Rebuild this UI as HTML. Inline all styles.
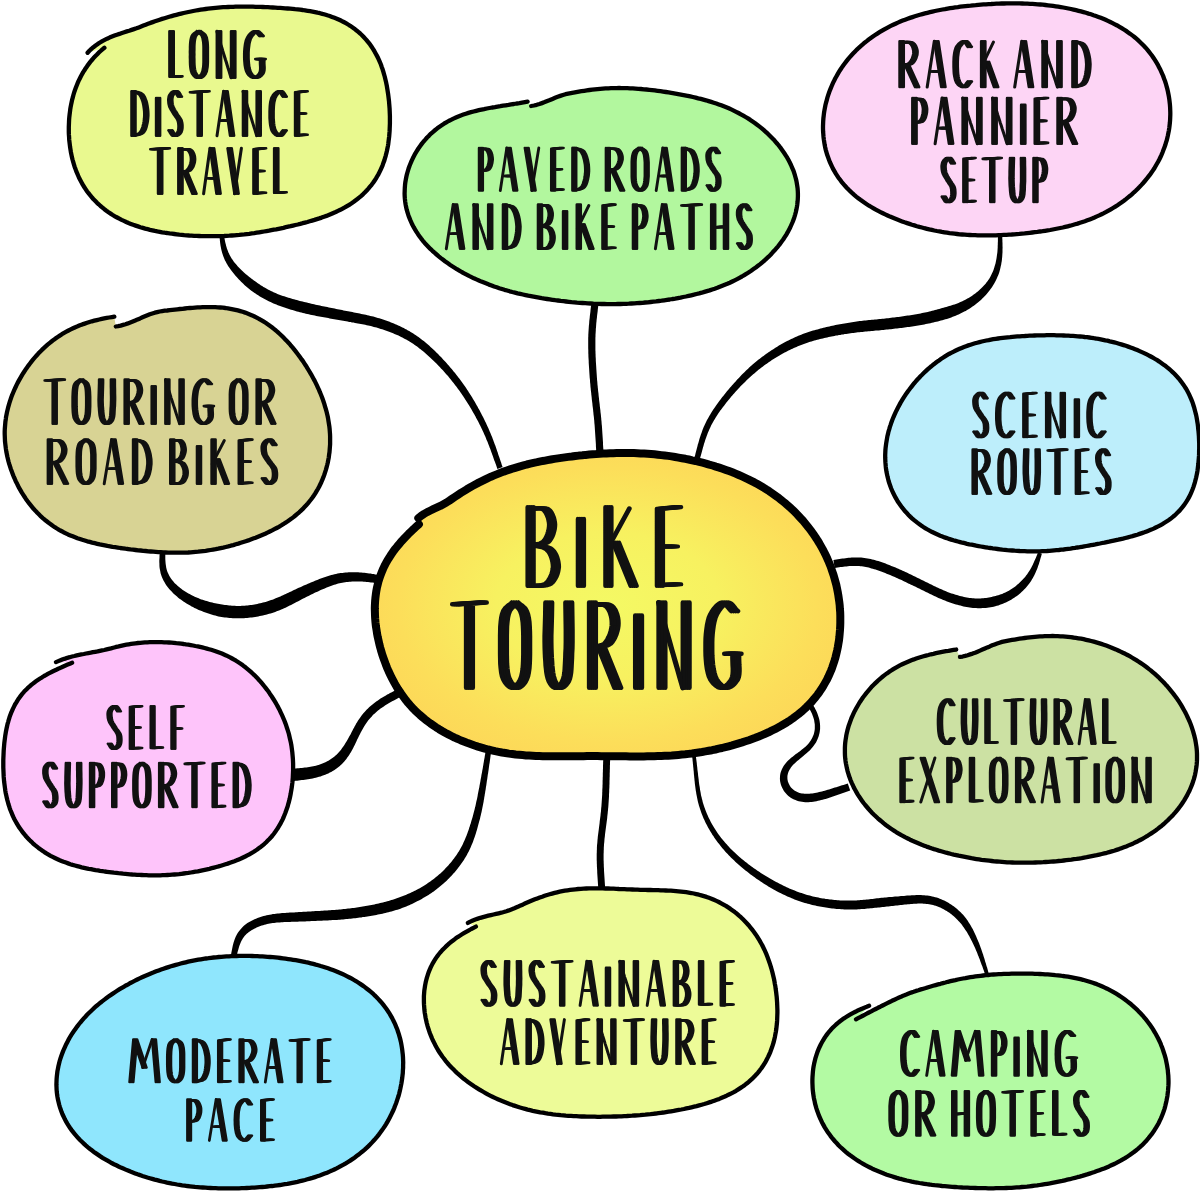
<!DOCTYPE html><html><head><meta charset="utf-8"><style>html,body{margin:0;padding:0;background:#fff;}svg{display:block;}text{font-family:"Liberation Sans",sans-serif;}</style></head><body>
<svg width="1200" height="1191" viewBox="0 0 1200 1191">
<defs><radialGradient id="cg" cx="0.5" cy="0.5" r="0.6"><stop offset="0" stop-color="#F4F964"/><stop offset="0.4" stop-color="#F7F160"/><stop offset="0.75" stop-color="#FCDE5A"/><stop offset="1" stop-color="#FDD457"/></radialGradient></defs>
<rect width="1200" height="1191" fill="#fff"/>
<path d="M219.4,236.3 L219.6,237.8 L219.8,239.3 L219.9,240.8 L220.1,242.4 L220.3,243.9 L220.5,245.4 L220.8,246.9 L221.1,248.5 L221.4,250.0 L221.8,251.5 L222.2,253.0 L222.7,254.5 L223.2,256.0 L223.8,257.5 L224.4,259.0 L225.0,260.4 L225.8,261.8 L226.5,263.2 L227.3,264.6 L228.1,265.9 L229.0,267.3 L229.9,268.6 L230.8,269.8 L231.7,271.1 L232.7,272.3 L233.7,273.6 L234.7,274.8 L235.7,276.0 L236.7,277.1 L237.8,278.3 L238.9,279.4 L240.0,280.5 L241.1,281.7 L242.2,282.7 L243.3,283.8 L244.4,284.9 L245.6,285.9 L246.8,287.0 L248.0,288.0 L249.2,289.0 L250.4,289.9 L251.7,290.9 L252.9,291.8 L254.2,292.7 L255.5,293.6 L256.8,294.5 L258.2,295.3 L259.5,296.2 L260.8,297.0 L262.2,297.8 L263.6,298.5 L265.0,299.3 L266.4,300.0 L267.8,300.8 L269.2,301.4 L270.6,302.1 L272.0,302.8 L273.5,303.4 L274.9,304.0 L276.4,304.6 L277.8,305.2 L279.3,305.7 L280.8,306.3 L282.2,306.8 L283.7,307.3 L285.2,307.8 L286.6,308.3 L288.1,308.7 L289.6,309.2 L291.0,309.7 L292.5,310.1 L294.0,310.5 L295.5,311.0 L296.9,311.4 L298.4,311.8 L299.9,312.2 L301.4,312.6 L302.9,313.0 L304.4,313.3 L305.8,313.7 L307.3,314.0 L308.8,314.3 L310.3,314.7 L311.8,315.0 L313.3,315.3 L314.8,315.6 L316.3,315.9 L317.8,316.2 L319.3,316.5 L320.8,316.7 L322.3,317.0 L323.8,317.3 L325.3,317.6 L326.8,317.8 L328.3,318.1 L329.7,318.4 L331.2,318.7 L332.7,318.9 L334.2,319.2 L335.7,319.5 L337.2,319.7 L338.7,320.0 L340.1,320.3 L341.6,320.5 L343.1,320.8 L344.6,321.1 L346.1,321.3 L347.6,321.6 L349.1,321.9 L350.6,322.1 L352.0,322.4 L353.5,322.6 L355.0,322.9 L356.5,323.2 L357.9,323.4 L359.4,323.7 L360.9,324.0 L362.3,324.3 L363.8,324.5 L365.2,324.8 L366.7,325.2 L368.1,325.5 L369.5,325.8 L370.9,326.1 L372.4,326.5 L373.8,326.9 L375.2,327.2 L376.6,327.6 L378.0,328.0 L379.4,328.4 L380.8,328.9 L382.2,329.3 L383.6,329.8 L384.9,330.2 L386.3,330.7 L387.7,331.2 L389.1,331.7 L390.4,332.2 L391.8,332.8 L393.1,333.3 L394.5,333.9 L395.8,334.4 L397.1,335.0 L398.5,335.6 L399.8,336.3 L401.1,336.9 L402.4,337.5 L403.6,338.2 L404.9,338.9 L406.2,339.6 L407.4,340.3 L408.7,341.0 L409.9,341.8 L411.1,342.5 L412.3,343.3 L413.5,344.1 L414.7,344.9 L415.9,345.8 L417.1,346.6 L418.3,347.5 L419.4,348.4 L420.6,349.3 L421.7,350.2 L422.8,351.1 L424.0,352.1 L425.1,353.0 L426.2,354.0 L427.3,354.9 L428.4,355.9 L429.5,356.9 L430.6,357.9 L431.6,358.9 L432.7,360.0 L433.8,361.0 L434.8,362.0 L435.9,363.1 L436.9,364.1 L438.0,365.2 L439.0,366.2 L440.0,367.3 L441.0,368.4 L442.1,369.5 L443.1,370.6 L444.1,371.7 L445.0,372.8 L446.0,373.9 L447.0,375.0 L448.0,376.1 L448.9,377.3 L449.9,378.4 L450.8,379.5 L451.7,380.7 L452.7,381.9 L453.6,383.0 L454.5,384.2 L455.4,385.4 L456.3,386.5 L457.2,387.7 L458.0,388.9 L458.9,390.1 L459.8,391.3 L460.6,392.6 L461.5,393.8 L462.3,395.0 L463.2,396.2 L464.0,397.5 L464.8,398.7 L465.6,399.9 L466.4,401.2 L467.2,402.5 L468.0,403.7 L468.8,405.0 L469.6,406.2 L470.3,407.5 L471.1,408.8 L471.8,410.1 L472.6,411.4 L473.3,412.7 L474.1,414.0 L474.8,415.3 L475.5,416.6 L476.2,417.9 L476.9,419.2 L477.6,420.5 L478.3,421.8 L479.0,423.2 L479.6,424.5 L480.3,425.8 L481.0,427.2 L481.6,428.5 L482.2,429.8 L482.9,431.2 L483.5,432.5 L484.1,433.9 L484.7,435.3 L485.3,436.6 L485.9,438.0 L486.4,439.4 L487.0,440.7 L487.6,442.1 L488.1,443.5 L488.7,444.9 L489.2,446.3 L489.7,447.7 L490.3,449.1 L490.8,450.5 L491.3,451.9 L491.8,453.3 L492.3,454.7 L492.8,456.1 L493.3,457.5 L493.8,459.0 L494.3,460.4 L494.9,461.8 L495.4,463.2 L495.9,464.6 L496.4,466.1 L496.9,467.5 L497.4,468.9 L502.6,467.1 L502.1,465.7 L501.6,464.2 L501.2,462.8 L500.7,461.4 L500.2,460.0 L499.7,458.5 L499.2,457.1 L498.7,455.7 L498.2,454.2 L497.8,452.8 L497.3,451.4 L496.8,449.9 L496.3,448.5 L495.8,447.1 L495.3,445.6 L494.7,444.2 L494.2,442.8 L493.7,441.4 L493.2,439.9 L492.6,438.5 L492.1,437.1 L491.5,435.7 L490.9,434.3 L490.3,432.8 L489.7,431.4 L489.1,430.0 L488.5,428.6 L487.9,427.2 L487.3,425.9 L486.6,424.5 L486.0,423.1 L485.3,421.7 L484.6,420.3 L484.0,419.0 L483.3,417.6 L482.6,416.2 L481.9,414.9 L481.2,413.5 L480.5,412.2 L479.8,410.8 L479.1,409.5 L478.3,408.2 L477.6,406.8 L476.8,405.5 L476.1,404.2 L475.3,402.8 L474.6,401.5 L473.8,400.2 L473.0,398.9 L472.2,397.6 L471.4,396.3 L470.6,395.0 L469.8,393.7 L468.9,392.4 L468.1,391.1 L467.3,389.9 L466.4,388.6 L465.6,387.3 L464.7,386.1 L463.8,384.8 L462.9,383.6 L462.0,382.3 L461.1,381.1 L460.2,379.8 L459.3,378.6 L458.4,377.4 L457.5,376.2 L456.5,375.0 L455.6,373.8 L454.6,372.6 L453.6,371.4 L452.7,370.2 L451.7,369.0 L450.7,367.9 L449.7,366.7 L448.7,365.5 L447.7,364.4 L446.7,363.3 L445.6,362.1 L444.6,361.0 L443.6,359.9 L442.5,358.7 L441.5,357.6 L440.4,356.5 L439.3,355.4 L438.3,354.3 L437.2,353.2 L436.1,352.2 L435.0,351.1 L433.9,350.0 L432.8,348.9 L431.7,347.9 L430.5,346.9 L429.4,345.8 L428.2,344.8 L427.0,343.8 L425.8,342.8 L424.7,341.8 L423.4,340.8 L422.2,339.9 L421.0,338.9 L419.7,338.0 L418.5,337.1 L417.2,336.2 L415.9,335.3 L414.6,334.4 L413.3,333.6 L412.0,332.7 L410.6,331.9 L409.3,331.1 L407.9,330.4 L406.6,329.6 L405.2,328.9 L403.8,328.1 L402.4,327.4 L401.0,326.8 L399.6,326.1 L398.2,325.4 L396.8,324.8 L395.3,324.2 L393.9,323.6 L392.5,323.0 L391.0,322.4 L389.6,321.8 L388.1,321.3 L386.7,320.8 L385.2,320.2 L383.8,319.7 L382.3,319.2 L380.8,318.8 L379.3,318.3 L377.8,317.9 L376.3,317.4 L374.8,317.0 L373.3,316.6 L371.8,316.2 L370.3,315.9 L368.8,315.5 L367.3,315.2 L365.8,314.8 L364.3,314.5 L362.8,314.2 L361.3,313.9 L359.8,313.6 L358.4,313.3 L356.9,313.0 L355.4,312.7 L353.9,312.4 L352.4,312.1 L350.9,311.8 L349.4,311.5 L348.0,311.2 L346.5,311.0 L345.0,310.7 L343.5,310.4 L342.1,310.1 L340.6,309.8 L339.1,309.5 L337.6,309.2 L336.2,308.9 L334.7,308.6 L333.2,308.3 L331.7,308.0 L330.3,307.7 L328.8,307.4 L327.3,307.1 L325.8,306.8 L324.4,306.5 L322.9,306.2 L321.4,305.9 L320.0,305.6 L318.5,305.3 L317.0,305.0 L315.6,304.7 L314.1,304.3 L312.7,304.0 L311.3,303.7 L309.8,303.3 L308.4,303.0 L306.9,302.6 L305.5,302.3 L304.1,301.9 L302.6,301.6 L301.2,301.2 L299.8,300.9 L298.3,300.5 L296.9,300.1 L295.5,299.7 L294.0,299.3 L292.6,298.9 L291.2,298.5 L289.8,298.1 L288.4,297.7 L287.0,297.2 L285.6,296.8 L284.2,296.3 L282.9,295.9 L281.5,295.4 L280.1,294.9 L278.8,294.4 L277.4,293.9 L276.1,293.3 L274.8,292.8 L273.5,292.2 L272.2,291.6 L270.9,291.0 L269.6,290.3 L268.4,289.7 L267.1,289.0 L265.9,288.3 L264.6,287.6 L263.4,286.9 L262.2,286.1 L261.0,285.4 L259.8,284.6 L258.6,283.8 L257.4,283.0 L256.2,282.1 L255.1,281.3 L253.9,280.4 L252.7,279.6 L251.6,278.7 L250.4,277.8 L249.3,276.9 L248.1,276.0 L247.0,275.1 L245.9,274.2 L244.8,273.2 L243.7,272.3 L242.7,271.3 L241.6,270.3 L240.6,269.3 L239.6,268.3 L238.6,267.2 L237.6,266.2 L236.7,265.1 L235.8,264.1 L234.9,263.0 L234.0,261.9 L233.2,260.8 L232.4,259.6 L231.6,258.5 L230.9,257.3 L230.2,256.1 L229.6,254.9 L229.0,253.6 L228.4,252.4 L227.9,251.1 L227.4,249.8 L226.9,248.5 L226.5,247.1 L226.1,245.7 L225.8,244.3 L225.4,242.9 L225.1,241.5 L224.8,240.1 L224.5,238.6 L224.2,237.1 L224.0,235.7Z" fill="#000"/>
<path d="M591.4,302.6 L591.3,304.1 L591.1,305.6 L590.9,307.1 L590.7,308.6 L590.5,310.2 L590.4,311.7 L590.2,313.2 L590.0,314.7 L589.8,316.2 L589.7,317.8 L589.5,319.3 L589.3,320.8 L589.2,322.4 L589.1,323.9 L588.9,325.4 L588.8,327.0 L588.7,328.5 L588.6,330.1 L588.5,331.6 L588.4,333.2 L588.3,334.7 L588.3,336.3 L588.2,337.8 L588.2,339.4 L588.2,340.9 L588.2,342.5 L588.2,344.0 L588.2,345.6 L588.2,347.1 L588.2,348.6 L588.3,350.2 L588.3,351.7 L588.3,353.3 L588.4,354.8 L588.4,356.3 L588.5,357.9 L588.6,359.4 L588.7,361.0 L588.7,362.5 L588.8,364.0 L588.9,365.5 L589.0,367.1 L589.1,368.6 L589.2,370.1 L589.3,371.7 L589.4,373.2 L589.5,374.7 L589.6,376.3 L589.7,377.8 L589.9,379.3 L590.0,380.9 L590.1,382.4 L590.3,383.9 L590.4,385.4 L590.5,387.0 L590.7,388.5 L590.8,390.0 L591.0,391.6 L591.2,393.1 L591.3,394.6 L591.5,396.1 L591.7,397.7 L591.8,399.2 L592.0,400.7 L592.2,402.2 L592.4,403.7 L592.5,405.2 L592.7,406.8 L592.9,408.3 L593.1,409.8 L593.2,411.3 L593.4,412.8 L593.5,414.3 L593.7,415.8 L593.9,417.3 L594.0,418.8 L594.2,420.3 L594.3,421.8 L594.4,423.3 L594.6,424.9 L594.7,426.4 L594.8,427.9 L594.9,429.4 L595.0,430.9 L595.1,432.4 L595.2,433.9 L595.3,435.4 L595.4,436.9 L595.5,438.5 L595.6,440.0 L595.7,441.5 L595.8,443.0 L595.9,444.5 L595.9,446.0 L596.0,447.6 L596.1,449.1 L596.2,450.6 L596.3,452.1 L596.3,453.7 L596.4,455.2 L603.6,454.8 L603.5,453.3 L603.4,451.8 L603.4,450.2 L603.3,448.7 L603.2,447.2 L603.1,445.7 L603.0,444.1 L603.0,442.6 L602.9,441.1 L602.8,439.6 L602.7,438.0 L602.6,436.5 L602.5,435.0 L602.4,433.4 L602.3,431.9 L602.2,430.4 L602.1,428.8 L602.0,427.3 L601.9,425.8 L601.7,424.2 L601.6,422.7 L601.5,421.2 L601.3,419.7 L601.2,418.1 L601.0,416.6 L600.9,415.1 L600.7,413.5 L600.5,412.0 L600.4,410.5 L600.2,409.0 L600.0,407.5 L599.8,405.9 L599.7,404.4 L599.5,402.9 L599.3,401.4 L599.1,399.9 L599.0,398.4 L598.8,396.9 L598.6,395.3 L598.5,393.8 L598.3,392.3 L598.1,390.8 L598.0,389.3 L597.8,387.8 L597.7,386.3 L597.5,384.8 L597.4,383.3 L597.3,381.8 L597.1,380.3 L597.0,378.7 L596.9,377.2 L596.8,375.7 L596.7,374.2 L596.6,372.7 L596.5,371.2 L596.4,369.7 L596.3,368.2 L596.2,366.6 L596.1,365.1 L596.0,363.6 L595.9,362.1 L595.8,360.6 L595.8,359.1 L595.7,357.6 L595.6,356.1 L595.6,354.5 L595.5,353.0 L595.5,351.5 L595.4,350.0 L595.4,348.5 L595.4,347.0 L595.4,345.5 L595.4,344.0 L595.4,342.5 L595.4,341.0 L595.4,339.5 L595.4,338.0 L595.5,336.5 L595.5,335.0 L595.6,333.5 L595.7,332.0 L595.8,330.5 L595.8,329.0 L596.0,327.5 L596.1,326.0 L596.2,324.5 L596.3,323.0 L596.5,321.5 L596.6,320.0 L596.8,318.5 L597.0,317.0 L597.1,315.5 L597.3,314.0 L597.5,312.5 L597.7,311.0 L597.8,309.5 L598.0,308.0 L598.2,306.5 L598.4,304.9 L598.6,303.4Z" fill="#000"/>
<path d="M997.9,234.0 L997.9,235.6 L997.9,237.1 L997.9,238.6 L997.9,240.1 L997.9,241.6 L997.8,243.1 L997.8,244.6 L997.7,246.0 L997.7,247.5 L997.6,249.0 L997.5,250.5 L997.4,251.9 L997.2,253.4 L997.0,254.8 L996.8,256.3 L996.6,257.7 L996.4,259.1 L996.1,260.6 L995.8,262.0 L995.5,263.4 L995.1,264.8 L994.7,266.1 L994.3,267.5 L993.9,268.8 L993.4,270.2 L992.9,271.5 L992.3,272.8 L991.7,274.0 L991.1,275.3 L990.5,276.5 L989.8,277.7 L989.1,278.9 L988.3,280.1 L987.5,281.2 L986.6,282.3 L985.8,283.4 L984.9,284.5 L983.9,285.5 L983.0,286.6 L982.0,287.6 L981.0,288.5 L979.9,289.5 L978.9,290.5 L977.8,291.4 L976.7,292.3 L975.6,293.2 L974.5,294.0 L973.3,294.8 L972.2,295.7 L971.0,296.4 L969.8,297.2 L968.6,297.9 L967.4,298.6 L966.2,299.3 L964.9,300.0 L963.7,300.6 L962.4,301.2 L961.1,301.8 L959.9,302.3 L958.5,302.9 L957.2,303.4 L955.9,303.9 L954.5,304.4 L953.2,304.8 L951.8,305.3 L950.5,305.7 L949.1,306.1 L947.7,306.5 L946.3,306.9 L944.9,307.3 L943.5,307.7 L942.1,308.1 L940.7,308.5 L939.2,308.9 L937.8,309.3 L936.4,309.7 L935.0,310.1 L933.6,310.5 L932.1,310.8 L930.7,311.2 L929.3,311.5 L927.8,311.9 L926.4,312.2 L925.0,312.5 L923.5,312.8 L922.1,313.1 L920.6,313.4 L919.2,313.7 L917.7,313.9 L916.3,314.2 L914.8,314.4 L913.4,314.7 L911.9,314.9 L910.4,315.2 L909.0,315.4 L907.5,315.6 L906.0,315.8 L904.5,316.0 L903.1,316.2 L901.6,316.5 L900.1,316.7 L898.6,316.9 L897.1,317.1 L895.6,317.2 L894.1,317.4 L892.7,317.6 L891.2,317.8 L889.7,318.0 L888.2,318.2 L886.7,318.3 L885.2,318.5 L883.8,318.7 L882.3,318.8 L880.8,319.0 L879.3,319.1 L877.8,319.3 L876.3,319.4 L874.8,319.6 L873.3,319.7 L871.8,319.8 L870.3,320.0 L868.8,320.1 L867.3,320.3 L865.7,320.4 L864.2,320.6 L862.7,320.8 L861.2,320.9 L859.7,321.1 L858.1,321.3 L856.6,321.5 L855.1,321.7 L853.6,322.0 L852.0,322.2 L850.5,322.4 L849.0,322.7 L847.5,322.9 L846.0,323.2 L844.5,323.4 L842.9,323.7 L841.4,324.0 L839.9,324.3 L838.4,324.5 L836.9,324.8 L835.4,325.1 L833.9,325.5 L832.4,325.8 L830.9,326.1 L829.4,326.4 L827.9,326.8 L826.4,327.1 L824.9,327.5 L823.4,327.8 L821.9,328.2 L820.4,328.6 L819.0,329.0 L817.5,329.4 L816.0,329.8 L814.5,330.2 L813.0,330.6 L811.5,331.1 L810.0,331.6 L808.5,332.0 L807.1,332.5 L805.6,333.0 L804.1,333.6 L802.7,334.1 L801.2,334.7 L799.8,335.2 L798.3,335.8 L796.9,336.5 L795.5,337.1 L794.0,337.7 L792.6,338.4 L791.2,339.0 L789.8,339.7 L788.4,340.4 L787.1,341.1 L785.7,341.8 L784.3,342.6 L783.0,343.3 L781.6,344.1 L780.3,344.8 L778.9,345.6 L777.6,346.4 L776.3,347.2 L775.0,348.0 L773.7,348.9 L772.4,349.7 L771.1,350.5 L769.8,351.4 L768.5,352.3 L767.2,353.2 L766.0,354.0 L764.7,355.0 L763.5,355.9 L762.2,356.8 L761.0,357.7 L759.8,358.7 L758.6,359.6 L757.4,360.6 L756.2,361.6 L755.0,362.6 L753.8,363.6 L752.6,364.6 L751.5,365.6 L750.3,366.6 L749.2,367.6 L748.1,368.7 L746.9,369.7 L745.8,370.8 L744.7,371.9 L743.6,373.0 L742.5,374.1 L741.5,375.1 L740.4,376.2 L739.3,377.4 L738.3,378.5 L737.2,379.6 L736.2,380.7 L735.2,381.9 L734.1,383.0 L733.1,384.2 L732.1,385.3 L731.1,386.4 L730.1,387.6 L729.1,388.8 L728.1,389.9 L727.1,391.1 L726.2,392.3 L725.2,393.5 L724.2,394.7 L723.3,395.9 L722.3,397.1 L721.4,398.3 L720.5,399.5 L719.5,400.7 L718.6,401.9 L717.7,403.2 L716.8,404.4 L715.9,405.7 L715.1,406.9 L714.2,408.2 L713.3,409.5 L712.5,410.8 L711.7,412.1 L710.8,413.4 L710.1,414.7 L709.3,416.0 L708.5,417.4 L707.8,418.7 L707.0,420.1 L706.3,421.5 L705.6,422.9 L705.0,424.3 L704.3,425.7 L703.7,427.1 L703.1,428.6 L702.5,430.0 L702.0,431.4 L701.5,432.9 L700.9,434.4 L700.5,435.8 L700.0,437.3 L699.5,438.8 L699.1,440.2 L698.7,441.7 L698.3,443.2 L697.8,444.6 L697.5,446.1 L697.1,447.6 L696.7,449.0 L696.3,450.5 L695.9,452.0 L695.5,453.4 L695.2,454.9 L694.8,456.4 L694.4,457.8 L694.0,459.3 L699.4,460.7 L699.8,459.3 L700.2,457.8 L700.6,456.3 L701.0,454.9 L701.4,453.4 L701.8,452.0 L702.2,450.5 L702.6,449.1 L703.0,447.6 L703.4,446.2 L703.8,444.8 L704.2,443.3 L704.7,441.9 L705.1,440.5 L705.6,439.1 L706.1,437.7 L706.6,436.3 L707.1,434.9 L707.6,433.6 L708.1,432.2 L708.7,430.9 L709.3,429.6 L709.9,428.2 L710.5,426.9 L711.1,425.6 L711.8,424.3 L712.5,423.0 L713.2,421.7 L713.9,420.5 L714.7,419.2 L715.4,418.0 L716.2,416.7 L717.0,415.5 L717.8,414.3 L718.6,413.0 L719.5,411.8 L720.3,410.6 L721.2,409.4 L722.1,408.2 L723.0,407.0 L723.9,405.9 L724.8,404.7 L725.7,403.5 L726.6,402.3 L727.5,401.2 L728.5,400.0 L729.4,398.9 L730.4,397.7 L731.3,396.6 L732.3,395.5 L733.3,394.3 L734.3,393.2 L735.3,392.1 L736.2,391.0 L737.2,389.9 L738.3,388.8 L739.3,387.7 L740.3,386.6 L741.3,385.6 L742.4,384.5 L743.4,383.5 L744.5,382.4 L745.5,381.4 L746.6,380.3 L747.7,379.3 L748.8,378.3 L749.9,377.3 L751.0,376.3 L752.1,375.3 L753.2,374.3 L754.3,373.4 L755.4,372.4 L756.5,371.5 L757.7,370.5 L758.8,369.6 L760.0,368.7 L761.1,367.8 L762.3,366.9 L763.5,366.0 L764.7,365.1 L765.9,364.3 L767.1,363.4 L768.3,362.6 L769.5,361.8 L770.7,360.9 L771.9,360.1 L773.2,359.3 L774.4,358.5 L775.7,357.8 L776.9,357.0 L778.2,356.2 L779.5,355.5 L780.7,354.8 L782.0,354.0 L783.3,353.3 L784.6,352.6 L785.9,351.9 L787.2,351.3 L788.5,350.6 L789.8,350.0 L791.1,349.3 L792.5,348.7 L793.8,348.1 L795.1,347.5 L796.5,346.9 L797.8,346.3 L799.2,345.8 L800.5,345.2 L801.9,344.7 L803.2,344.2 L804.6,343.7 L806.0,343.2 L807.4,342.7 L808.7,342.3 L810.1,341.8 L811.5,341.4 L812.9,341.0 L814.3,340.6 L815.7,340.2 L817.2,339.8 L818.6,339.4 L820.0,339.1 L821.4,338.7 L822.9,338.4 L824.3,338.0 L825.7,337.7 L827.2,337.4 L828.6,337.1 L830.1,336.8 L831.5,336.5 L833.0,336.2 L834.5,335.9 L835.9,335.6 L837.4,335.4 L838.9,335.1 L840.3,334.9 L841.8,334.6 L843.3,334.4 L844.7,334.1 L846.2,333.9 L847.7,333.7 L849.1,333.5 L850.6,333.3 L852.1,333.1 L853.5,332.9 L855.0,332.7 L856.5,332.5 L857.9,332.3 L859.4,332.2 L860.9,332.0 L862.4,331.9 L863.9,331.7 L865.3,331.6 L866.8,331.4 L868.3,331.3 L869.8,331.2 L871.3,331.0 L872.8,330.9 L874.3,330.8 L875.8,330.6 L877.3,330.5 L878.8,330.4 L880.4,330.2 L881.9,330.1 L883.4,329.9 L884.9,329.8 L886.4,329.6 L887.9,329.5 L889.5,329.3 L891.0,329.2 L892.5,329.0 L894.0,328.8 L895.5,328.6 L897.0,328.5 L898.5,328.3 L900.1,328.1 L901.6,327.9 L903.1,327.7 L904.6,327.5 L906.1,327.3 L907.6,327.1 L909.1,326.9 L910.6,326.7 L912.2,326.5 L913.7,326.2 L915.2,326.0 L916.7,325.8 L918.2,325.5 L919.7,325.2 L921.3,325.0 L922.8,324.7 L924.3,324.4 L925.8,324.1 L927.3,323.8 L928.9,323.5 L930.4,323.2 L931.9,322.8 L933.4,322.5 L934.9,322.1 L936.4,321.8 L937.9,321.4 L939.4,321.0 L940.9,320.6 L942.4,320.2 L943.9,319.8 L945.4,319.3 L946.9,318.9 L948.3,318.5 L949.8,317.9 L951.3,317.4 L952.7,316.8 L954.2,316.3 L955.7,315.7 L957.1,315.0 L958.6,314.4 L960.0,313.7 L961.4,313.1 L962.9,312.3 L964.3,311.6 L965.7,310.9 L967.1,310.1 L968.5,309.3 L969.8,308.4 L971.2,307.5 L972.5,306.6 L973.8,305.7 L975.1,304.8 L976.3,303.8 L977.6,302.8 L978.8,301.8 L980.0,300.7 L981.2,299.7 L982.3,298.6 L983.4,297.5 L984.6,296.3 L985.6,295.2 L986.7,294.0 L987.7,292.8 L988.7,291.6 L989.7,290.3 L990.6,289.0 L991.6,287.7 L992.4,286.4 L993.3,285.1 L994.1,283.7 L994.9,282.3 L995.6,280.9 L996.3,279.5 L997.0,278.1 L997.6,276.6 L998.2,275.2 L998.8,273.7 L999.3,272.2 L999.7,270.7 L1000.1,269.2 L1000.5,267.6 L1000.8,266.1 L1001.2,264.6 L1001.4,263.0 L1001.7,261.5 L1001.9,260.0 L1002.0,258.4 L1002.2,256.9 L1002.3,255.3 L1002.4,253.8 L1002.5,252.2 L1002.5,250.7 L1002.5,249.2 L1002.6,247.6 L1002.5,246.1 L1002.5,244.6 L1002.5,243.0 L1002.4,241.5 L1002.4,240.0 L1002.3,238.5 L1002.2,237.0 L1002.1,235.5 L1002.1,234.0Z" fill="#000"/>
<path d="M159.7,552.9 L159.6,554.4 L159.5,555.9 L159.5,557.5 L159.4,559.0 L159.3,560.6 L159.3,562.1 L159.4,563.7 L159.4,565.3 L159.5,566.9 L159.7,568.4 L160.0,570.0 L160.3,571.6 L160.6,573.2 L161.1,574.7 L161.6,576.3 L162.2,577.8 L162.9,579.2 L163.6,580.7 L164.4,582.1 L165.2,583.5 L166.1,584.9 L167.0,586.2 L168.0,587.5 L169.0,588.7 L170.1,589.9 L171.2,591.1 L172.3,592.3 L173.4,593.4 L174.6,594.5 L175.8,595.6 L177.0,596.6 L178.2,597.7 L179.5,598.7 L180.8,599.6 L182.1,600.5 L183.4,601.5 L184.7,602.3 L186.1,603.2 L187.4,604.0 L188.8,604.8 L190.2,605.6 L191.6,606.4 L193.0,607.1 L194.4,607.9 L195.9,608.5 L197.3,609.2 L198.7,609.9 L200.2,610.5 L201.7,611.1 L203.2,611.7 L204.7,612.2 L206.2,612.8 L207.7,613.3 L209.2,613.8 L210.7,614.3 L212.2,614.7 L213.8,615.2 L215.3,615.6 L216.8,616.0 L218.4,616.4 L220.0,616.7 L221.5,616.9 L223.1,617.2 L224.7,617.4 L226.3,617.6 L227.9,617.8 L229.5,617.9 L231.1,618.1 L232.7,618.2 L234.3,618.2 L235.9,618.3 L237.5,618.3 L239.1,618.3 L240.7,618.3 L242.3,618.2 L244.0,618.2 L245.6,618.1 L247.2,617.9 L248.7,617.8 L250.3,617.6 L251.9,617.4 L253.5,617.2 L255.1,617.0 L256.7,616.7 L258.2,616.4 L259.8,616.1 L261.4,615.8 L262.9,615.4 L264.5,615.1 L266.0,614.7 L267.6,614.3 L269.1,613.8 L270.6,613.4 L272.2,612.9 L273.7,612.4 L275.2,611.9 L276.7,611.3 L278.2,610.7 L279.7,610.2 L281.2,609.6 L282.6,608.9 L284.1,608.3 L285.5,607.7 L286.9,607.0 L288.3,606.3 L289.7,605.6 L291.1,604.9 L292.4,604.2 L293.8,603.5 L295.2,602.8 L296.5,602.1 L297.8,601.4 L299.2,600.7 L300.5,600.0 L301.8,599.3 L303.2,598.6 L304.5,597.9 L305.8,597.2 L307.2,596.6 L308.5,595.9 L309.9,595.2 L311.2,594.6 L312.5,593.9 L313.9,593.3 L315.2,592.6 L316.6,592.0 L318.0,591.4 L319.3,590.8 L320.7,590.1 L322.0,589.5 L323.4,588.9 L324.7,588.4 L326.1,587.8 L327.4,587.2 L328.8,586.7 L330.1,586.2 L331.5,585.7 L332.8,585.2 L334.1,584.8 L335.5,584.4 L336.8,584.0 L338.2,583.6 L339.6,583.3 L340.9,583.0 L342.3,582.7 L343.7,582.5 L345.1,582.2 L346.5,582.1 L347.9,581.9 L349.3,581.8 L350.7,581.7 L352.1,581.6 L353.6,581.5 L355.0,581.5 L356.4,581.5 L357.9,581.5 L359.3,581.5 L360.8,581.6 L362.2,581.6 L363.7,581.7 L365.1,581.8 L366.6,581.9 L368.0,582.1 L369.5,582.2 L370.9,582.4 L372.4,582.6 L373.8,582.8 L375.3,583.1 L376.8,583.3 L378.2,583.5 L379.7,583.8 L381.2,584.1 L382.8,575.9 L381.3,575.6 L379.8,575.3 L378.3,575.0 L376.8,574.7 L375.3,574.4 L373.7,574.1 L372.2,573.9 L370.7,573.6 L369.1,573.4 L367.6,573.2 L366.0,573.0 L364.4,572.8 L362.9,572.7 L361.3,572.5 L359.7,572.4 L358.2,572.3 L356.6,572.3 L355.0,572.2 L353.4,572.2 L351.9,572.2 L350.3,572.3 L348.7,572.3 L347.1,572.4 L345.5,572.5 L343.9,572.7 L342.3,572.9 L340.7,573.1 L339.1,573.3 L337.5,573.6 L336.0,573.9 L334.4,574.3 L332.8,574.7 L331.3,575.1 L329.8,575.5 L328.2,576.0 L326.7,576.4 L325.2,576.9 L323.7,577.5 L322.2,578.0 L320.8,578.5 L319.3,579.1 L317.9,579.7 L316.4,580.2 L315.0,580.8 L313.6,581.4 L312.2,582.0 L310.8,582.6 L309.3,583.2 L307.9,583.8 L306.5,584.4 L305.1,585.0 L303.7,585.6 L302.3,586.2 L300.9,586.9 L299.5,587.5 L298.1,588.1 L296.7,588.8 L295.3,589.4 L293.9,590.1 L292.5,590.7 L291.2,591.4 L289.8,592.0 L288.4,592.7 L287.1,593.3 L285.7,593.9 L284.4,594.6 L283.0,595.2 L281.7,595.8 L280.4,596.4 L279.0,596.9 L277.7,597.5 L276.4,598.1 L275.1,598.6 L273.7,599.2 L272.4,599.7 L271.1,600.1 L269.7,600.6 L268.4,601.1 L267.0,601.5 L265.6,601.9 L264.3,602.3 L262.9,602.6 L261.5,603.0 L260.1,603.3 L258.7,603.6 L257.3,603.9 L255.9,604.2 L254.5,604.5 L253.1,604.7 L251.7,604.9 L250.3,605.1 L248.9,605.3 L247.5,605.4 L246.1,605.6 L244.7,605.7 L243.3,605.8 L241.9,605.8 L240.4,605.9 L239.0,605.9 L237.6,605.9 L236.2,605.9 L234.8,605.8 L233.4,605.8 L232.0,605.7 L230.6,605.6 L229.2,605.4 L227.8,605.3 L226.3,605.1 L224.9,604.9 L223.5,604.7 L222.1,604.4 L220.7,604.2 L219.3,604.0 L217.9,603.8 L216.5,603.5 L215.1,603.2 L213.7,602.9 L212.3,602.6 L210.9,602.3 L209.5,601.9 L208.2,601.5 L206.8,601.1 L205.4,600.7 L204.0,600.3 L202.7,599.8 L201.3,599.4 L200.0,598.9 L198.7,598.3 L197.3,597.8 L196.0,597.2 L194.7,596.7 L193.4,596.1 L192.2,595.4 L190.9,594.8 L189.6,594.1 L188.4,593.4 L187.2,592.7 L186.0,592.0 L184.8,591.2 L183.6,590.5 L182.4,589.7 L181.3,588.8 L180.2,588.0 L179.1,587.1 L178.0,586.2 L177.0,585.3 L176.0,584.3 L175.0,583.4 L174.1,582.4 L173.2,581.3 L172.3,580.3 L171.5,579.2 L170.8,578.2 L170.0,577.0 L169.4,575.9 L168.8,574.8 L168.2,573.6 L167.7,572.4 L167.2,571.2 L166.8,569.9 L166.5,568.7 L166.2,567.4 L166.0,566.0 L165.8,564.7 L165.6,563.3 L165.5,561.9 L165.4,560.5 L165.3,559.0 L165.3,557.6 L165.3,556.1 L165.3,554.6 L165.3,553.1Z" fill="#000"/>
<path d="M292.6,781.2 L294.1,781.0 L295.6,780.8 L297.2,780.7 L298.7,780.5 L300.2,780.3 L301.7,780.1 L303.3,779.9 L304.8,779.7 L306.4,779.5 L308.0,779.2 L309.5,779.0 L311.1,778.7 L312.7,778.4 L314.3,778.0 L315.8,777.7 L317.4,777.3 L319.0,776.8 L320.6,776.4 L322.1,775.8 L323.7,775.3 L325.2,774.7 L326.8,774.0 L328.3,773.4 L329.8,772.6 L331.2,771.9 L332.7,771.0 L334.1,770.2 L335.5,769.3 L336.9,768.3 L338.2,767.3 L339.5,766.2 L340.8,765.1 L342.0,763.9 L343.1,762.7 L344.3,761.5 L345.3,760.2 L346.4,758.9 L347.3,757.6 L348.3,756.3 L349.2,754.9 L350.0,753.6 L350.9,752.2 L351.7,750.8 L352.4,749.4 L353.2,748.0 L353.9,746.6 L354.6,745.2 L355.3,743.8 L355.9,742.4 L356.6,741.0 L357.2,739.6 L357.9,738.2 L358.5,736.9 L359.2,735.5 L359.9,734.2 L360.6,732.8 L361.3,731.5 L362.0,730.2 L362.7,729.0 L363.4,727.7 L364.1,726.5 L364.9,725.3 L365.7,724.1 L366.4,722.9 L367.3,721.8 L368.1,720.6 L369.0,719.5 L369.9,718.5 L370.8,717.4 L371.8,716.4 L372.7,715.3 L373.7,714.3 L374.8,713.4 L375.8,712.4 L376.9,711.5 L378.0,710.6 L379.1,709.7 L380.2,708.8 L381.4,708.0 L382.6,707.2 L383.8,706.4 L385.0,705.6 L386.2,704.8 L387.5,704.1 L388.7,703.3 L390.0,702.6 L391.3,701.8 L392.6,701.1 L393.9,700.4 L395.2,699.7 L396.6,699.0 L397.9,698.3 L399.2,697.6 L400.6,696.9 L401.9,696.2 L398.1,688.8 L396.7,689.5 L395.4,690.2 L394.0,691.0 L392.7,691.7 L391.3,692.4 L390.0,693.1 L388.6,693.9 L387.2,694.6 L385.9,695.4 L384.5,696.2 L383.2,697.0 L381.9,697.8 L380.5,698.6 L379.2,699.5 L377.9,700.4 L376.6,701.3 L375.3,702.2 L374.0,703.2 L372.8,704.2 L371.5,705.2 L370.3,706.2 L369.1,707.3 L368.0,708.4 L366.8,709.5 L365.7,710.7 L364.6,711.9 L363.6,713.1 L362.6,714.3 L361.6,715.6 L360.6,716.9 L359.7,718.2 L358.8,719.5 L357.9,720.8 L357.1,722.2 L356.2,723.5 L355.5,724.9 L354.7,726.3 L354.0,727.7 L353.2,729.0 L352.5,730.4 L351.8,731.8 L351.2,733.1 L350.5,734.5 L349.7,735.8 L349.0,737.1 L348.2,738.4 L347.5,739.7 L346.8,741.0 L346.0,742.2 L345.2,743.5 L344.5,744.7 L343.7,745.9 L342.9,747.1 L342.0,748.2 L341.2,749.4 L340.4,750.4 L339.5,751.5 L338.6,752.5 L337.7,753.5 L336.8,754.4 L335.8,755.3 L334.8,756.2 L333.8,757.0 L332.8,757.8 L331.7,758.6 L330.6,759.3 L329.5,760.0 L328.4,760.7 L327.2,761.3 L326.0,761.9 L324.8,762.5 L323.6,763.1 L322.4,763.6 L321.1,764.0 L319.8,764.5 L318.6,764.9 L317.3,765.3 L315.9,765.7 L314.6,766.0 L313.2,766.3 L311.9,766.6 L310.5,766.8 L309.1,767.0 L307.7,767.2 L306.3,767.4 L304.8,767.6 L303.4,767.8 L301.9,767.9 L300.4,768.1 L298.9,768.2 L297.4,768.3 L295.9,768.4 L294.4,768.6 L292.9,768.7 L291.4,768.8Z" fill="#000"/>
<path d="M485.6,751.6 L485.3,753.1 L485.1,754.5 L484.8,756.0 L484.6,757.5 L484.3,759.0 L484.0,760.5 L483.8,762.0 L483.5,763.5 L483.3,764.9 L483.0,766.4 L482.8,767.9 L482.5,769.4 L482.2,770.9 L482.0,772.4 L481.7,773.8 L481.4,775.3 L481.2,776.8 L480.9,778.3 L480.6,779.8 L480.4,781.2 L480.1,782.7 L479.8,784.2 L479.5,785.7 L479.3,787.2 L479.0,788.6 L478.7,790.1 L478.4,791.6 L478.1,793.1 L477.8,794.5 L477.6,796.0 L477.3,797.5 L477.0,798.9 L476.6,800.4 L476.3,801.8 L476.0,803.3 L475.7,804.7 L475.4,806.2 L475.0,807.6 L474.7,809.1 L474.3,810.5 L473.9,812.0 L473.5,813.4 L473.2,814.8 L472.8,816.3 L472.4,817.7 L472.0,819.1 L471.5,820.5 L471.1,822.0 L470.7,823.4 L470.2,824.8 L469.8,826.2 L469.3,827.6 L468.9,829.0 L468.4,830.4 L467.9,831.8 L467.4,833.2 L466.9,834.6 L466.4,835.9 L465.8,837.3 L465.3,838.6 L464.7,840.0 L464.1,841.3 L463.5,842.6 L462.9,843.9 L462.3,845.2 L461.6,846.4 L460.9,847.7 L460.2,849.0 L459.5,850.2 L458.8,851.4 L458.0,852.6 L457.3,853.8 L456.5,855.0 L455.6,856.2 L454.8,857.3 L454.0,858.5 L453.1,859.6 L452.2,860.8 L451.3,861.9 L450.4,863.0 L449.4,864.1 L448.5,865.2 L447.5,866.2 L446.5,867.3 L445.5,868.3 L444.5,869.4 L443.5,870.4 L442.5,871.4 L441.4,872.4 L440.4,873.4 L439.3,874.3 L438.2,875.3 L437.1,876.2 L436.0,877.1 L434.9,878.0 L433.7,878.9 L432.6,879.8 L431.5,880.6 L430.3,881.5 L429.1,882.3 L427.9,883.1 L426.7,883.9 L425.5,884.7 L424.3,885.5 L423.1,886.2 L421.8,887.0 L420.6,887.7 L419.3,888.4 L418.1,889.1 L416.8,889.8 L415.5,890.4 L414.2,891.1 L412.9,891.7 L411.6,892.3 L410.3,892.9 L409.0,893.5 L407.6,894.1 L406.3,894.7 L405.0,895.2 L403.6,895.8 L402.3,896.3 L400.9,896.8 L399.6,897.3 L398.2,897.8 L396.8,898.3 L395.5,898.7 L394.1,899.2 L392.7,899.7 L391.3,900.1 L390.0,900.5 L388.6,900.9 L387.2,901.3 L385.8,901.7 L384.4,902.1 L383.0,902.5 L381.5,902.8 L380.1,903.1 L378.7,903.5 L377.3,903.8 L375.8,904.1 L374.4,904.4 L372.9,904.7 L371.5,905.0 L370.0,905.2 L368.6,905.5 L367.1,905.8 L365.6,906.0 L364.2,906.3 L362.7,906.5 L361.3,906.8 L359.8,907.0 L358.3,907.2 L356.8,907.4 L355.4,907.7 L353.9,907.9 L352.4,908.1 L351.0,908.3 L349.5,908.4 L348.0,908.6 L346.6,908.8 L345.1,909.0 L343.6,909.1 L342.1,909.3 L340.7,909.4 L339.2,909.5 L337.7,909.7 L336.2,909.8 L334.7,909.9 L333.3,910.0 L331.8,910.1 L330.3,910.2 L328.8,910.3 L327.3,910.4 L325.8,910.5 L324.3,910.6 L322.8,910.7 L321.3,910.8 L319.8,910.9 L318.3,910.9 L316.8,911.0 L315.3,911.1 L313.8,911.2 L312.3,911.3 L310.8,911.4 L309.2,911.5 L307.7,911.6 L306.2,911.7 L304.7,911.7 L303.2,911.8 L301.7,911.9 L300.2,912.0 L298.7,912.1 L297.2,912.2 L295.7,912.3 L294.2,912.4 L292.7,912.4 L291.2,912.5 L289.7,912.6 L288.2,912.7 L286.7,912.8 L285.2,912.9 L283.6,913.0 L282.1,913.1 L280.6,913.2 L279.0,913.4 L277.5,913.5 L275.9,913.7 L274.4,913.9 L272.8,914.1 L271.3,914.4 L269.7,914.7 L268.2,915.0 L266.6,915.3 L265.1,915.7 L263.5,916.1 L262.0,916.5 L260.5,917.0 L259.0,917.5 L257.5,918.1 L256.0,918.7 L254.5,919.3 L253.1,920.0 L251.6,920.7 L250.2,921.5 L248.8,922.3 L247.4,923.1 L246.1,924.1 L244.8,925.1 L243.6,926.1 L242.4,927.3 L241.3,928.4 L240.2,929.7 L239.2,930.9 L238.2,932.3 L237.4,933.6 L236.6,935.0 L235.8,936.5 L235.2,937.9 L234.6,939.4 L234.1,940.9 L233.6,942.4 L233.2,943.9 L232.8,945.4 L232.5,947.0 L232.2,948.5 L231.9,950.0 L231.6,951.5 L231.3,953.0 L231.1,954.5 L230.8,956.0 L230.6,957.5 L236.0,958.5 L236.4,957.1 L236.7,955.6 L237.1,954.2 L237.4,952.7 L237.8,951.3 L238.2,949.9 L238.6,948.5 L239.0,947.1 L239.4,945.8 L239.9,944.5 L240.4,943.2 L240.9,942.0 L241.5,940.8 L242.1,939.7 L242.8,938.6 L243.5,937.6 L244.2,936.6 L245.0,935.6 L245.8,934.7 L246.7,933.8 L247.7,933.0 L248.6,932.2 L249.7,931.5 L250.8,930.7 L251.9,930.1 L253.0,929.4 L254.2,928.8 L255.4,928.2 L256.6,927.6 L257.9,927.1 L259.1,926.5 L260.4,926.1 L261.7,925.6 L263.1,925.2 L264.4,924.8 L265.8,924.5 L267.1,924.1 L268.5,923.8 L269.9,923.6 L271.3,923.3 L272.7,923.1 L274.1,922.9 L275.5,922.7 L276.9,922.6 L278.3,922.5 L279.8,922.4 L281.2,922.3 L282.7,922.2 L284.2,922.1 L285.7,922.0 L287.1,922.0 L288.6,921.9 L290.1,921.9 L291.6,921.8 L293.1,921.8 L294.6,921.7 L296.2,921.7 L297.7,921.7 L299.2,921.6 L300.7,921.6 L302.2,921.5 L303.7,921.4 L305.2,921.4 L306.7,921.3 L308.2,921.3 L309.8,921.2 L311.3,921.1 L312.8,921.0 L314.3,921.0 L315.8,920.9 L317.3,920.8 L318.8,920.8 L320.3,920.7 L321.8,920.7 L323.3,920.6 L324.8,920.5 L326.3,920.4 L327.8,920.4 L329.4,920.3 L330.9,920.2 L332.4,920.1 L333.9,920.1 L335.4,920.0 L337.0,919.9 L338.5,919.8 L340.0,919.7 L341.5,919.5 L343.1,919.4 L344.6,919.3 L346.1,919.1 L347.6,919.0 L349.2,918.8 L350.7,918.7 L352.2,918.5 L353.7,918.3 L355.3,918.2 L356.8,918.0 L358.3,917.8 L359.8,917.6 L361.3,917.4 L362.8,917.1 L364.3,916.9 L365.9,916.7 L367.4,916.5 L368.9,916.2 L370.4,916.0 L371.9,915.7 L373.4,915.4 L374.9,915.2 L376.4,914.9 L377.9,914.6 L379.5,914.3 L381.0,914.0 L382.5,913.7 L384.0,913.3 L385.5,913.0 L387.0,912.6 L388.5,912.2 L390.0,911.8 L391.5,911.4 L393.0,911.0 L394.5,910.6 L396.0,910.1 L397.5,909.7 L399.0,909.2 L400.5,908.7 L402.0,908.1 L403.4,907.6 L404.9,907.0 L406.3,906.4 L407.8,905.8 L409.2,905.2 L410.6,904.5 L412.0,903.9 L413.4,903.2 L414.8,902.5 L416.2,901.8 L417.6,901.1 L419.0,900.4 L420.4,899.7 L421.8,898.9 L423.1,898.1 L424.5,897.3 L425.8,896.5 L427.1,895.7 L428.5,894.9 L429.8,894.0 L431.1,893.2 L432.4,892.3 L433.7,891.4 L434.9,890.4 L436.2,889.5 L437.4,888.5 L438.7,887.6 L439.9,886.6 L441.1,885.6 L442.3,884.6 L443.5,883.5 L444.6,882.5 L445.8,881.4 L446.9,880.4 L448.0,879.3 L449.1,878.2 L450.2,877.0 L451.3,875.9 L452.4,874.8 L453.4,873.6 L454.5,872.4 L455.5,871.2 L456.5,870.0 L457.5,868.8 L458.4,867.6 L459.4,866.3 L460.3,865.1 L461.2,863.8 L462.1,862.5 L463.0,861.2 L463.9,859.9 L464.7,858.6 L465.5,857.2 L466.3,855.9 L467.1,854.5 L467.8,853.1 L468.6,851.7 L469.3,850.3 L469.9,848.9 L470.6,847.5 L471.2,846.0 L471.8,844.6 L472.4,843.2 L473.0,841.7 L473.5,840.2 L474.0,838.8 L474.6,837.3 L475.0,835.9 L475.5,834.4 L476.0,832.9 L476.4,831.5 L476.9,830.0 L477.3,828.5 L477.7,827.0 L478.1,825.6 L478.5,824.1 L478.9,822.6 L479.3,821.1 L479.7,819.7 L480.1,818.2 L480.4,816.7 L480.8,815.2 L481.1,813.7 L481.5,812.2 L481.8,810.7 L482.1,809.2 L482.4,807.7 L482.7,806.2 L483.0,804.7 L483.3,803.2 L483.6,801.7 L483.8,800.2 L484.1,798.7 L484.3,797.3 L484.6,795.8 L484.8,794.3 L485.1,792.8 L485.3,791.3 L485.6,789.8 L485.8,788.3 L486.0,786.8 L486.3,785.3 L486.5,783.8 L486.7,782.3 L486.9,780.8 L487.2,779.3 L487.4,777.8 L487.6,776.3 L487.8,774.8 L488.1,773.3 L488.3,771.8 L488.5,770.4 L488.7,768.9 L488.9,767.4 L489.1,765.9 L489.3,764.4 L489.6,762.9 L489.8,761.4 L490.0,759.9 L490.2,758.4 L490.4,756.9 L490.6,755.4 L490.8,753.9 L491.0,752.4Z" fill="#000"/>
<path d="M603.3,757.9 L603.2,759.4 L603.2,761.0 L603.1,762.5 L603.1,764.0 L603.0,765.5 L603.0,767.1 L603.0,768.6 L602.9,770.1 L602.9,771.7 L602.8,773.2 L602.8,774.7 L602.8,776.2 L602.7,777.8 L602.7,779.3 L602.6,780.8 L602.6,782.3 L602.6,783.9 L602.5,785.4 L602.5,786.9 L602.4,788.4 L602.3,789.9 L602.3,791.5 L602.2,793.0 L602.2,794.5 L602.1,796.0 L602.0,797.5 L601.9,799.0 L601.8,800.5 L601.7,802.0 L601.6,803.5 L601.5,805.0 L601.4,806.6 L601.2,808.1 L601.1,809.6 L601.0,811.1 L600.8,812.6 L600.6,814.1 L600.5,815.6 L600.3,817.1 L600.1,818.6 L599.9,820.1 L599.7,821.6 L599.6,823.1 L599.4,824.6 L599.2,826.1 L599.0,827.6 L598.8,829.2 L598.6,830.7 L598.4,832.2 L598.2,833.7 L598.0,835.3 L597.8,836.8 L597.7,838.3 L597.5,839.9 L597.4,841.4 L597.3,843.0 L597.1,844.5 L597.0,846.1 L596.9,847.6 L596.9,849.2 L596.8,850.8 L596.8,852.3 L596.7,853.9 L596.7,855.4 L596.7,857.0 L596.7,858.5 L596.7,860.1 L596.8,861.6 L596.8,863.2 L596.9,864.7 L596.9,866.3 L597.0,867.8 L597.1,869.3 L597.2,870.9 L597.2,872.4 L597.3,874.0 L597.4,875.5 L597.5,877.0 L597.6,878.5 L597.7,880.1 L597.8,881.6 L597.9,883.1 L598.0,884.6 L598.1,886.2 L598.2,887.7 L598.3,889.2 L605.1,888.8 L605.1,887.3 L605.0,885.7 L604.9,884.2 L604.8,882.7 L604.7,881.2 L604.6,879.6 L604.5,878.1 L604.4,876.6 L604.3,875.1 L604.2,873.6 L604.1,872.0 L604.0,870.5 L604.0,869.0 L603.9,867.5 L603.8,866.0 L603.8,864.5 L603.7,863.0 L603.7,861.5 L603.6,860.0 L603.6,858.5 L603.6,857.0 L603.6,855.5 L603.6,854.0 L603.7,852.5 L603.7,851.0 L603.8,849.5 L603.8,848.0 L603.9,846.5 L604.0,845.0 L604.1,843.5 L604.3,842.0 L604.4,840.5 L604.5,839.0 L604.7,837.5 L604.9,836.1 L605.0,834.5 L605.2,833.0 L605.4,831.5 L605.6,830.0 L605.8,828.5 L606.0,827.0 L606.2,825.5 L606.4,824.0 L606.6,822.5 L606.8,820.9 L607.0,819.4 L607.2,817.9 L607.3,816.4 L607.5,814.8 L607.7,813.3 L607.8,811.7 L608.0,810.2 L608.1,808.7 L608.3,807.1 L608.4,805.6 L608.5,804.0 L608.6,802.5 L608.7,801.0 L608.8,799.4 L608.9,797.9 L609.0,796.4 L609.0,794.8 L609.1,793.3 L609.2,791.7 L609.2,790.2 L609.3,788.7 L609.4,787.1 L609.4,785.6 L609.5,784.1 L609.5,782.5 L609.5,781.0 L609.6,779.5 L609.6,777.9 L609.7,776.4 L609.7,774.9 L609.7,773.4 L609.8,771.8 L609.8,770.3 L609.9,768.8 L609.9,767.3 L609.9,765.7 L610.0,764.2 L610.0,762.7 L610.1,761.1 L610.1,759.6 L610.1,758.1Z" fill="#000"/>
<path d="M692.2,756.2 L692.3,757.7 L692.5,759.2 L692.6,760.7 L692.8,762.2 L692.9,763.7 L693.1,765.2 L693.2,766.7 L693.4,768.2 L693.5,769.7 L693.7,771.2 L693.8,772.7 L693.9,774.2 L694.1,775.7 L694.2,777.2 L694.4,778.7 L694.5,780.2 L694.7,781.7 L694.8,783.2 L695.0,784.7 L695.2,786.2 L695.4,787.7 L695.6,789.2 L695.8,790.7 L696.1,792.2 L696.3,793.8 L696.6,795.3 L696.9,796.8 L697.2,798.3 L697.5,799.8 L697.8,801.2 L698.2,802.7 L698.6,804.2 L699.0,805.7 L699.5,807.2 L699.9,808.6 L700.4,810.1 L700.9,811.5 L701.4,813.0 L702.0,814.4 L702.5,815.8 L703.1,817.3 L703.7,818.7 L704.4,820.1 L705.0,821.5 L705.7,822.9 L706.4,824.2 L707.1,825.6 L707.8,826.9 L708.5,828.3 L709.3,829.6 L710.1,830.9 L710.9,832.3 L711.7,833.6 L712.5,834.9 L713.4,836.1 L714.2,837.4 L715.1,838.7 L716.0,839.9 L716.9,841.2 L717.8,842.4 L718.7,843.6 L719.7,844.8 L720.6,846.0 L721.6,847.2 L722.6,848.4 L723.6,849.6 L724.6,850.7 L725.6,851.9 L726.6,853.0 L727.7,854.1 L728.7,855.2 L729.8,856.3 L730.9,857.4 L732.0,858.5 L733.1,859.6 L734.2,860.6 L735.3,861.7 L736.4,862.7 L737.6,863.7 L738.7,864.8 L739.9,865.8 L741.0,866.8 L742.2,867.7 L743.4,868.7 L744.6,869.7 L745.8,870.7 L747.0,871.6 L748.2,872.5 L749.4,873.5 L750.6,874.4 L751.8,875.3 L753.1,876.2 L754.3,877.1 L755.5,878.0 L756.8,878.9 L758.1,879.8 L759.3,880.6 L760.6,881.5 L761.9,882.3 L763.2,883.2 L764.4,884.0 L765.7,884.8 L767.0,885.6 L768.3,886.4 L769.7,887.2 L771.0,888.0 L772.3,888.8 L773.6,889.5 L775.0,890.3 L776.3,891.0 L777.7,891.7 L779.1,892.4 L780.4,893.1 L781.8,893.8 L783.2,894.5 L784.6,895.1 L786.0,895.8 L787.4,896.4 L788.8,897.0 L790.2,897.6 L791.7,898.2 L793.1,898.8 L794.5,899.4 L796.0,899.9 L797.4,900.5 L798.9,901.0 L800.3,901.5 L801.8,902.0 L803.3,902.4 L804.8,902.9 L806.3,903.3 L807.7,903.7 L809.2,904.1 L810.7,904.5 L812.2,904.9 L813.7,905.3 L815.3,905.6 L816.8,905.9 L818.3,906.2 L819.8,906.5 L821.3,906.8 L822.8,907.1 L824.4,907.3 L825.9,907.6 L827.4,907.8 L828.9,908.0 L830.5,908.2 L832.0,908.4 L833.5,908.6 L835.1,908.7 L836.6,908.9 L838.1,909.0 L839.7,909.1 L841.2,909.2 L842.8,909.3 L844.3,909.4 L845.9,909.4 L847.4,909.5 L849.0,909.5 L850.5,909.5 L852.1,909.5 L853.6,909.5 L855.2,909.4 L856.7,909.4 L858.2,909.3 L859.8,909.2 L861.3,909.1 L862.9,909.0 L864.4,908.9 L865.9,908.7 L867.4,908.6 L868.9,908.5 L870.5,908.3 L872.0,908.2 L873.5,908.0 L875.0,907.8 L876.5,907.7 L878.0,907.5 L879.5,907.4 L881.0,907.2 L882.4,907.1 L883.9,906.9 L885.4,906.7 L886.9,906.6 L888.4,906.4 L889.9,906.2 L891.4,906.1 L892.9,905.9 L894.4,905.7 L895.9,905.6 L897.4,905.4 L898.9,905.3 L900.4,905.1 L901.8,905.0 L903.3,904.8 L904.8,904.6 L906.3,904.5 L907.8,904.3 L909.3,904.2 L910.8,904.1 L912.2,904.0 L913.7,903.8 L915.1,903.8 L916.6,903.7 L918.0,903.6 L919.4,903.6 L920.8,903.6 L922.2,903.6 L923.6,903.7 L925.0,903.8 L926.4,903.9 L927.7,904.1 L929.1,904.3 L930.4,904.5 L931.7,904.8 L933.1,905.1 L934.4,905.4 L935.7,905.8 L937.0,906.3 L938.2,906.7 L939.5,907.3 L940.8,907.8 L942.0,908.4 L943.2,909.0 L944.4,909.7 L945.6,910.4 L946.8,911.1 L948.0,911.9 L949.1,912.6 L950.3,913.5 L951.4,914.3 L952.5,915.2 L953.5,916.1 L954.6,917.0 L955.6,917.9 L956.6,918.9 L957.6,919.9 L958.5,920.9 L959.5,922.0 L960.4,923.0 L961.3,924.1 L962.2,925.2 L963.0,926.4 L963.8,927.5 L964.6,928.7 L965.4,929.9 L966.2,931.1 L967.0,932.3 L967.7,933.6 L968.5,934.9 L969.2,936.1 L969.9,937.4 L970.6,938.7 L971.2,940.0 L971.9,941.3 L972.6,942.7 L973.2,944.0 L973.8,945.3 L974.5,946.7 L975.1,948.0 L975.7,949.4 L976.2,950.8 L976.8,952.1 L977.4,953.5 L977.9,954.9 L978.5,956.3 L979.0,957.7 L979.6,959.0 L980.1,960.4 L980.6,961.9 L981.1,963.3 L981.6,964.7 L982.2,966.1 L982.7,967.5 L983.2,968.9 L983.7,970.3 L984.2,971.7 L984.7,973.2 L985.2,974.6 L988.8,973.4 L988.3,972.0 L987.9,970.5 L987.5,969.1 L987.1,967.6 L986.6,966.2 L986.2,964.7 L985.8,963.3 L985.3,961.9 L984.9,960.4 L984.5,959.0 L984.0,957.5 L983.5,956.1 L983.1,954.6 L982.6,953.2 L982.1,951.7 L981.6,950.3 L981.1,948.8 L980.6,947.4 L980.1,946.0 L979.5,944.5 L979.0,943.1 L978.4,941.7 L977.8,940.3 L977.2,938.9 L976.6,937.5 L976.0,936.1 L975.4,934.7 L974.7,933.3 L974.1,931.9 L973.4,930.5 L972.7,929.1 L971.9,927.8 L971.2,926.4 L970.4,925.1 L969.6,923.7 L968.7,922.4 L967.9,921.1 L967.0,919.8 L966.1,918.5 L965.1,917.3 L964.1,916.0 L963.1,914.8 L962.0,913.7 L960.9,912.5 L959.8,911.4 L958.6,910.4 L957.4,909.3 L956.2,908.3 L954.9,907.3 L953.7,906.3 L952.4,905.4 L951.1,904.5 L949.7,903.7 L948.4,902.8 L947.0,902.1 L945.6,901.3 L944.2,900.6 L942.7,899.9 L941.2,899.3 L939.8,898.7 L938.3,898.1 L936.7,897.6 L935.2,897.2 L933.6,896.8 L932.1,896.4 L930.5,896.1 L928.9,895.8 L927.3,895.6 L925.7,895.4 L924.2,895.3 L922.6,895.2 L921.0,895.1 L919.4,895.1 L917.8,895.1 L916.3,895.1 L914.7,895.2 L913.2,895.2 L911.6,895.3 L910.1,895.4 L908.6,895.5 L907.1,895.6 L905.5,895.7 L904.0,895.9 L902.5,896.0 L901.0,896.1 L899.5,896.2 L898.0,896.4 L896.5,896.5 L895.0,896.6 L893.5,896.7 L892.0,896.9 L890.5,897.0 L889.0,897.1 L887.5,897.3 L886.0,897.4 L884.5,897.5 L883.0,897.7 L881.5,897.8 L879.9,898.0 L878.4,898.2 L876.9,898.3 L875.4,898.5 L874.0,898.7 L872.5,898.9 L871.0,899.0 L869.5,899.2 L868.0,899.4 L866.5,899.5 L865.1,899.7 L863.6,899.8 L862.1,900.0 L860.6,900.1 L859.2,900.2 L857.7,900.3 L856.3,900.4 L854.8,900.5 L853.3,900.5 L851.9,900.6 L850.4,900.6 L849.0,900.6 L847.5,900.6 L846.1,900.6 L844.6,900.6 L843.2,900.5 L841.7,900.5 L840.2,900.4 L838.8,900.3 L837.3,900.2 L835.9,900.1 L834.4,899.9 L832.9,899.8 L831.5,899.6 L830.0,899.5 L828.6,899.3 L827.1,899.1 L825.7,898.9 L824.2,898.6 L822.8,898.4 L821.3,898.2 L819.9,897.9 L818.5,897.6 L817.0,897.3 L815.6,897.0 L814.2,896.7 L812.8,896.4 L811.3,896.0 L809.9,895.6 L808.5,895.3 L807.1,894.9 L805.7,894.5 L804.3,894.0 L802.9,893.6 L801.6,893.1 L800.2,892.7 L798.8,892.2 L797.4,891.7 L796.1,891.2 L794.7,890.6 L793.3,890.1 L792.0,889.5 L790.6,889.0 L789.3,888.4 L788.0,887.8 L786.6,887.2 L785.3,886.6 L784.0,885.9 L782.6,885.3 L781.3,884.6 L780.0,884.0 L778.7,883.3 L777.4,882.6 L776.1,881.9 L774.8,881.2 L773.5,880.5 L772.2,879.8 L770.9,879.1 L769.6,878.3 L768.4,877.6 L767.1,876.8 L765.8,876.1 L764.6,875.3 L763.3,874.5 L762.1,873.7 L760.8,872.9 L759.6,872.1 L758.4,871.3 L757.1,870.5 L755.9,869.6 L754.7,868.8 L753.5,867.9 L752.3,867.1 L751.1,866.2 L749.9,865.3 L748.7,864.4 L747.6,863.5 L746.4,862.6 L745.2,861.7 L744.1,860.8 L742.9,859.8 L741.8,858.9 L740.7,857.9 L739.5,857.0 L738.4,856.0 L737.3,855.0 L736.2,854.0 L735.2,853.0 L734.1,852.0 L733.0,851.0 L732.0,849.9 L730.9,848.9 L729.9,847.9 L728.9,846.8 L727.9,845.7 L726.9,844.6 L725.9,843.5 L725.0,842.4 L724.0,841.3 L723.1,840.2 L722.1,839.0 L721.2,837.9 L720.3,836.7 L719.4,835.5 L718.6,834.4 L717.7,833.2 L716.9,832.0 L716.1,830.7 L715.3,829.5 L714.5,828.3 L713.7,827.0 L713.0,825.7 L712.2,824.5 L711.5,823.2 L710.8,821.9 L710.1,820.6 L709.5,819.3 L708.8,818.0 L708.2,816.7 L707.6,815.3 L707.0,814.0 L706.4,812.6 L705.9,811.3 L705.4,809.9 L704.9,808.5 L704.4,807.2 L703.9,805.8 L703.5,804.4 L703.0,803.0 L702.6,801.6 L702.3,800.1 L701.9,798.7 L701.6,797.3 L701.2,795.9 L700.9,794.4 L700.7,793.0 L700.4,791.5 L700.1,790.0 L699.9,788.6 L699.7,787.1 L699.4,785.6 L699.2,784.2 L699.0,782.7 L698.8,781.2 L698.7,779.7 L698.5,778.2 L698.3,776.7 L698.1,775.2 L698.0,773.8 L697.8,772.3 L697.6,770.8 L697.4,769.3 L697.3,767.8 L697.1,766.3 L696.9,764.8 L696.8,763.3 L696.6,761.8 L696.4,760.3 L696.2,758.8 L696.0,757.3 L695.8,755.8Z" fill="#000"/>
<path d="M804.9,701.3 L805.7,702.6 L806.5,703.9 L807.3,705.2 L808.0,706.4 L808.8,707.7 L809.5,709.0 L810.2,710.2 L810.9,711.5 L811.5,712.8 L812.1,714.1 L812.6,715.4 L813.1,716.7 L813.5,718.0 L813.9,719.3 L814.2,720.6 L814.4,721.9 L814.6,723.2 L814.8,724.6 L814.8,725.9 L814.8,727.2 L814.8,728.5 L814.7,729.8 L814.5,731.1 L814.2,732.4 L813.9,733.7 L813.5,734.9 L813.0,736.1 L812.5,737.3 L811.9,738.5 L811.3,739.6 L810.6,740.8 L809.8,741.8 L809.0,742.9 L808.1,743.9 L807.2,744.9 L806.2,745.9 L805.2,746.9 L804.1,747.8 L803.0,748.7 L801.9,749.6 L800.8,750.5 L799.6,751.4 L798.4,752.3 L797.2,753.2 L795.9,754.0 L794.7,755.0 L793.5,755.9 L792.3,756.9 L791.1,757.8 L789.9,758.9 L788.7,760.0 L787.6,761.1 L786.5,762.3 L785.5,763.5 L784.5,764.8 L783.6,766.1 L782.8,767.5 L782.0,769.0 L781.4,770.5 L780.8,772.0 L780.4,773.6 L780.1,775.2 L780.0,776.9 L779.9,778.5 L780.0,780.2 L780.2,781.8 L780.6,783.4 L781.0,785.0 L781.6,786.6 L782.3,788.1 L783.1,789.6 L783.9,791.0 L784.9,792.3 L786.0,793.6 L787.1,794.8 L788.4,795.9 L789.7,796.9 L791.1,797.9 L792.5,798.7 L794.0,799.5 L795.5,800.1 L797.1,800.7 L798.7,801.2 L800.3,801.6 L801.9,801.8 L803.6,802.0 L805.2,802.2 L806.9,802.2 L808.5,802.2 L810.1,802.1 L811.7,801.9 L813.3,801.7 L814.9,801.5 L816.5,801.2 L818.0,800.8 L819.6,800.5 L821.1,800.1 L822.6,799.7 L824.1,799.3 L825.6,798.9 L827.1,798.4 L828.6,798.0 L830.0,797.5 L831.5,797.0 L832.9,796.5 L834.4,796.1 L835.8,795.6 L837.3,795.1 L838.7,794.6 L840.2,794.1 L841.6,793.6 L843.0,793.1 L844.5,792.6 L845.9,792.1 L847.3,791.6 L848.8,791.1 L850.2,790.5 L847.8,783.5 L846.4,783.9 L844.9,784.4 L843.5,784.9 L842.0,785.3 L840.6,785.8 L839.2,786.3 L837.7,786.7 L836.3,787.2 L834.8,787.6 L833.4,788.1 L832.0,788.5 L830.5,789.0 L829.1,789.4 L827.7,789.8 L826.2,790.3 L824.8,790.7 L823.4,791.1 L822.0,791.4 L820.6,791.8 L819.1,792.1 L817.7,792.5 L816.3,792.7 L814.9,793.0 L813.6,793.2 L812.2,793.4 L810.8,793.6 L809.5,793.7 L808.2,793.7 L806.9,793.8 L805.6,793.8 L804.3,793.7 L803.1,793.6 L801.9,793.4 L800.7,793.2 L799.5,792.9 L798.4,792.5 L797.3,792.1 L796.3,791.6 L795.3,791.0 L794.4,790.4 L793.5,789.7 L792.6,789.0 L791.8,788.2 L791.0,787.4 L790.3,786.5 L789.7,785.6 L789.2,784.6 L788.7,783.6 L788.3,782.6 L787.9,781.5 L787.7,780.5 L787.5,779.4 L787.4,778.3 L787.4,777.2 L787.4,776.1 L787.6,775.1 L787.8,774.0 L788.1,772.9 L788.5,771.8 L789.0,770.8 L789.5,769.7 L790.2,768.7 L790.9,767.6 L791.7,766.6 L792.5,765.6 L793.4,764.6 L794.3,763.7 L795.4,762.7 L796.4,761.8 L797.5,760.8 L798.6,759.9 L799.7,759.0 L800.9,758.0 L802.1,757.1 L803.3,756.1 L804.4,755.1 L805.6,754.1 L806.8,753.1 L807.9,752.1 L809.1,751.0 L810.2,749.9 L811.2,748.7 L812.3,747.5 L813.3,746.3 L814.2,745.0 L815.1,743.7 L816.0,742.4 L816.7,741.0 L817.4,739.6 L818.0,738.1 L818.6,736.6 L819.0,735.1 L819.4,733.6 L819.7,732.0 L819.9,730.5 L820.1,728.9 L820.1,727.3 L820.1,725.7 L820.0,724.1 L819.8,722.6 L819.6,721.0 L819.3,719.5 L818.9,717.9 L818.4,716.4 L817.9,714.9 L817.4,713.5 L816.8,712.0 L816.1,710.6 L815.4,709.2 L814.7,707.8 L813.9,706.5 L813.2,705.1 L812.4,703.8 L811.6,702.5 L810.7,701.2 L809.9,699.9 L809.1,698.7Z" fill="#000"/>
<path d="M834.6,568.0 L836.1,567.7 L837.6,567.5 L839.1,567.3 L840.6,567.1 L842.0,566.9 L843.5,566.7 L845.0,566.5 L846.4,566.4 L847.9,566.2 L849.3,566.1 L850.7,566.0 L852.1,565.9 L853.5,565.9 L854.9,565.9 L856.3,565.9 L857.7,565.9 L859.1,566.0 L860.5,566.2 L861.8,566.3 L863.2,566.5 L864.6,566.7 L865.9,567.0 L867.3,567.3 L868.7,567.6 L870.1,568.0 L871.4,568.4 L872.8,568.8 L874.2,569.2 L875.6,569.6 L876.9,570.1 L878.3,570.6 L879.7,571.1 L881.1,571.6 L882.5,572.1 L883.8,572.6 L885.2,573.1 L886.6,573.7 L888.0,574.2 L889.4,574.8 L890.7,575.3 L892.1,575.9 L893.5,576.5 L894.8,577.1 L896.2,577.7 L897.5,578.3 L898.9,578.9 L900.2,579.5 L901.6,580.1 L902.9,580.8 L904.3,581.4 L905.6,582.1 L907.0,582.7 L908.3,583.4 L909.7,584.0 L911.0,584.7 L912.4,585.3 L913.8,586.0 L915.1,586.6 L916.5,587.3 L917.8,588.0 L919.2,588.6 L920.5,589.3 L921.9,590.0 L923.2,590.6 L924.6,591.3 L925.9,592.0 L927.3,592.6 L928.7,593.3 L930.0,594.0 L931.4,594.6 L932.8,595.3 L934.2,596.0 L935.6,596.6 L937.0,597.2 L938.4,597.9 L939.8,598.5 L941.2,599.1 L942.7,599.7 L944.1,600.3 L945.5,600.8 L947.0,601.4 L948.5,601.9 L949.9,602.5 L951.4,603.0 L952.9,603.5 L954.4,603.9 L955.9,604.4 L957.4,604.8 L958.9,605.2 L960.4,605.6 L961.9,606.0 L963.5,606.4 L965.0,606.7 L966.6,607.0 L968.2,607.3 L969.7,607.5 L971.3,607.7 L972.9,607.9 L974.5,608.0 L976.1,608.1 L977.7,608.2 L979.3,608.2 L980.9,608.2 L982.6,608.1 L984.2,608.0 L985.8,607.9 L987.4,607.7 L989.0,607.5 L990.6,607.3 L992.1,607.0 L993.7,606.7 L995.3,606.3 L996.8,605.8 L998.4,605.4 L999.9,604.8 L1001.4,604.3 L1002.9,603.7 L1004.4,603.1 L1005.9,602.4 L1007.3,601.7 L1008.7,601.0 L1010.2,600.2 L1011.6,599.4 L1012.9,598.6 L1014.3,597.7 L1015.6,596.8 L1016.9,595.9 L1018.2,594.9 L1019.4,593.9 L1020.6,592.9 L1021.8,591.8 L1023.0,590.7 L1024.1,589.6 L1025.2,588.4 L1026.3,587.3 L1027.3,586.0 L1028.3,584.8 L1029.3,583.5 L1030.2,582.2 L1031.1,580.9 L1031.9,579.5 L1032.7,578.2 L1033.5,576.8 L1034.2,575.4 L1034.9,574.0 L1035.6,572.6 L1036.2,571.1 L1036.8,569.7 L1037.4,568.2 L1037.9,566.8 L1038.4,565.3 L1038.9,563.9 L1039.3,562.4 L1039.8,560.9 L1040.2,559.5 L1040.6,558.0 L1041.1,556.6 L1041.5,555.1 L1041.9,553.7 L1038.1,552.3 L1037.5,553.7 L1037.0,555.1 L1036.4,556.5 L1035.8,557.9 L1035.2,559.3 L1034.6,560.6 L1034.0,562.0 L1033.4,563.3 L1032.8,564.7 L1032.1,566.0 L1031.5,567.2 L1030.8,568.5 L1030.1,569.7 L1029.3,571.0 L1028.6,572.1 L1027.8,573.3 L1027.0,574.4 L1026.1,575.6 L1025.3,576.7 L1024.4,577.7 L1023.4,578.8 L1022.5,579.8 L1021.5,580.8 L1020.5,581.8 L1019.5,582.7 L1018.5,583.7 L1017.4,584.6 L1016.4,585.5 L1015.3,586.4 L1014.2,587.2 L1013.0,588.0 L1011.9,588.8 L1010.7,589.5 L1009.6,590.2 L1008.4,590.9 L1007.2,591.6 L1005.9,592.2 L1004.7,592.8 L1003.4,593.3 L1002.2,593.9 L1000.9,594.3 L999.6,594.8 L998.3,595.2 L996.9,595.6 L995.6,596.0 L994.3,596.3 L992.9,596.6 L991.6,596.9 L990.2,597.2 L988.9,597.5 L987.5,597.7 L986.1,597.9 L984.8,598.1 L983.4,598.2 L982.0,598.3 L980.6,598.4 L979.3,598.5 L977.9,598.5 L976.5,598.5 L975.1,598.4 L973.7,598.3 L972.3,598.2 L971.0,598.0 L969.6,597.9 L968.2,597.7 L966.8,597.4 L965.4,597.2 L964.0,596.9 L962.6,596.6 L961.2,596.2 L959.8,595.9 L958.4,595.5 L957.0,595.1 L955.6,594.7 L954.3,594.3 L952.9,593.8 L951.5,593.4 L950.1,592.9 L948.8,592.4 L947.4,591.9 L946.0,591.3 L944.7,590.8 L943.3,590.2 L942.0,589.6 L940.7,589.0 L939.3,588.4 L938.0,587.8 L936.6,587.2 L935.3,586.5 L933.9,585.9 L932.6,585.2 L931.3,584.6 L929.9,583.9 L928.6,583.2 L927.2,582.6 L925.8,581.9 L924.5,581.2 L923.1,580.6 L921.8,579.9 L920.4,579.2 L919.1,578.6 L917.7,577.9 L916.3,577.2 L915.0,576.6 L913.6,575.9 L912.3,575.3 L910.9,574.6 L909.5,573.9 L908.1,573.3 L906.8,572.6 L905.4,572.0 L904.0,571.3 L902.6,570.7 L901.2,570.1 L899.8,569.4 L898.4,568.8 L897.0,568.2 L895.6,567.6 L894.2,567.0 L892.8,566.4 L891.3,565.9 L889.9,565.3 L888.5,564.7 L887.0,564.2 L885.6,563.6 L884.1,563.1 L882.7,562.6 L881.2,562.1 L879.8,561.6 L878.3,561.1 L876.8,560.7 L875.3,560.3 L873.8,559.8 L872.2,559.5 L870.7,559.1 L869.1,558.8 L867.6,558.5 L866.0,558.2 L864.4,558.0 L862.8,557.8 L861.2,557.6 L859.6,557.5 L858.0,557.4 L856.4,557.4 L854.9,557.4 L853.3,557.5 L851.7,557.6 L850.1,557.7 L848.5,557.8 L847.0,558.0 L845.5,558.2 L843.9,558.4 L842.4,558.6 L840.9,558.8 L839.4,559.1 L837.9,559.3 L836.4,559.6 L834.9,559.8 L833.4,560.0Z" fill="#000"/>
<path d="M87.6,52.8 L89.4,50.8 L91.4,48.9 L93.4,47.2 L95.6,45.5 L97.8,43.9 L100.0,42.5 L102.3,41.1 L104.7,39.9 L107.1,38.7 L109.5,37.6 L112.0,36.6 L114.5,35.6 L116.9,34.7 L119.4,33.9 L121.9,33.0 L124.3,32.2 L126.8,31.4 L129.2,30.7 L131.6,29.9 L134.0,29.1 L136.4,28.3 L138.8,27.4 L141.1,26.5 L143.4,25.6 L145.7,24.7 L148.0,23.8 L150.4,22.9 L152.7,22.1 L155.0,21.3 L157.4,20.5 L159.7,19.7 L162.1,18.9 L164.5,18.2 L166.8,17.5 L169.2,16.8 L171.6,16.1 L174.0,15.4 L176.4,14.8 L178.8,14.2 L181.2,13.6 L183.6,13.0 L186.0,12.5 L188.4,12.0 L190.9,11.5 L193.3,11.0 L195.8,10.5 L198.2,10.1 L200.7,9.7 L203.1,9.3 L205.6,9.0 L208.1,8.7 L210.6,8.4 L213.1,8.1 L215.6,7.8 L218.1,7.6 L220.6,7.4 L223.1,7.2 L225.6,7.1 L228.1,7.0 L230.6,6.9 L233.1,6.8 L235.6,6.7 L238.1,6.7 L240.6,6.6 L243.0,6.6 L245.5,6.6 L248.0,6.7 L250.5,6.7 L253.0,6.7 L255.5,6.8 L258.0,6.9 L260.4,6.9 L262.9,7.0 L265.4,7.1 L267.9,7.2 L270.3,7.4 L272.8,7.5 L275.3,7.6 L277.8,7.8 L280.2,7.9 L282.7,8.1 L285.2,8.3 L287.7,8.5 L290.1,8.7 L292.6,8.9 L295.1,9.2 L297.6,9.4 L300.1,9.7 L302.6,10.0 L305.1,10.4 L307.6,10.8 L310.1,11.2 L312.5,11.6 L315.0,12.1 L317.5,12.7 L320.0,13.2 L322.4,13.9 L324.9,14.5 L327.3,15.3 L329.7,16.0 L332.1,16.9 L334.5,17.8 L336.8,18.7 L339.2,19.8 L341.4,20.8 L343.7,22.0 L345.9,23.2 L348.1,24.5 L350.2,25.8 L352.3,27.2 L354.4,28.7 L356.3,30.3 L358.3,31.9 L360.2,33.5 L362.0,35.2 L363.7,37.0 L365.4,38.9 L367.1,40.8 L368.6,42.7 L370.2,44.7 L371.6,46.8 L373.0,48.9 L374.3,51.0 L375.5,53.2 L376.7,55.4 L377.9,57.6 L378.9,59.9 L379.9,62.2 L380.9,64.5 L381.7,66.9 L382.6,69.3 L383.3,71.7 L384.0,74.1 L384.7,76.5 L385.3,78.9 L385.9,81.4 L386.4,83.9 L386.9,86.3 L387.3,88.8 L387.7,91.3 L388.1,93.8 L388.4,96.2 L388.7,98.7 L389.0,101.2 L389.2,103.7 L389.4,106.2 L389.6,108.7 L389.7,111.2 L389.8,113.7 L389.9,116.2 L389.9,118.7 L389.9,121.2 L389.9,123.7 L389.8,126.2 L389.7,128.7 L389.6,131.2 L389.4,133.7 L389.2,136.2 L388.9,138.7 L388.6,141.1 L388.3,143.6 L387.9,146.1 L387.4,148.5 L386.9,151.0 L386.3,153.4 L385.7,155.8 L385.0,158.2 L384.3,160.6 L383.4,162.9 L382.6,165.3 L381.6,167.6 L380.6,169.8 L379.5,172.1 L378.4,174.3 L377.1,176.5 L375.9,178.6 L374.5,180.7 L373.1,182.8 L371.6,184.8 L370.0,186.7 L368.4,188.6 L366.7,190.5 L365.0,192.3 L363.2,194.1 L361.3,195.8 L359.4,197.4 L357.4,199.0 L355.4,200.5 L353.4,202.0 L351.3,203.5 L349.2,204.8 L347.0,206.1 L344.8,207.4 L342.6,208.6 L340.3,209.8 L338.0,210.9 L335.7,212.0 L333.4,213.0 L331.1,214.0 L328.7,215.0 L326.4,215.9 L324.0,216.7 L321.6,217.6 L319.3,218.4 L316.9,219.1 L314.5,219.9 L312.1,220.6 L309.7,221.3 L307.4,222.0 L305.0,222.6 L302.6,223.2 L300.2,223.9 L297.8,224.5 L295.4,225.0 L293.0,225.6 L290.6,226.2 L288.2,226.7 L285.8,227.2 L283.5,227.8 L281.1,228.3 L278.6,228.8 L276.2,229.3 L273.8,229.7 L271.4,230.2 L269.0,230.7 L266.5,231.1 L264.1,231.5 L261.7,231.9 L259.2,232.3 L256.7,232.7 L254.3,233.1 L251.8,233.4 L249.3,233.8 L246.8,234.1 L244.3,234.4 L241.8,234.6 L239.3,234.9 L236.8,235.1 L234.3,235.3 L231.8,235.5 L229.3,235.7 L226.7,235.8 L224.2,236.0 L221.7,236.1 L219.2,236.1 L216.6,236.2 L214.1,236.2 L211.6,236.2 L209.1,236.2 L206.6,236.2 L204.1,236.2 L201.6,236.1 L199.1,236.0 L196.6,235.9 L194.1,235.8 L191.6,235.6 L189.2,235.5 L186.7,235.3 L184.2,235.1 L181.8,234.8 L179.3,234.6 L176.8,234.3 L174.4,234.0 L171.9,233.7 L169.5,233.4 L167.1,233.0 L164.6,232.7 L162.2,232.3 L159.7,231.8 L157.3,231.4 L154.9,230.9 L152.4,230.3 L150.0,229.8 L147.6,229.2 L145.2,228.6 L142.8,227.9 L140.4,227.2 L138.0,226.4 L135.6,225.6 L133.2,224.8 L130.8,223.9 L128.5,223.0 L126.2,222.0 L123.9,220.9 L121.6,219.9 L119.3,218.7 L117.1,217.5 L114.9,216.3 L112.7,215.0 L110.6,213.6 L108.5,212.2 L106.4,210.7 L104.4,209.2 L102.5,207.6 L100.5,206.0 L98.7,204.3 L96.8,202.6 L95.1,200.8 L93.3,199.0 L91.7,197.1 L90.1,195.2 L88.5,193.2 L87.0,191.2 L85.6,189.1 L84.2,187.0 L82.9,184.9 L81.7,182.7 L80.5,180.5 L79.3,178.3 L78.3,176.0 L77.3,173.7 L76.3,171.4 L75.5,169.1 L74.6,166.7 L73.9,164.3 L73.2,161.9 L72.5,159.5 L71.9,157.1 L71.4,154.6 L70.9,152.2 L70.5,149.7 L70.1,147.2 L69.8,144.7 L69.5,142.2 L69.2,139.7 L69.1,137.2 L68.9,134.7 L68.8,132.2 L68.8,129.7 L68.8,127.2 L68.9,124.7 L69.0,122.2 L69.1,119.7 L69.3,117.2 L69.6,114.6 L69.9,112.2 L70.2,109.7 L70.6,107.2 L71.1,104.7 L71.6,102.3 L72.1,99.8 L72.8,97.4 L73.4,95.0 L74.1,92.6 L74.9,90.2 L75.8,87.8 L76.7,85.5 L77.6,83.2 L78.6,80.9 L79.7,78.7 L80.8,76.5 L82.0,74.3 L83.2,72.1 L84.6,70.0 L85.9,67.9 L87.3,65.9 L88.8,63.9 L90.3,61.9 L91.9,60.0 L93.5,58.1 L95.2,56.3 L97.0,54.5 L98.7,52.7 L100.6,51.0 L102.4,49.4 L104.4,47.8Z" fill="#E9F98F"/>
<path d="M87.6,52.8 L89.4,50.8 L91.4,48.9 L93.4,47.2 L95.6,45.5 L97.8,43.9 L100.0,42.5 L102.3,41.1 L104.7,39.9 L107.1,38.7 L109.5,37.6 L112.0,36.6 L114.5,35.6 L116.9,34.7 L119.4,33.9 L121.9,33.0 L124.3,32.2 L126.8,31.4 L129.2,30.7 L131.6,29.9 L134.0,29.1 L136.4,28.3 L138.8,27.4 L141.1,26.5 L143.4,25.6 L145.7,24.7 L148.0,23.8 L150.4,22.9 L152.7,22.1 L155.0,21.3 L157.4,20.5 L159.7,19.7 L162.1,18.9 L164.5,18.2 L166.8,17.5 L169.2,16.8 L171.6,16.1 L174.0,15.4 L176.4,14.8 L178.8,14.2 L181.2,13.6 L183.6,13.0 L186.0,12.5 L188.4,12.0 L190.9,11.5 L193.3,11.0 L195.8,10.5 L198.2,10.1 L200.7,9.7 L203.1,9.3 L205.6,9.0 L208.1,8.7 L210.6,8.4 L213.1,8.1 L215.6,7.8 L218.1,7.6 L220.6,7.4 L223.1,7.2 L225.6,7.1 L228.1,7.0 L230.6,6.9 L233.1,6.8 L235.6,6.7 L238.1,6.7 L240.6,6.6 L243.0,6.6 L245.5,6.6 L248.0,6.7 L250.5,6.7 L253.0,6.7 L255.5,6.8 L258.0,6.9 L260.4,6.9 L262.9,7.0 L265.4,7.1 L267.9,7.2 L270.3,7.4 L272.8,7.5 L275.3,7.6 L277.8,7.8 L280.2,7.9 L282.7,8.1 L285.2,8.3 L287.7,8.5 L290.1,8.7 L292.6,8.9 L295.1,9.2 L297.6,9.4 L300.1,9.7 L302.6,10.0 L305.1,10.4 L307.6,10.8 L310.1,11.2 L312.5,11.6 L315.0,12.1 L317.5,12.7 L320.0,13.2 L322.4,13.9 L324.9,14.5 L327.3,15.3 L329.7,16.0 L332.1,16.9 L334.5,17.8 L336.8,18.7 L339.2,19.8 L341.4,20.8 L343.7,22.0 L345.9,23.2 L348.1,24.5 L350.2,25.8 L352.3,27.2 L354.4,28.7 L356.3,30.3 L358.3,31.9 L360.2,33.5 L362.0,35.2 L363.7,37.0 L365.4,38.9 L367.1,40.8 L368.6,42.7 L370.2,44.7 L371.6,46.8 L373.0,48.9 L374.3,51.0 L375.5,53.2 L376.7,55.4 L377.9,57.6 L378.9,59.9 L379.9,62.2 L380.9,64.5 L381.7,66.9 L382.6,69.3 L383.3,71.7 L384.0,74.1 L384.7,76.5 L385.3,78.9 L385.9,81.4 L386.4,83.9 L386.9,86.3 L387.3,88.8 L387.7,91.3 L388.1,93.8 L388.4,96.2 L388.7,98.7 L389.0,101.2 L389.2,103.7 L389.4,106.2 L389.6,108.7 L389.7,111.2 L389.8,113.7 L389.9,116.2 L389.9,118.7 L389.9,121.2 L389.9,123.7 L389.8,126.2 L389.7,128.7 L389.6,131.2 L389.4,133.7 L389.2,136.2 L388.9,138.7 L388.6,141.1 L388.3,143.6 L387.9,146.1 L387.4,148.5 L386.9,151.0 L386.3,153.4 L385.7,155.8 L385.0,158.2 L384.3,160.6 L383.4,162.9 L382.6,165.3 L381.6,167.6 L380.6,169.8 L379.5,172.1 L378.4,174.3 L377.1,176.5 L375.9,178.6 L374.5,180.7 L373.1,182.8 L371.6,184.8 L370.0,186.7 L368.4,188.6 L366.7,190.5 L365.0,192.3 L363.2,194.1 L361.3,195.8 L359.4,197.4 L357.4,199.0 L355.4,200.5 L353.4,202.0 L351.3,203.5 L349.2,204.8 L347.0,206.1 L344.8,207.4 L342.6,208.6 L340.3,209.8 L338.0,210.9 L335.7,212.0 L333.4,213.0 L331.1,214.0 L328.7,215.0 L326.4,215.9 L324.0,216.7 L321.6,217.6 L319.3,218.4 L316.9,219.1 L314.5,219.9 L312.1,220.6 L309.7,221.3 L307.4,222.0 L305.0,222.6 L302.6,223.2 L300.2,223.9 L297.8,224.5 L295.4,225.0 L293.0,225.6 L290.6,226.2 L288.2,226.7 L285.8,227.2 L283.5,227.8 L281.1,228.3 L278.6,228.8 L276.2,229.3 L273.8,229.7 L271.4,230.2 L269.0,230.7 L266.5,231.1 L264.1,231.5 L261.7,231.9 L259.2,232.3 L256.7,232.7 L254.3,233.1 L251.8,233.4 L249.3,233.8 L246.8,234.1 L244.3,234.4 L241.8,234.6 L239.3,234.9 L236.8,235.1 L234.3,235.3 L231.8,235.5 L229.3,235.7 L226.7,235.8 L224.2,236.0 L221.7,236.1 L219.2,236.1 L216.6,236.2 L214.1,236.2 L211.6,236.2 L209.1,236.2 L206.6,236.2 L204.1,236.2 L201.6,236.1 L199.1,236.0 L196.6,235.9 L194.1,235.8 L191.6,235.6 L189.2,235.5 L186.7,235.3 L184.2,235.1 L181.8,234.8 L179.3,234.6 L176.8,234.3 L174.4,234.0 L171.9,233.7 L169.5,233.4 L167.1,233.0 L164.6,232.7 L162.2,232.3 L159.7,231.8 L157.3,231.4 L154.9,230.9 L152.4,230.3 L150.0,229.8 L147.6,229.2 L145.2,228.6 L142.8,227.9 L140.4,227.2 L138.0,226.4 L135.6,225.6 L133.2,224.8 L130.8,223.9 L128.5,223.0 L126.2,222.0 L123.9,220.9 L121.6,219.9 L119.3,218.7 L117.1,217.5 L114.9,216.3 L112.7,215.0 L110.6,213.6 L108.5,212.2 L106.4,210.7 L104.4,209.2 L102.5,207.6 L100.5,206.0 L98.7,204.3 L96.8,202.6 L95.1,200.8 L93.3,199.0 L91.7,197.1 L90.1,195.2 L88.5,193.2 L87.0,191.2 L85.6,189.1 L84.2,187.0 L82.9,184.9 L81.7,182.7 L80.5,180.5 L79.3,178.3 L78.3,176.0 L77.3,173.7 L76.3,171.4 L75.5,169.1 L74.6,166.7 L73.9,164.3 L73.2,161.9 L72.5,159.5 L71.9,157.1 L71.4,154.6 L70.9,152.2 L70.5,149.7 L70.1,147.2 L69.8,144.7 L69.5,142.2 L69.2,139.7 L69.1,137.2 L68.9,134.7 L68.8,132.2 L68.8,129.7 L68.8,127.2 L68.9,124.7 L69.0,122.2 L69.1,119.7 L69.3,117.2 L69.6,114.6 L69.9,112.2 L70.2,109.7 L70.6,107.2 L71.1,104.7 L71.6,102.3 L72.1,99.8 L72.8,97.4 L73.4,95.0 L74.1,92.6 L74.9,90.2 L75.8,87.8 L76.7,85.5 L77.6,83.2 L78.6,80.9 L79.7,78.7 L80.8,76.5 L82.0,74.3 L83.2,72.1 L84.6,70.0 L85.9,67.9 L87.3,65.9 L88.8,63.9 L90.3,61.9 L91.9,60.0 L93.5,58.1 L95.2,56.3 L97.0,54.5 L98.7,52.7 L100.6,51.0 L102.4,49.4 L104.4,47.8" fill="none" stroke="#000" stroke-width="4.30" stroke-linecap="round" stroke-linejoin="round"/>
<g fill="none" stroke="#111" stroke-linecap="round" stroke-linejoin="round"><path id="b1_0" stroke-width="2.69" d="M169.5,31.3 L169.5,76.7 M169.5,76.7 L178.3,76.3 M196.8,31.3 L197.5,31.9 L198.2,32.4 L198.8,32.9 L199.5,33.4 L200.2,33.9 L200.8,34.5 L201.4,35.2 L201.8,36.0 L202.5,37.6 L202.9,39.7 L203.3,41.9 L203.5,44.4 L203.6,47.0 L203.6,49.6 L203.6,52.1 L203.6,54.5 L203.6,56.9 L203.6,59.4 L203.6,62.0 L203.5,64.6 L203.3,67.1 L202.9,69.3 L202.5,71.4 L201.8,73.0 L201.4,73.9 L200.8,74.7 L200.2,75.5 L199.5,76.2 L198.8,76.8 L198.2,77.3 L197.5,77.6 L196.8,77.7 L196.2,77.6 L195.5,77.3 L194.8,76.8 L194.1,76.2 L193.5,75.5 L192.9,74.7 L192.3,73.9 L191.8,73.0 L191.2,71.4 L190.7,69.3 L190.4,67.1 L190.2,64.6 L190.1,62.0 L190.1,59.4 L190.0,56.9 L190.1,54.5 L190.0,52.1 L190.1,49.6 L190.1,47.0 L190.2,44.4 L190.4,41.9 L190.7,39.7 L191.2,37.6 L191.8,36.0 L192.3,35.2 L192.9,34.5 L193.5,33.9 L194.1,33.4 L194.8,32.9 L195.5,32.4 L196.2,31.9 L196.8,31.3 M216.9,77.7 L216.9,31.3 M231.1,77.7 L231.1,31.3 M259.4,36.0 L258.7,35.3 L258.1,34.6 L257.4,33.8 L256.7,33.1 L256.0,32.4 L255.3,31.8 L254.6,31.5 L253.9,31.3 L253.1,31.5 L252.2,32.0 L251.2,32.6 L250.3,33.5 L249.4,34.5 L248.5,35.5 L247.7,36.7 L247.1,37.8 L246.3,39.5 L245.7,41.5 L245.2,43.7 L244.9,46.0 L244.6,48.4 L244.4,50.8 L244.3,53.2 L244.3,55.4 L244.3,57.7 L244.4,60.1 L244.6,62.6 L244.8,65.0 L245.2,67.4 L245.7,69.5 L246.3,71.4 L247.1,73.0 L247.7,73.9 L248.4,74.8 L249.1,75.6 L249.9,76.3 L250.8,76.8 L251.6,77.3 L252.4,77.6 L253.2,77.7 L254.0,77.5 L254.9,77.3 L255.8,76.8 L256.6,76.2 L257.5,75.5 L258.2,74.7 L258.9,73.9 L259.4,73.0 L259.9,71.8 L260.2,70.3 L260.3,68.7 L260.3,67.0 L260.2,65.3 L260.1,63.5 L260.1,61.7 L260.1,60.1 M255.3,59.1 L261.5,59.1"/><path stroke-width="3.10" d="M216.9,31.3 L217.7,34.1 L218.5,36.9 L219.4,39.6 L220.2,42.4 L221.0,45.2 L221.9,48.0 L222.7,50.8 L223.6,53.6 L224.5,56.5 L225.4,59.5 L226.4,62.5 L227.3,65.6 L228.2,68.6 L229.2,71.6 L230.1,74.6 L231.1,77.7"/>
<use href="#b1_0" x="1.39"/>
<use href="#b1_0" x="2.78"/>
<use href="#b1_0" x="4.17"/>
</g>
<g fill="none" stroke="#111" stroke-linecap="round" stroke-linejoin="round"><path id="b1_1" stroke-width="2.58" d="M131.5,91.3 L131.5,135.7 M131.5,91.3 L132.5,91.7 L133.6,92.0 L134.6,92.3 L135.7,92.6 L136.7,93.0 L137.7,93.5 L138.6,94.1 L139.4,94.8 L140.5,96.4 L141.4,98.4 L142.3,100.7 L143.0,103.2 L143.5,105.8 L143.9,108.5 L144.2,111.1 L144.3,113.5 L144.3,115.9 L144.1,118.5 L143.8,121.2 L143.3,123.8 L142.7,126.3 L142.0,128.6 L141.1,130.6 L140.0,132.2 L139.2,133.0 L138.2,133.6 L137.2,134.1 L136.1,134.4 L134.9,134.7 L133.8,135.0 L132.6,135.3 L131.5,135.7 M156.1,98.0 L156.1,135.7 M177.9,96.6 L177.4,95.9 L176.9,95.1 L176.4,94.2 L175.9,93.3 L175.4,92.6 L174.8,91.9 L174.3,91.5 L173.7,91.3 L173.1,91.4 L172.5,91.7 L171.8,92.1 L171.1,92.7 L170.5,93.4 L169.9,94.2 L169.4,95.0 L169.0,95.7 L168.7,96.7 L168.5,97.9 L168.3,99.1 L168.3,100.4 L168.4,101.7 L168.5,103.1 L168.7,104.3 L169.0,105.5 L169.3,106.6 L169.8,107.6 L170.3,108.6 L170.8,109.6 L171.4,110.6 L172.0,111.5 L172.6,112.5 L173.2,113.5 L173.8,114.5 L174.5,115.5 L175.2,116.4 L175.9,117.4 L176.5,118.4 L177.1,119.4 L177.6,120.4 L177.9,121.5 L178.2,122.8 L178.4,124.2 L178.5,125.6 L178.5,127.1 L178.4,128.6 L178.2,129.9 L177.8,131.1 L177.4,132.2 L177.0,132.8 L176.5,133.5 L175.9,134.1 L175.2,134.7 L174.6,135.1 L173.9,135.5 L173.3,135.7 L172.7,135.7 L172.1,135.5 L171.6,135.0 L171.0,134.4 L170.5,133.6 L170.0,132.8 L169.5,131.9 L169.0,131.1 L168.5,130.4 M189.9,92.2 L205.6,91.3 M197.7,91.7 L197.7,135.7 M223.6,91.3 L230.1,135.7 M220.2,120.6 L227.5,120.6 M243.0,135.7 L243.0,91.3 M256.7,135.7 L256.7,91.3 M282.7,96.6 L282.2,95.9 L281.6,95.1 L281.1,94.2 L280.6,93.3 L280.0,92.6 L279.5,91.9 L278.9,91.5 L278.3,91.3 L277.6,91.4 L276.8,91.7 L275.9,92.2 L275.0,92.9 L274.2,93.7 L273.4,94.6 L272.7,95.6 L272.1,96.6 L271.3,98.2 L270.8,100.1 L270.3,102.1 L270.0,104.4 L269.8,106.7 L269.7,109.0 L269.6,111.3 L269.6,113.5 L269.6,115.8 L269.6,118.2 L269.8,120.7 L270.0,123.2 L270.3,125.5 L270.8,127.7 L271.3,129.7 L272.1,131.3 L272.6,132.1 L273.3,133.0 L274.0,133.7 L274.7,134.4 L275.5,135.0 L276.3,135.4 L277.0,135.7 L277.7,135.7 L278.3,135.5 L279.0,135.1 L279.6,134.4 L280.2,133.7 L280.8,132.8 L281.5,131.9 L282.1,131.1 L282.7,130.4 M295.1,92.2 L295.1,135.7 M295.1,92.2 L303.7,91.3 M295.1,113.5 L302.2,113.5 M295.1,135.3 L303.7,134.8"/><path stroke-width="2.97" d="M217.0,135.7 L223.6,91.3 M243.0,91.3 L243.8,94.0 L244.6,96.6 L245.4,99.3 L246.2,101.9 L247.0,104.6 L247.8,107.2 L248.7,109.9 L249.5,112.6 L250.4,115.5 L251.3,118.3 L252.2,121.2 L253.1,124.1 L254.0,127.0 L254.9,129.9 L255.8,132.8 L256.7,135.7"/>
<use href="#b1_1" x="1.33"/>
<use href="#b1_1" x="2.66"/>
<use href="#b1_1" x="3.99"/>
</g>
<g fill="none" stroke="#111" stroke-linecap="round" stroke-linejoin="round"><path id="b1_2" stroke-width="2.64" d="M150.3,149.2 L165.8,148.3 M158.1,148.8 L158.1,193.7 M178.4,148.3 L178.4,193.7 M178.4,149.2 L179.5,149.3 L180.8,149.3 L182.0,149.2 L183.3,149.2 L184.5,149.2 L185.6,149.4 L186.6,149.6 L187.5,150.1 L188.3,150.9 L189.0,151.8 L189.6,152.9 L190.1,154.1 L190.5,155.4 L190.8,156.7 L190.9,158.0 L191.0,159.2 L190.9,160.6 L190.7,162.1 L190.3,163.6 L189.8,165.2 L189.2,166.7 L188.4,168.0 L187.6,169.2 L186.8,170.1 L186.0,170.6 L185.1,171.0 L184.2,171.2 L183.2,171.4 L182.1,171.5 L181.1,171.6 L180.0,171.7 L179.1,171.9 M183.3,171.9 L192.4,193.7 M210.0,148.3 L216.5,193.7 M206.7,178.3 L213.9,178.3 M227.6,148.3 L234.5,193.7 M253.5,149.2 L253.5,193.7 M253.5,149.2 L262.0,148.3 M253.5,171.0 L260.5,171.0 M253.5,193.2 L262.0,192.8 M274.2,148.3 L274.2,192.8 M274.2,192.8 L282.6,192.3"/><path stroke-width="3.04" d="M203.6,193.7 L210.0,148.3 M234.5,193.7 L241.4,148.3"/>
<use href="#b1_2" x="1.36"/>
<use href="#b1_2" x="2.72"/>
<use href="#b1_2" x="4.08"/>
</g>
<path d="M531.2,106.0 L534.0,105.5 L536.7,104.8 L539.4,104.0 L542.0,103.1 L544.7,102.1 L547.3,101.0 L549.9,100.0 L552.5,98.9 L555.1,97.8 L557.7,96.8 L560.3,95.9 L562.9,95.0 L565.5,94.2 L568.2,93.6 L570.8,93.1 L573.5,92.6 L576.2,92.1 L578.8,91.6 L581.5,91.2 L584.2,90.8 L586.8,90.4 L589.5,90.0 L592.2,89.7 L594.9,89.4 L597.5,89.1 L600.2,88.8 L602.9,88.6 L605.6,88.4 L608.3,88.3 L611.0,88.2 L613.7,88.1 L616.4,88.1 L619.1,88.0 L621.8,88.1 L624.5,88.1 L627.3,88.2 L630.0,88.3 L632.8,88.4 L635.5,88.6 L638.3,88.8 L641.0,89.0 L643.8,89.3 L646.5,89.5 L649.3,89.8 L652.1,90.1 L654.8,90.4 L657.6,90.8 L660.4,91.2 L663.1,91.6 L665.9,92.0 L668.6,92.4 L671.3,92.8 L674.1,93.3 L676.8,93.8 L679.5,94.3 L682.2,94.8 L684.9,95.3 L687.6,95.8 L690.3,96.4 L692.9,97.0 L695.6,97.6 L698.2,98.3 L700.8,98.9 L703.4,99.6 L706.0,100.3 L708.6,101.1 L711.2,101.9 L713.7,102.7 L716.3,103.5 L718.8,104.4 L721.3,105.3 L723.8,106.3 L726.3,107.3 L728.8,108.3 L731.2,109.4 L733.7,110.6 L736.1,111.8 L738.5,113.0 L740.9,114.3 L743.3,115.6 L745.6,117.0 L748.0,118.4 L750.3,119.9 L752.6,121.5 L754.8,123.0 L757.1,124.7 L759.3,126.4 L761.5,128.1 L763.6,129.9 L765.7,131.8 L767.8,133.7 L769.8,135.7 L771.8,137.7 L773.8,139.7 L775.6,141.8 L777.5,144.0 L779.3,146.2 L781.0,148.4 L782.6,150.7 L784.2,153.0 L785.7,155.3 L787.2,157.7 L788.5,160.1 L789.8,162.6 L791.0,165.0 L792.1,167.6 L793.2,170.1 L794.1,172.6 L794.9,175.2 L795.6,177.8 L796.3,180.4 L796.8,183.1 L797.2,185.7 L797.6,188.3 L797.8,191.0 L797.9,193.6 L797.9,196.3 L797.8,199.0 L797.6,201.6 L797.3,204.3 L796.9,206.9 L796.4,209.6 L795.8,212.2 L795.1,214.8 L794.3,217.4 L793.4,219.9 L792.4,222.5 L791.3,225.0 L790.2,227.5 L788.9,230.0 L787.6,232.4 L786.2,234.8 L784.7,237.2 L783.2,239.5 L781.5,241.8 L779.8,244.1 L778.1,246.3 L776.3,248.4 L774.4,250.6 L772.5,252.6 L770.6,254.7 L768.6,256.7 L766.5,258.6 L764.5,260.5 L762.3,262.3 L760.2,264.1 L758.0,265.8 L755.8,267.5 L753.5,269.1 L751.2,270.7 L748.9,272.2 L746.6,273.7 L744.3,275.1 L741.9,276.5 L739.5,277.8 L737.1,279.1 L734.7,280.3 L732.3,281.5 L729.8,282.7 L727.3,283.8 L724.8,284.8 L722.3,285.8 L719.8,286.8 L717.3,287.8 L714.7,288.7 L712.2,289.5 L709.6,290.4 L707.0,291.1 L704.4,291.9 L701.8,292.7 L699.2,293.4 L696.5,294.0 L693.9,294.7 L691.3,295.3 L688.6,295.9 L685.9,296.5 L683.2,297.0 L680.6,297.6 L677.9,298.1 L675.2,298.6 L672.5,299.0 L669.7,299.5 L667.0,299.9 L664.3,300.3 L661.6,300.7 L658.9,301.0 L656.1,301.4 L653.4,301.7 L650.7,302.0 L647.9,302.3 L645.2,302.5 L642.5,302.8 L639.7,303.0 L637.0,303.2 L634.3,303.4 L631.5,303.5 L628.8,303.7 L626.1,303.8 L623.4,303.9 L620.6,304.0 L617.9,304.0 L615.2,304.1 L612.4,304.1 L609.7,304.1 L607.0,304.1 L604.3,304.0 L601.5,304.0 L598.8,303.9 L596.1,303.8 L593.4,303.7 L590.7,303.5 L587.9,303.4 L585.2,303.2 L582.5,303.0 L579.7,302.8 L577.0,302.6 L574.3,302.3 L571.6,302.1 L568.8,301.8 L566.1,301.5 L563.4,301.2 L560.7,300.9 L557.9,300.5 L555.2,300.2 L552.5,299.8 L549.8,299.4 L547.1,299.0 L544.4,298.6 L541.7,298.2 L539.0,297.7 L536.3,297.2 L533.6,296.7 L530.9,296.2 L528.2,295.7 L525.5,295.1 L522.9,294.5 L520.2,293.9 L517.6,293.3 L514.9,292.6 L512.3,292.0 L509.7,291.3 L507.1,290.5 L504.5,289.8 L501.9,289.0 L499.3,288.2 L496.7,287.3 L494.1,286.5 L491.6,285.5 L489.0,284.6 L486.5,283.6 L484.0,282.6 L481.4,281.6 L478.9,280.5 L476.4,279.4 L473.9,278.3 L471.5,277.1 L469.0,275.9 L466.6,274.6 L464.1,273.3 L461.7,272.0 L459.3,270.6 L456.9,269.2 L454.6,267.7 L452.2,266.2 L449.9,264.7 L447.6,263.1 L445.3,261.5 L443.1,259.8 L440.9,258.1 L438.7,256.3 L436.6,254.5 L434.5,252.7 L432.4,250.8 L430.4,248.9 L428.5,246.9 L426.6,244.9 L424.7,242.9 L422.9,240.8 L421.2,238.6 L419.6,236.4 L418.0,234.2 L416.5,231.9 L415.1,229.6 L413.7,227.2 L412.4,224.8 L411.3,222.4 L410.2,219.9 L409.2,217.4 L408.3,214.9 L407.5,212.3 L406.7,209.7 L406.1,207.1 L405.6,204.4 L405.2,201.7 L404.9,199.0 L404.7,196.3 L404.6,193.5 L404.7,190.8 L404.8,188.0 L405.0,185.3 L405.3,182.5 L405.8,179.7 L406.3,177.0 L406.9,174.3 L407.7,171.5 L408.5,168.8 L409.4,166.2 L410.5,163.5 L411.6,160.9 L412.8,158.3 L414.1,155.8 L415.4,153.3 L416.9,150.9 L418.4,148.5 L420.0,146.2 L421.7,143.9 L423.4,141.7 L425.3,139.6 L427.1,137.5 L429.1,135.6 L431.0,133.6 L433.1,131.8 L435.2,130.0 L437.3,128.3 L439.5,126.7 L441.7,125.2 L444.0,123.7 L446.3,122.3 L448.6,121.0 L451.0,119.8 L453.4,118.6 L455.9,117.5 L458.3,116.5 L460.8,115.5 L463.3,114.6 L465.9,113.7 L468.4,112.9 L471.0,112.2 L473.6,111.5 L476.2,110.8 L478.8,110.2 L481.5,109.6 L484.1,109.1 L486.8,108.5 L489.5,108.0 L492.2,107.5 L494.9,107.1 L497.6,106.6 L500.3,106.2 L503.0,105.7 L505.7,105.3 L508.5,104.9 L511.2,104.4 L513.9,104.0 L516.7,103.5 L519.4,103.1 L522.1,102.6 L524.9,102.1 L527.6,101.6Z" fill="#B2F79E"/>
<path d="M531.2,106.0 L534.0,105.5 L536.7,104.8 L539.4,104.0 L542.0,103.1 L544.7,102.1 L547.3,101.0 L549.9,100.0 L552.5,98.9 L555.1,97.8 L557.7,96.8 L560.3,95.9 L562.9,95.0 L565.5,94.2 L568.2,93.6 L570.8,93.1 L573.5,92.6 L576.2,92.1 L578.8,91.6 L581.5,91.2 L584.2,90.8 L586.8,90.4 L589.5,90.0 L592.2,89.7 L594.9,89.4 L597.5,89.1 L600.2,88.8 L602.9,88.6 L605.6,88.4 L608.3,88.3 L611.0,88.2 L613.7,88.1 L616.4,88.1 L619.1,88.0 L621.8,88.1 L624.5,88.1 L627.3,88.2 L630.0,88.3 L632.8,88.4 L635.5,88.6 L638.3,88.8 L641.0,89.0 L643.8,89.3 L646.5,89.5 L649.3,89.8 L652.1,90.1 L654.8,90.4 L657.6,90.8 L660.4,91.2 L663.1,91.6 L665.9,92.0 L668.6,92.4 L671.3,92.8 L674.1,93.3 L676.8,93.8 L679.5,94.3 L682.2,94.8 L684.9,95.3 L687.6,95.8 L690.3,96.4 L692.9,97.0 L695.6,97.6 L698.2,98.3 L700.8,98.9 L703.4,99.6 L706.0,100.3 L708.6,101.1 L711.2,101.9 L713.7,102.7 L716.3,103.5 L718.8,104.4 L721.3,105.3 L723.8,106.3 L726.3,107.3 L728.8,108.3 L731.2,109.4 L733.7,110.6 L736.1,111.8 L738.5,113.0 L740.9,114.3 L743.3,115.6 L745.6,117.0 L748.0,118.4 L750.3,119.9 L752.6,121.5 L754.8,123.0 L757.1,124.7 L759.3,126.4 L761.5,128.1 L763.6,129.9 L765.7,131.8 L767.8,133.7 L769.8,135.7 L771.8,137.7 L773.8,139.7 L775.6,141.8 L777.5,144.0 L779.3,146.2 L781.0,148.4 L782.6,150.7 L784.2,153.0 L785.7,155.3 L787.2,157.7 L788.5,160.1 L789.8,162.6 L791.0,165.0 L792.1,167.6 L793.2,170.1 L794.1,172.6 L794.9,175.2 L795.6,177.8 L796.3,180.4 L796.8,183.1 L797.2,185.7 L797.6,188.3 L797.8,191.0 L797.9,193.6 L797.9,196.3 L797.8,199.0 L797.6,201.6 L797.3,204.3 L796.9,206.9 L796.4,209.6 L795.8,212.2 L795.1,214.8 L794.3,217.4 L793.4,219.9 L792.4,222.5 L791.3,225.0 L790.2,227.5 L788.9,230.0 L787.6,232.4 L786.2,234.8 L784.7,237.2 L783.2,239.5 L781.5,241.8 L779.8,244.1 L778.1,246.3 L776.3,248.4 L774.4,250.6 L772.5,252.6 L770.6,254.7 L768.6,256.7 L766.5,258.6 L764.5,260.5 L762.3,262.3 L760.2,264.1 L758.0,265.8 L755.8,267.5 L753.5,269.1 L751.2,270.7 L748.9,272.2 L746.6,273.7 L744.3,275.1 L741.9,276.5 L739.5,277.8 L737.1,279.1 L734.7,280.3 L732.3,281.5 L729.8,282.7 L727.3,283.8 L724.8,284.8 L722.3,285.8 L719.8,286.8 L717.3,287.8 L714.7,288.7 L712.2,289.5 L709.6,290.4 L707.0,291.1 L704.4,291.9 L701.8,292.7 L699.2,293.4 L696.5,294.0 L693.9,294.7 L691.3,295.3 L688.6,295.9 L685.9,296.5 L683.2,297.0 L680.6,297.6 L677.9,298.1 L675.2,298.6 L672.5,299.0 L669.7,299.5 L667.0,299.9 L664.3,300.3 L661.6,300.7 L658.9,301.0 L656.1,301.4 L653.4,301.7 L650.7,302.0 L647.9,302.3 L645.2,302.5 L642.5,302.8 L639.7,303.0 L637.0,303.2 L634.3,303.4 L631.5,303.5 L628.8,303.7 L626.1,303.8 L623.4,303.9 L620.6,304.0 L617.9,304.0 L615.2,304.1 L612.4,304.1 L609.7,304.1 L607.0,304.1 L604.3,304.0 L601.5,304.0 L598.8,303.9 L596.1,303.8 L593.4,303.7 L590.7,303.5 L587.9,303.4 L585.2,303.2 L582.5,303.0 L579.7,302.8 L577.0,302.6 L574.3,302.3 L571.6,302.1 L568.8,301.8 L566.1,301.5 L563.4,301.2 L560.7,300.9 L557.9,300.5 L555.2,300.2 L552.5,299.8 L549.8,299.4 L547.1,299.0 L544.4,298.6 L541.7,298.2 L539.0,297.7 L536.3,297.2 L533.6,296.7 L530.9,296.2 L528.2,295.7 L525.5,295.1 L522.9,294.5 L520.2,293.9 L517.6,293.3 L514.9,292.6 L512.3,292.0 L509.7,291.3 L507.1,290.5 L504.5,289.8 L501.9,289.0 L499.3,288.2 L496.7,287.3 L494.1,286.5 L491.6,285.5 L489.0,284.6 L486.5,283.6 L484.0,282.6 L481.4,281.6 L478.9,280.5 L476.4,279.4 L473.9,278.3 L471.5,277.1 L469.0,275.9 L466.6,274.6 L464.1,273.3 L461.7,272.0 L459.3,270.6 L456.9,269.2 L454.6,267.7 L452.2,266.2 L449.9,264.7 L447.6,263.1 L445.3,261.5 L443.1,259.8 L440.9,258.1 L438.7,256.3 L436.6,254.5 L434.5,252.7 L432.4,250.8 L430.4,248.9 L428.5,246.9 L426.6,244.9 L424.7,242.9 L422.9,240.8 L421.2,238.6 L419.6,236.4 L418.0,234.2 L416.5,231.9 L415.1,229.6 L413.7,227.2 L412.4,224.8 L411.3,222.4 L410.2,219.9 L409.2,217.4 L408.3,214.9 L407.5,212.3 L406.7,209.7 L406.1,207.1 L405.6,204.4 L405.2,201.7 L404.9,199.0 L404.7,196.3 L404.6,193.5 L404.7,190.8 L404.8,188.0 L405.0,185.3 L405.3,182.5 L405.8,179.7 L406.3,177.0 L406.9,174.3 L407.7,171.5 L408.5,168.8 L409.4,166.2 L410.5,163.5 L411.6,160.9 L412.8,158.3 L414.1,155.8 L415.4,153.3 L416.9,150.9 L418.4,148.5 L420.0,146.2 L421.7,143.9 L423.4,141.7 L425.3,139.6 L427.1,137.5 L429.1,135.6 L431.0,133.6 L433.1,131.8 L435.2,130.0 L437.3,128.3 L439.5,126.7 L441.7,125.2 L444.0,123.7 L446.3,122.3 L448.6,121.0 L451.0,119.8 L453.4,118.6 L455.9,117.5 L458.3,116.5 L460.8,115.5 L463.3,114.6 L465.9,113.7 L468.4,112.9 L471.0,112.2 L473.6,111.5 L476.2,110.8 L478.8,110.2 L481.5,109.6 L484.1,109.1 L486.8,108.5 L489.5,108.0 L492.2,107.5 L494.9,107.1 L497.6,106.6 L500.3,106.2 L503.0,105.7 L505.7,105.3 L508.5,104.9 L511.2,104.4 L513.9,104.0 L516.7,103.5 L519.4,103.1 L522.1,102.6 L524.9,102.1 L527.6,101.6" fill="none" stroke="#000" stroke-width="4.30" stroke-linecap="round" stroke-linejoin="round"/>
<g fill="none" stroke="#111" stroke-linecap="round" stroke-linejoin="round"><path id="b2_0" stroke-width="2.48" d="M479.0,147.9 L479.0,190.5 M479.0,148.8 L479.9,148.9 L480.8,148.9 L481.7,148.8 L482.6,148.8 L483.5,148.9 L484.3,149.0 L485.1,149.2 L485.8,149.6 L486.4,150.3 L487.0,151.2 L487.6,152.3 L488.0,153.5 L488.4,154.8 L488.6,156.1 L488.8,157.4 L488.9,158.6 L488.9,159.9 L488.7,161.4 L488.5,162.9 L488.1,164.4 L487.7,165.9 L487.1,167.2 L486.5,168.3 L485.8,169.2 L485.1,169.7 L484.4,170.0 L483.6,170.3 L482.7,170.4 L481.8,170.5 L481.0,170.6 L480.1,170.7 L479.2,170.9 M506.8,147.9 L513.4,190.5 M503.4,176.0 L510.8,176.0 M524.8,147.9 L531.8,190.5 M551.2,148.8 L551.2,190.5 M551.2,148.8 L559.8,147.9 M551.2,169.2 L558.3,169.2 M551.2,190.0 L559.8,189.6 M572.4,147.9 L572.4,190.5 M572.4,147.9 L573.5,148.3 L574.5,148.6 L575.6,148.9 L576.6,149.2 L577.7,149.5 L578.6,150.0 L579.6,150.6 L580.4,151.3 L581.4,152.8 L582.4,154.7 L583.2,156.9 L583.9,159.3 L584.4,161.8 L584.9,164.4 L585.1,166.9 L585.2,169.2 L585.2,171.5 L585.0,174.0 L584.7,176.6 L584.2,179.1 L583.6,181.5 L582.9,183.7 L582.0,185.6 L581.0,187.1 L580.1,187.9 L579.2,188.4 L578.1,188.9 L577.0,189.2 L575.8,189.5 L574.7,189.8 L573.5,190.1 L572.4,190.5 M605.9,147.9 L605.9,190.5 M605.9,148.8 L607.2,148.8 L608.4,148.8 L609.7,148.8 L611.0,148.7 L612.2,148.8 L613.3,148.9 L614.4,149.2 L615.3,149.6 L616.0,150.3 L616.7,151.2 L617.3,152.2 L617.9,153.4 L618.3,154.6 L618.6,155.8 L618.8,157.0 L618.8,158.1 L618.8,159.4 L618.5,160.8 L618.1,162.3 L617.6,163.7 L616.9,165.1 L616.2,166.4 L615.4,167.5 L614.5,168.3 L613.7,168.9 L612.8,169.2 L611.9,169.5 L610.8,169.6 L609.8,169.7 L608.7,169.8 L607.7,169.9 L606.7,170.1 M611.0,170.1 L620.3,190.5 M638.2,147.9 L638.9,148.4 L639.5,148.9 L640.2,149.3 L640.8,149.8 L641.5,150.2 L642.1,150.8 L642.6,151.4 L643.1,152.2 L643.7,153.7 L644.1,155.6 L644.4,157.7 L644.6,159.9 L644.8,162.3 L644.8,164.7 L644.8,167.0 L644.8,169.2 L644.8,171.4 L644.8,173.7 L644.8,176.1 L644.6,178.5 L644.4,180.7 L644.1,182.8 L643.7,184.7 L643.1,186.2 L642.6,187.0 L642.1,187.8 L641.5,188.5 L640.8,189.2 L640.2,189.7 L639.5,190.1 L638.9,190.4 L638.2,190.5 L637.6,190.4 L637.0,190.1 L636.3,189.7 L635.6,189.2 L635.0,188.5 L634.4,187.8 L633.9,187.0 L633.4,186.2 L632.8,184.7 L632.3,182.8 L632.0,180.7 L631.8,178.5 L631.7,176.1 L631.7,173.7 L631.7,171.4 L631.7,169.2 L631.7,167.0 L631.7,164.7 L631.7,162.3 L631.8,159.9 L632.0,157.7 L632.3,155.6 L632.8,153.7 L633.4,152.2 L633.9,151.4 L634.4,150.8 L635.0,150.2 L635.6,149.8 L636.3,149.3 L637.0,148.9 L637.6,148.4 L638.2,147.9 M662.8,147.9 L669.3,190.5 M659.3,176.0 L666.7,176.0 M681.9,147.9 L681.9,190.5 M681.9,147.9 L683.0,148.3 L684.0,148.6 L685.1,148.9 L686.1,149.2 L687.2,149.5 L688.1,150.0 L689.1,150.6 L689.9,151.3 L690.9,152.8 L691.9,154.7 L692.7,156.9 L693.4,159.3 L693.9,161.8 L694.4,164.4 L694.6,166.9 L694.7,169.2 L694.7,171.5 L694.5,174.0 L694.2,176.6 L693.7,179.1 L693.1,181.5 L692.4,183.7 L691.5,185.6 L690.5,187.1 L689.6,187.9 L688.7,188.4 L687.6,188.9 L686.5,189.2 L685.3,189.5 L684.2,189.8 L683.0,190.1 L681.9,190.5 M716.1,153.0 L715.6,152.3 L715.1,151.5 L714.6,150.7 L714.0,149.9 L713.5,149.2 L713.0,148.5 L712.5,148.1 L711.9,147.9 L711.3,148.0 L710.7,148.3 L710.0,148.7 L709.3,149.3 L708.7,150.0 L708.1,150.7 L707.6,151.4 L707.2,152.2 L706.8,153.1 L706.6,154.2 L706.5,155.4 L706.5,156.7 L706.6,157.9 L706.7,159.2 L706.9,160.4 L707.2,161.5 L707.5,162.6 L707.9,163.6 L708.4,164.5 L709.0,165.5 L709.6,166.4 L710.2,167.3 L710.8,168.3 L711.4,169.2 L712.0,170.1 L712.7,171.1 L713.3,172.0 L714.0,172.9 L714.7,173.9 L715.3,174.8 L715.8,175.8 L716.1,176.9 L716.4,178.1 L716.5,179.4 L716.6,180.8 L716.6,182.2 L716.5,183.6 L716.3,184.9 L716.0,186.1 L715.6,187.1 L715.2,187.7 L714.6,188.4 L714.1,189.0 L713.4,189.5 L712.7,189.9 L712.1,190.3 L711.4,190.4 L710.9,190.5 L710.3,190.3 L709.7,189.8 L709.2,189.2 L708.7,188.5 L708.2,187.7 L707.7,186.8 L707.2,186.1 L706.7,185.4"/><path stroke-width="2.85" d="M500.3,190.5 L506.8,147.9 M531.8,190.5 L538.8,147.9 M656.2,190.5 L662.8,147.9"/>
<use href="#b2_0" x="1.28"/>
<use href="#b2_0" x="2.55"/>
<use href="#b2_0" x="3.83"/>
</g>
<g fill="none" stroke="#111" stroke-linecap="round" stroke-linejoin="round"><path id="b2_1" stroke-width="2.57" d="M453.2,204.6 L460.1,248.7 M449.6,233.7 L457.4,233.7 M473.7,248.7 L473.7,204.6 M488.2,248.7 L488.2,204.6 M503.0,204.6 L503.0,248.7 M503.0,204.6 L504.0,205.0 L505.1,205.3 L506.3,205.6 L507.4,205.9 L508.5,206.2 L509.5,206.7 L510.5,207.3 L511.3,208.1 L512.4,209.7 L513.4,211.6 L514.3,213.9 L515.0,216.4 L515.6,219.0 L516.0,221.6 L516.3,224.2 L516.5,226.6 L516.4,229.1 L516.2,231.7 L515.9,234.3 L515.4,236.9 L514.8,239.4 L514.0,241.7 L513.0,243.6 L512.0,245.2 L511.1,246.0 L510.1,246.6 L508.9,247.1 L507.8,247.5 L506.6,247.7 L505.3,248.0 L504.1,248.3 L503.0,248.7 M538.0,204.6 L538.0,248.7 M538.0,205.5 L539.0,205.5 L540.0,205.4 L541.1,205.3 L542.1,205.3 L543.1,205.2 L544.0,205.3 L544.9,205.5 L545.6,205.9 L546.3,206.6 L546.9,207.4 L547.4,208.4 L547.9,209.5 L548.2,210.7 L548.5,212.0 L548.7,213.2 L548.7,214.3 L548.7,215.5 L548.5,216.9 L548.3,218.2 L547.9,219.6 L547.5,220.9 L546.9,222.1 L546.3,223.2 L545.6,224.0 L544.9,224.5 L544.1,224.9 L543.3,225.1 L542.4,225.2 L541.4,225.4 L540.5,225.5 L539.5,225.6 L538.7,225.8 M538.7,225.8 L539.8,226.1 L541.0,226.3 L542.2,226.5 L543.4,226.7 L544.6,227.0 L545.7,227.3 L546.6,227.8 L547.5,228.4 L548.2,229.3 L548.9,230.4 L549.4,231.6 L549.9,232.8 L550.2,234.2 L550.5,235.6 L550.6,236.9 L550.6,238.1 L550.5,239.4 L550.3,240.7 L550.0,242.0 L549.5,243.3 L549.0,244.5 L548.3,245.7 L547.6,246.6 L546.8,247.4 L546.0,247.9 L545.0,248.2 L543.9,248.4 L542.8,248.5 L541.6,248.5 L540.4,248.6 L539.2,248.6 L538.0,248.7 M563.1,211.2 L563.1,248.7 M576.8,204.6 L576.8,248.7 M580.6,224.4 L589.4,248.7 M602.5,205.5 L602.5,248.7 M602.5,205.5 L611.6,204.6 M602.5,226.6 L610.0,226.6 M602.5,248.3 L611.6,247.8 M633.0,204.6 L633.0,248.7 M633.0,205.5 L633.9,205.5 L634.8,205.5 L635.8,205.5 L636.8,205.5 L637.7,205.5 L638.6,205.7 L639.4,205.9 L640.1,206.3 L640.8,207.1 L641.5,208.0 L642.0,209.1 L642.5,210.4 L642.9,211.7 L643.1,213.0 L643.3,214.4 L643.4,215.6 L643.4,217.0 L643.2,218.5 L643.0,220.1 L642.6,221.7 L642.1,223.2 L641.5,224.6 L640.9,225.7 L640.1,226.6 L639.4,227.2 L638.7,227.5 L637.8,227.8 L636.9,227.9 L636.0,228.0 L635.1,228.1 L634.1,228.2 L633.2,228.4 M662.3,204.6 L669.3,248.7 M658.7,233.7 L666.5,233.7 M681.3,205.5 L697.9,204.6 M689.6,205.0 L689.6,248.7 M711.2,204.6 L711.2,248.7 M724.0,204.6 L724.0,248.7 M711.2,227.5 L724.0,226.6 M747.2,209.9 L746.6,209.2 L746.1,208.3 L745.6,207.5 L745.0,206.6 L744.5,205.8 L743.9,205.2 L743.3,204.8 L742.8,204.6 L742.1,204.7 L741.5,204.9 L740.7,205.4 L740.0,206.0 L739.3,206.7 L738.7,207.4 L738.2,208.2 L737.8,209.0 L737.4,210.0 L737.2,211.1 L737.1,212.4 L737.1,213.6 L737.1,215.0 L737.3,216.3 L737.5,217.5 L737.8,218.7 L738.1,219.8 L738.6,220.8 L739.1,221.8 L739.7,222.8 L740.3,223.7 L741.0,224.7 L741.6,225.7 L742.2,226.6 L742.8,227.6 L743.5,228.6 L744.3,229.6 L745.0,230.5 L745.7,231.5 L746.3,232.5 L746.8,233.5 L747.2,234.6 L747.5,235.9 L747.6,237.2 L747.7,238.7 L747.7,240.2 L747.6,241.6 L747.4,243.0 L747.1,244.2 L746.6,245.2 L746.2,245.9 L745.7,246.5 L745.0,247.2 L744.3,247.7 L743.6,248.2 L742.9,248.5 L742.3,248.7 L741.7,248.7 L741.1,248.5 L740.5,248.0 L739.9,247.4 L739.4,246.7 L738.8,245.8 L738.3,245.0 L737.8,244.1 L737.2,243.4"/><path stroke-width="2.95" d="M446.3,248.7 L453.2,204.6 M473.7,204.6 L474.5,207.2 L475.4,209.9 L476.2,212.5 L477.1,215.1 L477.9,217.8 L478.8,220.4 L479.6,223.1 L480.5,225.8 L481.5,228.6 L482.4,231.4 L483.4,234.3 L484.3,237.2 L485.3,240.1 L486.2,243.0 L487.2,245.8 L488.2,248.7 M588.8,205.5 L577.4,228.9 M655.4,248.7 L662.3,204.6"/>
<use href="#b2_1" x="1.32"/>
<use href="#b2_1" x="2.65"/>
<use href="#b2_1" x="3.97"/>
</g>
<path d="M1006.7,3.4 L1009.3,3.4 L1011.9,3.4 L1014.5,3.4 L1017.0,3.4 L1019.6,3.4 L1022.2,3.5 L1024.8,3.6 L1027.4,3.7 L1030.0,3.8 L1032.5,3.9 L1035.1,4.1 L1037.7,4.3 L1040.3,4.5 L1042.8,4.7 L1045.4,5.0 L1048.0,5.3 L1050.6,5.6 L1053.1,5.9 L1055.7,6.3 L1058.2,6.7 L1060.8,7.1 L1063.3,7.5 L1065.9,8.0 L1068.4,8.5 L1071.0,9.0 L1073.5,9.6 L1076.0,10.2 L1078.5,10.8 L1081.0,11.4 L1083.5,12.1 L1086.0,12.8 L1088.5,13.6 L1091.0,14.3 L1093.5,15.2 L1095.9,16.0 L1098.4,16.9 L1100.8,17.8 L1103.2,18.8 L1105.6,19.8 L1107.9,20.9 L1110.3,22.0 L1112.6,23.1 L1114.9,24.3 L1117.2,25.5 L1119.5,26.8 L1121.7,28.1 L1123.9,29.5 L1126.1,30.9 L1128.2,32.4 L1130.3,33.9 L1132.3,35.4 L1134.4,37.0 L1136.4,38.7 L1138.3,40.4 L1140.2,42.2 L1142.0,44.0 L1143.8,45.8 L1145.6,47.7 L1147.3,49.7 L1148.9,51.7 L1150.5,53.7 L1152.1,55.8 L1153.6,58.0 L1155.0,60.1 L1156.4,62.4 L1157.7,64.6 L1158.9,66.9 L1160.1,69.2 L1161.2,71.6 L1162.3,74.0 L1163.3,76.4 L1164.2,78.9 L1165.1,81.3 L1165.9,83.8 L1166.6,86.4 L1167.3,88.9 L1167.9,91.5 L1168.4,94.0 L1168.9,96.6 L1169.3,99.2 L1169.6,101.8 L1169.9,104.4 L1170.1,107.0 L1170.2,109.6 L1170.3,112.2 L1170.3,114.8 L1170.2,117.4 L1170.1,120.0 L1169.9,122.6 L1169.6,125.2 L1169.3,127.8 L1168.9,130.3 L1168.4,132.9 L1167.9,135.4 L1167.3,137.9 L1166.7,140.4 L1165.9,142.8 L1165.2,145.3 L1164.3,147.7 L1163.4,150.1 L1162.5,152.5 L1161.5,154.9 L1160.4,157.2 L1159.3,159.5 L1158.1,161.8 L1156.8,164.0 L1155.5,166.3 L1154.2,168.5 L1152.8,170.6 L1151.3,172.8 L1149.8,174.9 L1148.2,176.9 L1146.6,179.0 L1144.9,181.0 L1143.2,183.0 L1141.5,184.9 L1139.7,186.8 L1137.8,188.7 L1136.0,190.5 L1134.0,192.3 L1132.1,194.1 L1130.1,195.8 L1128.1,197.4 L1126.0,199.1 L1123.9,200.7 L1121.8,202.2 L1119.6,203.7 L1117.5,205.2 L1115.3,206.6 L1113.0,208.0 L1110.8,209.3 L1108.5,210.6 L1106.2,211.9 L1103.9,213.1 L1101.6,214.2 L1099.2,215.4 L1096.9,216.4 L1094.5,217.5 L1092.1,218.5 L1089.7,219.4 L1087.3,220.3 L1084.9,221.2 L1082.5,222.0 L1080.0,222.8 L1077.6,223.6 L1075.1,224.3 L1072.7,225.0 L1070.2,225.7 L1067.7,226.3 L1065.2,226.9 L1062.8,227.5 L1060.3,228.0 L1057.7,228.5 L1055.2,229.0 L1052.7,229.5 L1050.2,230.0 L1047.7,230.4 L1045.1,230.8 L1042.6,231.2 L1040.0,231.5 L1037.5,231.9 L1034.9,232.2 L1032.3,232.5 L1029.7,232.8 L1027.2,233.1 L1024.6,233.4 L1022.0,233.6 L1019.4,233.9 L1016.8,234.1 L1014.2,234.3 L1011.6,234.5 L1009.0,234.6 L1006.4,234.8 L1003.8,234.9 L1001.1,235.1 L998.5,235.2 L995.9,235.3 L993.3,235.3 L990.7,235.4 L988.1,235.4 L985.5,235.4 L982.9,235.4 L980.3,235.4 L977.7,235.3 L975.1,235.2 L972.5,235.1 L969.9,235.0 L967.3,234.9 L964.8,234.7 L962.2,234.5 L959.6,234.3 L957.1,234.0 L954.5,233.7 L952.0,233.4 L949.5,233.1 L946.9,232.7 L944.4,232.3 L941.9,231.9 L939.4,231.4 L936.9,231.0 L934.3,230.5 L931.8,229.9 L929.3,229.4 L926.9,228.8 L924.4,228.2 L921.9,227.5 L919.4,226.9 L916.9,226.2 L914.4,225.4 L912.0,224.7 L909.5,223.9 L907.1,223.1 L904.6,222.3 L902.1,221.4 L899.7,220.5 L897.3,219.6 L894.8,218.6 L892.4,217.6 L890.0,216.6 L887.6,215.5 L885.2,214.4 L882.9,213.3 L880.5,212.1 L878.2,210.9 L875.8,209.7 L873.6,208.4 L871.3,207.0 L869.0,205.7 L866.8,204.3 L864.6,202.8 L862.5,201.3 L860.4,199.8 L858.3,198.2 L856.2,196.6 L854.2,194.9 L852.3,193.2 L850.4,191.4 L848.5,189.6 L846.7,187.7 L845.0,185.8 L843.3,183.8 L841.6,181.8 L840.1,179.8 L838.5,177.7 L837.1,175.6 L835.7,173.4 L834.4,171.2 L833.1,168.9 L832.0,166.6 L830.9,164.3 L829.8,161.9 L828.9,159.5 L828.0,157.1 L827.1,154.6 L826.4,152.1 L825.7,149.6 L825.1,147.0 L824.6,144.5 L824.2,141.9 L823.8,139.3 L823.5,136.7 L823.3,134.1 L823.1,131.5 L823.0,128.8 L823.0,126.2 L823.1,123.6 L823.2,121.0 L823.4,118.3 L823.7,115.7 L824.0,113.1 L824.4,110.5 L824.9,107.9 L825.4,105.3 L826.0,102.8 L826.7,100.3 L827.4,97.7 L828.2,95.2 L829.0,92.8 L829.9,90.3 L830.9,87.9 L831.9,85.5 L832.9,83.1 L834.1,80.8 L835.2,78.5 L836.5,76.2 L837.8,73.9 L839.1,71.7 L840.5,69.5 L841.9,67.4 L843.4,65.2 L844.9,63.2 L846.5,61.1 L848.1,59.1 L849.8,57.1 L851.5,55.2 L853.3,53.3 L855.1,51.4 L856.9,49.6 L858.8,47.8 L860.7,46.1 L862.7,44.4 L864.6,42.7 L866.7,41.1 L868.7,39.5 L870.8,38.0 L872.9,36.5 L875.1,35.0 L877.3,33.6 L879.5,32.2 L881.7,30.9 L883.9,29.6 L886.2,28.3 L888.5,27.1 L890.8,25.9 L893.2,24.8 L895.5,23.7 L897.9,22.6 L900.3,21.6 L902.7,20.6 L905.1,19.7 L907.6,18.8 L910.0,17.9 L912.5,17.1 L914.9,16.3 L917.4,15.5 L919.9,14.8 L922.4,14.1 L924.9,13.4 L927.4,12.8 L929.9,12.2 L932.4,11.6 L934.9,11.0 L937.4,10.5 L940.0,10.0 L942.5,9.5 L945.0,9.1 L947.6,8.6 L950.1,8.2 L952.7,7.8 L955.2,7.4 L957.8,7.1 L960.3,6.7 L962.9,6.4 L965.5,6.1 L968.0,5.8 L970.6,5.6 L973.2,5.3 L975.7,5.1 L978.3,4.8 L980.9,4.6 L983.5,4.4 L986.0,4.3 L988.6,4.1 L991.2,4.0 L993.8,3.8 L996.4,3.7 L998.9,3.6 L1001.5,3.5 L1004.1,3.5Z" fill="#FDD5F5" stroke="#000" stroke-width="4.30"/>
<g fill="none" stroke="#111" stroke-linecap="round" stroke-linejoin="round"><path id="b3_0" stroke-width="2.66" d="M899.6,41.3 L899.6,87.0 M899.6,42.2 L900.9,42.3 L902.2,42.3 L903.6,42.2 L905.0,42.2 L906.3,42.2 L907.5,42.3 L908.6,42.6 L909.6,43.2 L910.4,43.9 L911.1,44.8 L911.8,45.9 L912.4,47.2 L912.8,48.4 L913.2,49.8 L913.4,51.0 L913.4,52.3 L913.3,53.7 L913.1,55.2 L912.6,56.7 L912.1,58.3 L911.4,59.8 L910.6,61.1 L909.7,62.3 L908.8,63.2 L907.9,63.8 L907.0,64.2 L905.9,64.4 L904.8,64.6 L903.7,64.7 L902.6,64.8 L901.4,64.9 L900.3,65.1 M905.0,65.1 L915.0,87.0 M934.3,41.3 L941.3,87.0 M930.6,71.5 L938.5,71.5 M967.7,46.8 L967.1,46.1 L966.5,45.2 L966.0,44.3 L965.4,43.4 L964.8,42.7 L964.2,42.0 L963.6,41.5 L963.0,41.3 L962.2,41.4 L961.3,41.7 L960.4,42.3 L959.5,43.0 L958.5,43.8 L957.7,44.8 L956.9,45.8 L956.2,46.8 L955.5,48.4 L954.9,50.3 L954.4,52.5 L954.1,54.7 L953.8,57.1 L953.7,59.5 L953.6,61.9 L953.6,64.1 L953.6,66.5 L953.7,69.0 L953.8,71.6 L954.0,74.1 L954.4,76.5 L954.9,78.8 L955.5,80.8 L956.2,82.4 L956.8,83.3 L957.5,84.2 L958.3,85.0 L959.1,85.7 L959.9,86.2 L960.8,86.7 L961.6,86.9 L962.3,87.0 L963.0,86.8 L963.7,86.3 L964.4,85.7 L965.0,84.9 L965.7,84.0 L966.3,83.1 L967.0,82.2 L967.7,81.5 M981.2,41.3 L981.2,87.0 M985.0,61.9 L994.0,87.0 M1021.8,41.3 L1028.9,87.0 M1018.1,71.5 L1026.0,71.5 M1042.6,87.0 L1042.6,41.3 M1057.4,87.0 L1057.4,41.3 M1072.5,41.3 L1072.5,87.0 M1072.5,41.3 L1073.6,41.7 L1074.7,42.1 L1075.9,42.4 L1077.0,42.7 L1078.1,43.0 L1079.2,43.5 L1080.2,44.2 L1081.0,45.0 L1082.2,46.6 L1083.2,48.6 L1084.1,51.0 L1084.8,53.5 L1085.4,56.2 L1085.9,59.0 L1086.1,61.6 L1086.3,64.2 L1086.2,66.7 L1086.0,69.3 L1085.7,72.1 L1085.2,74.8 L1084.5,77.3 L1083.7,79.7 L1082.8,81.7 L1081.7,83.3 L1080.8,84.2 L1079.7,84.8 L1078.6,85.3 L1077.4,85.7 L1076.2,86.0 L1074.9,86.3 L1073.7,86.6 L1072.5,87.0"/><path stroke-width="3.05" d="M927.2,87.0 L934.3,41.3 M993.4,42.2 L981.8,66.4 M1014.7,87.0 L1021.8,41.3 M1042.6,41.3 L1043.5,44.1 L1044.4,46.8 L1045.2,49.5 L1046.1,52.2 L1047.0,55.0 L1047.9,57.7 L1048.7,60.5 L1049.6,63.2 L1050.6,66.2 L1051.6,69.1 L1052.5,72.1 L1053.5,75.0 L1054.5,78.0 L1055.5,81.0 L1056.4,84.0 L1057.4,87.0"/>
<use href="#b3_0" x="1.37"/>
<use href="#b3_0" x="2.74"/>
<use href="#b3_0" x="4.11"/>
</g>
<g fill="none" stroke="#111" stroke-linecap="round" stroke-linejoin="round"><path id="b3_1" stroke-width="2.66" d="M912.4,98.0 L912.4,143.7 M912.4,98.9 L913.4,99.0 L914.3,99.0 L915.3,99.0 L916.3,99.0 L917.2,99.0 L918.1,99.2 L918.9,99.4 L919.6,99.9 L920.4,100.6 L921.0,101.6 L921.6,102.7 L922.0,104.0 L922.4,105.4 L922.7,106.8 L922.9,108.1 L923.0,109.4 L922.9,110.9 L922.8,112.5 L922.5,114.1 L922.1,115.7 L921.7,117.3 L921.1,118.7 L920.4,119.9 L919.6,120.8 L919.0,121.4 L918.2,121.7 L917.3,122.0 L916.4,122.1 L915.5,122.3 L914.5,122.4 L913.6,122.5 L912.7,122.7 M942.1,98.0 L949.0,143.7 M938.4,128.2 L946.2,128.2 M962.7,143.7 L962.7,98.0 M977.3,143.7 L977.3,98.0 M992.5,143.7 L992.5,98.0 M1007.1,143.7 L1007.1,98.0 M1021.2,104.9 L1021.2,143.7 M1034.8,98.9 L1034.8,143.7 M1034.8,98.9 L1044.0,98.0 M1034.8,120.8 L1042.4,120.8 M1034.8,143.2 L1044.0,142.8 M1057.6,98.0 L1057.6,143.7 M1057.6,98.9 L1058.9,99.0 L1060.2,99.0 L1061.6,98.9 L1063.0,98.9 L1064.3,98.9 L1065.5,99.0 L1066.6,99.3 L1067.5,99.9 L1068.4,100.6 L1069.1,101.5 L1069.7,102.6 L1070.3,103.9 L1070.7,105.1 L1071.1,106.4 L1071.3,107.7 L1071.3,109.0 L1071.2,110.4 L1071.0,111.9 L1070.5,113.4 L1070.0,115.0 L1069.3,116.5 L1068.5,117.8 L1067.7,119.0 L1066.8,119.9 L1065.9,120.5 L1065.0,120.9 L1063.9,121.1 L1062.8,121.3 L1061.7,121.4 L1060.6,121.5 L1059.5,121.6 L1058.4,121.8 M1063.0,121.8 L1072.9,143.7"/><path stroke-width="3.05" d="M935.1,143.7 L942.1,98.0 M962.7,98.0 L963.5,100.8 L964.4,103.5 L965.3,106.2 L966.1,108.9 L967.0,111.7 L967.8,114.4 L968.7,117.2 L969.6,119.9 L970.5,122.9 L971.5,125.8 L972.4,128.8 L973.4,131.7 L974.4,134.7 L975.4,137.7 L976.3,140.7 L977.3,143.7 M992.5,98.0 L993.3,100.8 L994.2,103.5 L995.0,106.2 L995.9,108.9 L996.8,111.7 L997.6,114.4 L998.5,117.2 L999.4,119.9 L1000.3,122.9 L1001.3,125.8 L1002.2,128.8 L1003.2,131.7 L1004.2,134.7 L1005.2,137.7 L1006.1,140.7 L1007.1,143.7"/>
<use href="#b3_1" x="1.37"/>
<use href="#b3_1" x="2.74"/>
<use href="#b3_1" x="4.11"/>
</g>
<g fill="none" stroke="#111" stroke-linecap="round" stroke-linejoin="round"><path id="b3_2" stroke-width="2.56" d="M950.9,163.3 L950.4,162.5 L949.9,161.7 L949.4,160.8 L948.9,160.0 L948.4,159.2 L947.9,158.6 L947.4,158.2 L946.9,158.0 L946.3,158.1 L945.7,158.3 L945.0,158.8 L944.4,159.4 L943.7,160.1 L943.2,160.8 L942.7,161.6 L942.3,162.4 L942.0,163.4 L941.8,164.5 L941.6,165.7 L941.6,167.0 L941.7,168.3 L941.8,169.6 L942.0,170.9 L942.3,172.1 L942.6,173.1 L943.0,174.2 L943.5,175.1 L944.0,176.1 L944.6,177.1 L945.2,178.1 L945.8,179.0 L946.3,180.0 L946.9,181.0 L947.6,181.9 L948.2,182.9 L948.9,183.9 L949.5,184.8 L950.1,185.8 L950.6,186.8 L950.9,187.9 L951.2,189.2 L951.3,190.6 L951.4,192.0 L951.4,193.5 L951.3,194.9 L951.1,196.3 L950.8,197.5 L950.4,198.5 L950.0,199.2 L949.5,199.8 L948.9,200.4 L948.3,201.0 L947.7,201.5 L947.0,201.8 L946.4,202.0 L945.8,202.0 L945.3,201.8 L944.8,201.4 L944.3,200.7 L943.8,200.0 L943.3,199.1 L942.8,198.3 L942.3,197.5 L941.8,196.7 M963.4,158.9 L963.4,202.0 M963.4,158.9 L971.7,158.0 M963.4,180.0 L970.2,180.0 M963.4,201.6 L971.7,201.1 M982.7,158.9 L997.9,158.0 M990.3,158.4 L990.3,202.0 M1010.0,158.0 L1009.9,161.3 L1009.8,164.8 L1009.7,168.3 L1009.6,171.7 L1009.6,175.1 L1009.5,178.4 L1009.6,181.5 L1009.7,184.4 L1009.8,186.4 L1010.0,188.5 L1010.1,190.5 L1010.3,192.4 L1010.5,194.2 L1010.8,195.8 L1011.2,197.3 L1011.7,198.5 L1012.1,199.2 L1012.5,199.8 L1012.9,200.4 L1013.3,200.9 L1013.8,201.3 L1014.3,201.7 L1014.7,201.9 L1015.2,202.0 L1015.7,202.0 L1016.2,201.7 L1016.8,201.4 L1017.3,201.0 L1017.9,200.4 L1018.4,199.8 L1018.8,199.2 L1019.2,198.5 L1019.7,197.3 L1020.1,195.8 L1020.4,194.2 L1020.5,192.4 L1020.7,190.5 L1020.8,188.5 L1020.8,186.4 L1020.9,184.4 L1021.1,181.5 L1021.1,178.4 L1021.1,175.1 L1021.1,171.7 L1021.1,168.3 L1021.0,164.8 L1021.0,161.3 L1020.9,158.0 M1033.5,158.0 L1033.5,202.0 M1033.5,158.9 L1034.3,158.9 L1035.2,158.9 L1036.1,158.9 L1037.0,158.9 L1037.9,159.0 L1038.7,159.1 L1039.4,159.3 L1040.0,159.7 L1040.7,160.5 L1041.3,161.4 L1041.8,162.5 L1042.2,163.8 L1042.6,165.1 L1042.8,166.4 L1043.0,167.7 L1043.1,169.0 L1043.0,170.4 L1042.9,171.9 L1042.7,173.5 L1042.3,175.0 L1041.9,176.6 L1041.4,177.9 L1040.8,179.1 L1040.0,180.0 L1039.4,180.5 L1038.7,180.8 L1037.9,181.1 L1037.1,181.2 L1036.3,181.3 L1035.4,181.5 L1034.6,181.6 L1033.8,181.8"/><path stroke-width="2.95" d=""/>
<use href="#b3_2" x="1.32"/>
<use href="#b3_2" x="2.64"/>
<use href="#b3_2" x="3.96"/>
</g>
<path d="M115.8,326.5 L118.2,326.1 L120.7,325.6 L123.1,324.9 L125.5,324.2 L127.9,323.4 L130.3,322.5 L132.8,321.5 L135.2,320.5 L137.6,319.4 L140.1,318.4 L142.5,317.3 L144.9,316.3 L147.4,315.3 L149.8,314.3 L152.3,313.5 L154.8,312.7 L157.2,312.1 L159.7,311.5 L162.2,311.1 L164.7,310.7 L167.2,310.5 L169.8,310.2 L172.3,309.9 L174.8,309.6 L177.3,309.3 L179.8,309.0 L182.4,308.8 L184.9,308.5 L187.4,308.2 L189.9,308.0 L192.5,307.8 L195.0,307.6 L197.5,307.4 L200.1,307.3 L202.6,307.2 L205.2,307.1 L207.7,307.1 L210.2,307.1 L212.8,307.1 L215.3,307.2 L217.8,307.3 L220.4,307.5 L222.9,307.7 L225.4,308.0 L227.9,308.4 L230.4,308.8 L232.9,309.3 L235.4,309.8 L237.8,310.4 L240.3,311.1 L242.7,311.8 L245.1,312.6 L247.5,313.5 L249.8,314.4 L252.2,315.4 L254.5,316.5 L256.7,317.6 L259.0,318.8 L261.2,320.1 L263.4,321.4 L265.6,322.8 L267.7,324.3 L269.8,325.8 L271.9,327.3 L273.9,328.9 L275.9,330.5 L277.8,332.2 L279.8,334.0 L281.7,335.8 L283.5,337.6 L285.3,339.4 L287.1,341.3 L288.9,343.2 L290.6,345.2 L292.3,347.1 L293.9,349.1 L295.5,351.1 L297.1,353.2 L298.6,355.2 L300.1,357.3 L301.6,359.4 L303.1,361.4 L304.5,363.6 L305.9,365.7 L307.2,367.8 L308.5,370.0 L309.8,372.1 L311.1,374.3 L312.3,376.5 L313.5,378.7 L314.7,380.9 L315.8,383.1 L316.9,385.4 L317.9,387.6 L319.0,389.9 L319.9,392.2 L320.9,394.5 L321.8,396.8 L322.7,399.1 L323.5,401.5 L324.3,403.9 L325.0,406.3 L325.7,408.7 L326.4,411.1 L327.0,413.6 L327.6,416.0 L328.1,418.5 L328.5,421.1 L328.9,423.6 L329.3,426.1 L329.6,428.7 L329.8,431.3 L330.0,433.9 L330.1,436.4 L330.1,439.1 L330.1,441.7 L330.1,444.3 L329.9,446.9 L329.7,449.5 L329.5,452.1 L329.1,454.7 L328.8,457.3 L328.3,459.9 L327.8,462.5 L327.2,465.0 L326.5,467.6 L325.8,470.1 L325.0,472.6 L324.2,475.0 L323.3,477.4 L322.3,479.8 L321.3,482.2 L320.2,484.5 L319.1,486.8 L317.9,489.0 L316.6,491.2 L315.3,493.4 L313.9,495.5 L312.5,497.5 L311.0,499.5 L309.4,501.5 L307.9,503.4 L306.2,505.3 L304.5,507.1 L302.8,508.9 L301.0,510.6 L299.2,512.3 L297.3,513.9 L295.4,515.5 L293.5,517.1 L291.5,518.6 L289.5,520.0 L287.4,521.5 L285.3,522.8 L283.2,524.2 L281.1,525.5 L278.9,526.8 L276.7,528.0 L274.4,529.2 L272.1,530.4 L269.8,531.5 L267.5,532.6 L265.2,533.7 L262.8,534.7 L260.4,535.7 L258.0,536.7 L255.6,537.7 L253.2,538.6 L250.7,539.5 L248.3,540.4 L245.8,541.2 L243.3,542.0 L240.8,542.8 L238.3,543.6 L235.8,544.3 L233.3,545.1 L230.8,545.7 L228.3,546.4 L225.8,547.0 L223.2,547.6 L220.7,548.1 L218.2,548.7 L215.7,549.2 L213.1,549.6 L210.6,550.0 L208.1,550.4 L205.6,550.8 L203.1,551.1 L200.6,551.4 L198.1,551.7 L195.6,551.9 L193.1,552.1 L190.6,552.3 L188.1,552.5 L185.6,552.6 L183.1,552.6 L180.6,552.7 L178.2,552.7 L175.7,552.7 L173.2,552.7 L170.7,552.6 L168.2,552.6 L165.7,552.5 L163.2,552.4 L160.8,552.2 L158.3,552.1 L155.8,551.9 L153.3,551.7 L150.7,551.5 L148.2,551.3 L145.7,551.0 L143.2,550.8 L140.7,550.5 L138.1,550.3 L135.6,550.0 L133.0,549.7 L130.5,549.4 L127.9,549.0 L125.4,548.7 L122.8,548.3 L120.2,548.0 L117.7,547.6 L115.1,547.2 L112.5,546.8 L110.0,546.3 L107.4,545.9 L104.9,545.4 L102.3,544.9 L99.8,544.4 L97.2,543.8 L94.7,543.2 L92.2,542.6 L89.7,541.9 L87.2,541.3 L84.7,540.5 L82.3,539.8 L79.9,539.0 L77.4,538.2 L75.1,537.3 L72.7,536.3 L70.4,535.4 L68.0,534.4 L65.8,533.3 L63.5,532.2 L61.3,531.0 L59.1,529.8 L56.9,528.5 L54.8,527.2 L52.7,525.8 L50.7,524.3 L48.6,522.8 L46.7,521.3 L44.7,519.7 L42.8,518.1 L40.9,516.4 L39.1,514.6 L37.3,512.8 L35.6,510.9 L33.8,509.1 L32.2,507.1 L30.6,505.1 L29.0,503.1 L27.4,501.0 L25.9,498.9 L24.5,496.8 L23.1,494.6 L21.7,492.4 L20.4,490.1 L19.1,487.9 L17.9,485.6 L16.8,483.2 L15.6,480.9 L14.6,478.5 L13.5,476.1 L12.6,473.7 L11.7,471.3 L10.8,468.9 L10.0,466.4 L9.2,463.9 L8.5,461.5 L7.9,459.0 L7.3,456.5 L6.8,454.0 L6.3,451.5 L5.9,449.0 L5.6,446.5 L5.3,444.0 L5.0,441.5 L4.9,439.0 L4.8,436.5 L4.7,434.0 L4.7,431.5 L4.8,429.0 L5.0,426.5 L5.2,424.1 L5.4,421.6 L5.8,419.1 L6.1,416.6 L6.6,414.2 L7.1,411.7 L7.7,409.3 L8.3,406.8 L9.0,404.4 L9.7,402.0 L10.5,399.6 L11.3,397.2 L12.2,394.8 L13.2,392.5 L14.2,390.1 L15.3,387.8 L16.4,385.4 L17.5,383.1 L18.7,380.9 L20.0,378.6 L21.3,376.4 L22.6,374.2 L24.0,372.0 L25.4,369.8 L26.9,367.7 L28.4,365.6 L30.0,363.5 L31.6,361.4 L33.2,359.4 L34.9,357.4 L36.6,355.5 L38.3,353.6 L40.1,351.7 L41.9,349.9 L43.8,348.1 L45.7,346.4 L47.6,344.7 L49.5,343.1 L51.5,341.5 L53.5,339.9 L55.6,338.4 L57.7,337.0 L59.8,335.6 L61.9,334.2 L64.1,332.9 L66.3,331.7 L68.5,330.5 L70.7,329.4 L73.0,328.3 L75.3,327.2 L77.6,326.3 L79.9,325.3 L82.3,324.4 L84.7,323.6 L87.1,322.8 L89.5,322.0 L91.9,321.3 L94.3,320.7 L96.8,320.1 L99.3,319.5 L101.8,318.9 L104.2,318.4 L106.7,317.9 L109.2,317.5 L111.8,317.1 L114.3,316.7Z" fill="#D8D394"/>
<path d="M115.8,326.5 L118.2,326.1 L120.7,325.6 L123.1,324.9 L125.5,324.2 L127.9,323.4 L130.3,322.5 L132.8,321.5 L135.2,320.5 L137.6,319.4 L140.1,318.4 L142.5,317.3 L144.9,316.3 L147.4,315.3 L149.8,314.3 L152.3,313.5 L154.8,312.7 L157.2,312.1 L159.7,311.5 L162.2,311.1 L164.7,310.7 L167.2,310.5 L169.8,310.2 L172.3,309.9 L174.8,309.6 L177.3,309.3 L179.8,309.0 L182.4,308.8 L184.9,308.5 L187.4,308.2 L189.9,308.0 L192.5,307.8 L195.0,307.6 L197.5,307.4 L200.1,307.3 L202.6,307.2 L205.2,307.1 L207.7,307.1 L210.2,307.1 L212.8,307.1 L215.3,307.2 L217.8,307.3 L220.4,307.5 L222.9,307.7 L225.4,308.0 L227.9,308.4 L230.4,308.8 L232.9,309.3 L235.4,309.8 L237.8,310.4 L240.3,311.1 L242.7,311.8 L245.1,312.6 L247.5,313.5 L249.8,314.4 L252.2,315.4 L254.5,316.5 L256.7,317.6 L259.0,318.8 L261.2,320.1 L263.4,321.4 L265.6,322.8 L267.7,324.3 L269.8,325.8 L271.9,327.3 L273.9,328.9 L275.9,330.5 L277.8,332.2 L279.8,334.0 L281.7,335.8 L283.5,337.6 L285.3,339.4 L287.1,341.3 L288.9,343.2 L290.6,345.2 L292.3,347.1 L293.9,349.1 L295.5,351.1 L297.1,353.2 L298.6,355.2 L300.1,357.3 L301.6,359.4 L303.1,361.4 L304.5,363.6 L305.9,365.7 L307.2,367.8 L308.5,370.0 L309.8,372.1 L311.1,374.3 L312.3,376.5 L313.5,378.7 L314.7,380.9 L315.8,383.1 L316.9,385.4 L317.9,387.6 L319.0,389.9 L319.9,392.2 L320.9,394.5 L321.8,396.8 L322.7,399.1 L323.5,401.5 L324.3,403.9 L325.0,406.3 L325.7,408.7 L326.4,411.1 L327.0,413.6 L327.6,416.0 L328.1,418.5 L328.5,421.1 L328.9,423.6 L329.3,426.1 L329.6,428.7 L329.8,431.3 L330.0,433.9 L330.1,436.4 L330.1,439.1 L330.1,441.7 L330.1,444.3 L329.9,446.9 L329.7,449.5 L329.5,452.1 L329.1,454.7 L328.8,457.3 L328.3,459.9 L327.8,462.5 L327.2,465.0 L326.5,467.6 L325.8,470.1 L325.0,472.6 L324.2,475.0 L323.3,477.4 L322.3,479.8 L321.3,482.2 L320.2,484.5 L319.1,486.8 L317.9,489.0 L316.6,491.2 L315.3,493.4 L313.9,495.5 L312.5,497.5 L311.0,499.5 L309.4,501.5 L307.9,503.4 L306.2,505.3 L304.5,507.1 L302.8,508.9 L301.0,510.6 L299.2,512.3 L297.3,513.9 L295.4,515.5 L293.5,517.1 L291.5,518.6 L289.5,520.0 L287.4,521.5 L285.3,522.8 L283.2,524.2 L281.1,525.5 L278.9,526.8 L276.7,528.0 L274.4,529.2 L272.1,530.4 L269.8,531.5 L267.5,532.6 L265.2,533.7 L262.8,534.7 L260.4,535.7 L258.0,536.7 L255.6,537.7 L253.2,538.6 L250.7,539.5 L248.3,540.4 L245.8,541.2 L243.3,542.0 L240.8,542.8 L238.3,543.6 L235.8,544.3 L233.3,545.1 L230.8,545.7 L228.3,546.4 L225.8,547.0 L223.2,547.6 L220.7,548.1 L218.2,548.7 L215.7,549.2 L213.1,549.6 L210.6,550.0 L208.1,550.4 L205.6,550.8 L203.1,551.1 L200.6,551.4 L198.1,551.7 L195.6,551.9 L193.1,552.1 L190.6,552.3 L188.1,552.5 L185.6,552.6 L183.1,552.6 L180.6,552.7 L178.2,552.7 L175.7,552.7 L173.2,552.7 L170.7,552.6 L168.2,552.6 L165.7,552.5 L163.2,552.4 L160.8,552.2 L158.3,552.1 L155.8,551.9 L153.3,551.7 L150.7,551.5 L148.2,551.3 L145.7,551.0 L143.2,550.8 L140.7,550.5 L138.1,550.3 L135.6,550.0 L133.0,549.7 L130.5,549.4 L127.9,549.0 L125.4,548.7 L122.8,548.3 L120.2,548.0 L117.7,547.6 L115.1,547.2 L112.5,546.8 L110.0,546.3 L107.4,545.9 L104.9,545.4 L102.3,544.9 L99.8,544.4 L97.2,543.8 L94.7,543.2 L92.2,542.6 L89.7,541.9 L87.2,541.3 L84.7,540.5 L82.3,539.8 L79.9,539.0 L77.4,538.2 L75.1,537.3 L72.7,536.3 L70.4,535.4 L68.0,534.4 L65.8,533.3 L63.5,532.2 L61.3,531.0 L59.1,529.8 L56.9,528.5 L54.8,527.2 L52.7,525.8 L50.7,524.3 L48.6,522.8 L46.7,521.3 L44.7,519.7 L42.8,518.1 L40.9,516.4 L39.1,514.6 L37.3,512.8 L35.6,510.9 L33.8,509.1 L32.2,507.1 L30.6,505.1 L29.0,503.1 L27.4,501.0 L25.9,498.9 L24.5,496.8 L23.1,494.6 L21.7,492.4 L20.4,490.1 L19.1,487.9 L17.9,485.6 L16.8,483.2 L15.6,480.9 L14.6,478.5 L13.5,476.1 L12.6,473.7 L11.7,471.3 L10.8,468.9 L10.0,466.4 L9.2,463.9 L8.5,461.5 L7.9,459.0 L7.3,456.5 L6.8,454.0 L6.3,451.5 L5.9,449.0 L5.6,446.5 L5.3,444.0 L5.0,441.5 L4.9,439.0 L4.8,436.5 L4.7,434.0 L4.7,431.5 L4.8,429.0 L5.0,426.5 L5.2,424.1 L5.4,421.6 L5.8,419.1 L6.1,416.6 L6.6,414.2 L7.1,411.7 L7.7,409.3 L8.3,406.8 L9.0,404.4 L9.7,402.0 L10.5,399.6 L11.3,397.2 L12.2,394.8 L13.2,392.5 L14.2,390.1 L15.3,387.8 L16.4,385.4 L17.5,383.1 L18.7,380.9 L20.0,378.6 L21.3,376.4 L22.6,374.2 L24.0,372.0 L25.4,369.8 L26.9,367.7 L28.4,365.6 L30.0,363.5 L31.6,361.4 L33.2,359.4 L34.9,357.4 L36.6,355.5 L38.3,353.6 L40.1,351.7 L41.9,349.9 L43.8,348.1 L45.7,346.4 L47.6,344.7 L49.5,343.1 L51.5,341.5 L53.5,339.9 L55.6,338.4 L57.7,337.0 L59.8,335.6 L61.9,334.2 L64.1,332.9 L66.3,331.7 L68.5,330.5 L70.7,329.4 L73.0,328.3 L75.3,327.2 L77.6,326.3 L79.9,325.3 L82.3,324.4 L84.7,323.6 L87.1,322.8 L89.5,322.0 L91.9,321.3 L94.3,320.7 L96.8,320.1 L99.3,319.5 L101.8,318.9 L104.2,318.4 L106.7,317.9 L109.2,317.5 L111.8,317.1 L114.3,316.7" fill="none" stroke="#000" stroke-width="4.30" stroke-linecap="round" stroke-linejoin="round"/>
<g fill="none" stroke="#111" stroke-linecap="round" stroke-linejoin="round"><path id="b4_0" stroke-width="2.57" d="M44.6,380.5 L60.9,379.6 M52.7,380.0 L52.7,423.7 M79.4,379.6 L80.0,380.1 L80.7,380.6 L81.4,381.0 L82.1,381.5 L82.7,382.0 L83.3,382.6 L83.9,383.2 L84.4,384.0 L85.0,385.6 L85.5,387.5 L85.8,389.7 L86.0,392.0 L86.1,394.5 L86.2,396.9 L86.2,399.4 L86.2,401.6 L86.2,403.9 L86.2,406.4 L86.1,408.8 L86.0,411.3 L85.8,413.6 L85.5,415.8 L85.0,417.7 L84.4,419.3 L83.9,420.1 L83.3,421.0 L82.7,421.7 L82.1,422.4 L81.4,422.9 L80.7,423.3 L80.0,423.6 L79.4,423.7 L78.7,423.6 L78.1,423.3 L77.4,422.9 L76.7,422.4 L76.0,421.7 L75.4,421.0 L74.9,420.1 L74.4,419.3 L73.7,417.7 L73.3,415.8 L73.0,413.6 L72.8,411.3 L72.7,408.8 L72.6,406.4 L72.6,403.9 L72.6,401.6 L72.6,399.4 L72.6,396.9 L72.7,394.5 L72.8,392.0 L73.0,389.7 L73.3,387.5 L73.7,385.6 L74.4,384.0 L74.9,383.2 L75.4,382.6 L76.0,382.0 L76.7,381.5 L77.4,381.0 L78.1,380.6 L78.7,380.1 L79.4,379.6 M99.1,379.6 L99.1,383.0 L99.0,386.4 L98.9,389.9 L98.8,393.3 L98.7,396.7 L98.6,400.0 L98.7,403.2 L98.8,406.1 L99.0,408.1 L99.1,410.2 L99.3,412.1 L99.5,414.0 L99.7,415.8 L100.1,417.5 L100.5,418.9 L101.0,420.2 L101.4,420.8 L101.8,421.5 L102.2,422.1 L102.7,422.6 L103.2,423.0 L103.7,423.4 L104.2,423.6 L104.7,423.7 L105.2,423.7 L105.8,423.4 L106.4,423.1 L107.0,422.7 L107.5,422.1 L108.1,421.5 L108.6,420.9 L109.0,420.2 L109.5,418.9 L109.9,417.5 L110.2,415.9 L110.4,414.1 L110.5,412.1 L110.6,410.2 L110.7,408.1 L110.9,406.1 L111.0,403.2 L111.1,400.0 L111.1,396.7 L111.0,393.3 L111.0,389.9 L110.9,386.4 L110.9,383.0 L110.9,379.6 M124.7,379.6 L124.7,423.7 M124.7,380.5 L125.9,380.5 L127.2,380.5 L128.6,380.4 L129.9,380.4 L131.1,380.4 L132.3,380.6 L133.4,380.9 L134.3,381.3 L135.1,382.1 L135.8,383.0 L136.5,384.0 L137.0,385.2 L137.4,386.5 L137.7,387.7 L137.9,389.0 L138.0,390.2 L137.9,391.5 L137.7,393.0 L137.2,394.5 L136.7,396.0 L136.0,397.4 L135.3,398.7 L134.5,399.9 L133.6,400.8 L132.7,401.3 L131.8,401.7 L130.8,401.9 L129.8,402.1 L128.7,402.2 L127.6,402.2 L126.5,402.4 L125.4,402.5 M129.9,402.5 L139.5,423.7 M151.7,386.2 L151.7,423.7 M165.4,423.7 L165.4,379.6 M179.6,423.7 L179.6,379.6 M207.9,384.0 L207.2,383.4 L206.6,382.7 L205.9,381.9 L205.2,381.2 L204.5,380.6 L203.8,380.0 L203.1,379.7 L202.4,379.6 L201.6,379.7 L200.7,380.2 L199.7,380.8 L198.8,381.6 L197.9,382.5 L197.0,383.6 L196.2,384.7 L195.6,385.8 L194.8,387.4 L194.2,389.3 L193.7,391.3 L193.4,393.5 L193.1,395.8 L192.9,398.1 L192.8,400.4 L192.8,402.5 L192.8,404.7 L192.9,407.0 L193.1,409.4 L193.4,411.7 L193.7,413.9 L194.2,416.0 L194.8,417.8 L195.6,419.3 L196.2,420.2 L196.9,421.0 L197.6,421.7 L198.4,422.4 L199.3,422.9 L200.1,423.4 L200.9,423.6 L201.7,423.7 L202.5,423.6 L203.4,423.3 L204.3,422.9 L205.1,422.4 L206.0,421.7 L206.7,420.9 L207.4,420.1 L207.9,419.3 L208.4,418.1 L208.7,416.7 L208.8,415.2 L208.8,413.6 L208.7,411.9 L208.6,410.2 L208.6,408.5 L208.6,406.9 M203.8,406.1 L210.0,406.1 M236.6,379.6 L237.3,380.1 L238.0,380.6 L238.7,381.0 L239.3,381.5 L240.0,382.0 L240.6,382.6 L241.2,383.2 L241.7,384.0 L242.3,385.6 L242.7,387.5 L243.1,389.7 L243.3,392.0 L243.4,394.5 L243.4,396.9 L243.4,399.4 L243.4,401.6 L243.4,403.9 L243.4,406.4 L243.4,408.8 L243.3,411.3 L243.1,413.6 L242.7,415.8 L242.3,417.7 L241.7,419.3 L241.2,420.1 L240.6,421.0 L240.0,421.7 L239.3,422.4 L238.7,422.9 L238.0,423.3 L237.3,423.6 L236.6,423.7 L236.0,423.6 L235.3,423.3 L234.6,422.9 L234.0,422.4 L233.3,421.7 L232.7,421.0 L232.1,420.1 L231.6,419.3 L231.0,417.7 L230.6,415.8 L230.2,413.6 L230.0,411.3 L229.9,408.8 L229.9,406.4 L229.9,403.9 L229.9,401.6 L229.9,399.4 L229.9,396.9 L229.9,394.5 L230.0,392.0 L230.2,389.7 L230.6,387.5 L231.0,385.6 L231.6,384.0 L232.1,383.2 L232.7,382.6 L233.3,382.0 L234.0,381.5 L234.6,381.0 L235.3,380.6 L236.0,380.1 L236.6,379.6 M256.7,379.6 L256.7,423.7 M256.7,380.5 L257.9,380.5 L259.2,380.5 L260.5,380.4 L261.8,380.4 L263.1,380.4 L264.3,380.6 L265.4,380.9 L266.3,381.3 L267.1,382.1 L267.8,383.0 L268.4,384.0 L268.9,385.2 L269.4,386.5 L269.7,387.7 L269.9,389.0 L270.0,390.2 L269.9,391.5 L269.6,393.0 L269.2,394.5 L268.6,396.0 L268.0,397.4 L267.2,398.7 L266.4,399.9 L265.5,400.8 L264.7,401.3 L263.8,401.7 L262.8,401.9 L261.7,402.1 L260.6,402.2 L259.5,402.2 L258.4,402.4 L257.4,402.5 M261.8,402.5 L271.4,423.7"/><path stroke-width="2.95" d="M165.4,379.6 L166.2,382.2 L167.1,384.9 L167.9,387.5 L168.7,390.1 L169.6,392.8 L170.4,395.4 L171.2,398.1 L172.1,400.8 L173.0,403.6 L173.9,406.4 L174.9,409.3 L175.8,412.2 L176.7,415.1 L177.7,418.0 L178.6,420.8 L179.6,423.7"/>
<use href="#b4_0" x="1.32"/>
<use href="#b4_0" x="2.65"/>
<use href="#b4_0" x="3.97"/>
</g>
<g fill="none" stroke="#111" stroke-linecap="round" stroke-linejoin="round"><path id="b4_1" stroke-width="2.57" d="M47.9,439.6 L47.9,483.7 M47.9,440.5 L49.2,440.5 L50.7,440.5 L52.1,440.4 L53.5,440.4 L54.9,440.4 L56.2,440.5 L57.3,440.8 L58.3,441.3 L59.2,442.1 L59.9,443.0 L60.6,444.1 L61.2,445.2 L61.7,446.5 L62.0,447.7 L62.3,449.0 L62.3,450.2 L62.2,451.5 L62.0,453.0 L61.5,454.5 L60.9,456.0 L60.2,457.4 L59.3,458.7 L58.5,459.9 L57.5,460.8 L56.6,461.3 L55.6,461.7 L54.5,461.9 L53.4,462.1 L52.2,462.2 L51.0,462.3 L49.8,462.4 L48.7,462.5 M53.5,462.5 L64.0,483.7 M84.1,439.6 L84.8,440.1 L85.5,440.6 L86.3,441.0 L87.0,441.5 L87.7,442.0 L88.4,442.5 L89.0,443.2 L89.5,444.0 L90.2,445.6 L90.7,447.5 L91.0,449.7 L91.2,452.0 L91.4,454.5 L91.4,456.9 L91.4,459.4 L91.4,461.6 L91.4,463.9 L91.4,466.4 L91.4,468.8 L91.2,471.3 L91.0,473.6 L90.7,475.8 L90.2,477.7 L89.5,479.3 L89.0,480.2 L88.4,481.0 L87.7,481.7 L87.0,482.4 L86.3,482.9 L85.5,483.4 L84.8,483.6 L84.1,483.7 L83.4,483.6 L82.6,483.4 L81.9,482.9 L81.2,482.4 L80.4,481.7 L79.8,481.0 L79.2,480.2 L78.6,479.3 L78.0,477.7 L77.5,475.8 L77.1,473.6 L76.9,471.3 L76.8,468.8 L76.7,466.4 L76.7,463.9 L76.7,461.6 L76.7,459.4 L76.7,456.9 L76.8,454.5 L76.9,452.0 L77.1,449.7 L77.5,447.5 L78.0,445.6 L78.6,444.0 L79.2,443.2 L79.8,442.5 L80.4,442.0 L81.2,441.5 L81.9,441.0 L82.6,440.6 L83.4,440.1 L84.1,439.6 M111.6,439.6 L118.9,483.7 M107.7,468.7 L116.0,468.7 M133.1,439.6 L133.1,483.7 M133.1,439.6 L134.2,440.0 L135.4,440.3 L136.6,440.6 L137.8,440.9 L138.9,441.2 L140.0,441.7 L141.0,442.3 L141.9,443.1 L143.1,444.7 L144.1,446.6 L145.0,448.9 L145.8,451.4 L146.5,454.0 L146.9,456.6 L147.3,459.2 L147.4,461.6 L147.4,464.1 L147.1,466.6 L146.8,469.3 L146.2,471.9 L145.6,474.4 L144.7,476.7 L143.7,478.6 L142.6,480.2 L141.7,481.0 L140.6,481.7 L139.4,482.1 L138.2,482.5 L136.9,482.8 L135.6,483.0 L134.3,483.3 L133.1,483.7 M170.3,439.6 L170.3,483.7 M170.3,440.5 L171.4,440.5 L172.4,440.4 L173.5,440.3 L174.6,440.2 L175.7,440.2 L176.7,440.3 L177.6,440.5 L178.4,440.9 L179.1,441.6 L179.7,442.4 L180.3,443.4 L180.8,444.5 L181.1,445.7 L181.4,447.0 L181.6,448.2 L181.7,449.3 L181.7,450.5 L181.5,451.9 L181.2,453.2 L180.8,454.6 L180.3,455.9 L179.8,457.1 L179.1,458.2 L178.4,459.0 L177.6,459.5 L176.8,459.9 L175.9,460.1 L174.9,460.3 L173.9,460.4 L172.9,460.5 L171.9,460.6 L171.0,460.8 M171.0,460.8 L172.2,461.1 L173.5,461.3 L174.8,461.5 L176.1,461.7 L177.3,461.9 L178.5,462.3 L179.5,462.8 L180.4,463.4 L181.1,464.3 L181.8,465.4 L182.4,466.6 L182.9,467.8 L183.3,469.2 L183.6,470.6 L183.7,471.9 L183.7,473.1 L183.6,474.4 L183.4,475.7 L183.0,477.0 L182.5,478.3 L181.9,479.5 L181.3,480.6 L180.5,481.6 L179.7,482.4 L178.8,482.9 L177.7,483.3 L176.6,483.4 L175.4,483.5 L174.1,483.5 L172.8,483.6 L171.5,483.6 L170.3,483.7 M197.0,446.2 L197.0,483.7 M211.6,439.6 L211.6,483.7 M215.6,459.4 L224.9,483.7 M238.8,440.5 L238.8,483.7 M238.8,440.5 L248.5,439.6 M238.8,461.6 L246.8,461.6 M238.8,483.3 L248.5,482.8 M272.5,444.9 L271.9,444.2 L271.3,443.3 L270.7,442.5 L270.1,441.6 L269.6,440.8 L269.0,440.2 L268.4,439.8 L267.7,439.6 L267.1,439.7 L266.4,439.9 L265.6,440.4 L264.8,441.0 L264.1,441.7 L263.4,442.4 L262.9,443.2 L262.4,444.0 L262.1,445.0 L261.8,446.1 L261.7,447.4 L261.7,448.6 L261.8,450.0 L261.9,451.3 L262.2,452.5 L262.4,453.7 L262.8,454.8 L263.3,455.8 L263.8,456.8 L264.5,457.8 L265.1,458.7 L265.8,459.7 L266.5,460.7 L267.2,461.6 L267.8,462.6 L268.6,463.6 L269.4,464.5 L270.1,465.5 L270.9,466.5 L271.5,467.5 L272.1,468.5 L272.5,469.6 L272.7,470.9 L272.9,472.2 L273.0,473.7 L273.0,475.2 L272.9,476.6 L272.7,478.0 L272.3,479.2 L271.9,480.2 L271.4,480.9 L270.8,481.5 L270.2,482.2 L269.4,482.7 L268.7,483.2 L267.9,483.5 L267.2,483.7 L266.6,483.7 L265.9,483.5 L265.3,483.0 L264.7,482.4 L264.2,481.6 L263.6,480.8 L263.0,480.0 L262.4,479.1 L261.9,478.4"/><path stroke-width="2.95" d="M104.2,483.7 L111.6,439.6 M224.3,440.5 L212.2,463.9"/>
<use href="#b4_1" x="1.32"/>
<use href="#b4_1" x="2.65"/>
<use href="#b4_1" x="3.97"/>
</g>
<path d="M1037.0,335.4 L1039.4,335.4 L1041.9,335.3 L1044.3,335.3 L1046.8,335.2 L1049.2,335.2 L1051.6,335.2 L1054.1,335.2 L1056.5,335.3 L1058.9,335.3 L1061.3,335.4 L1063.7,335.5 L1066.0,335.6 L1068.4,335.7 L1070.7,335.8 L1073.1,335.9 L1075.4,336.1 L1077.8,336.3 L1080.1,336.5 L1082.4,336.7 L1084.7,337.0 L1087.0,337.2 L1089.3,337.5 L1091.6,337.8 L1093.9,338.2 L1096.1,338.5 L1098.4,338.9 L1100.7,339.3 L1103.0,339.8 L1105.3,340.3 L1107.5,340.7 L1109.8,341.3 L1112.1,341.8 L1114.4,342.4 L1116.7,343.0 L1119.0,343.7 L1121.3,344.4 L1123.6,345.1 L1125.9,345.8 L1128.2,346.6 L1130.5,347.4 L1132.8,348.3 L1135.1,349.2 L1137.3,350.1 L1139.6,351.1 L1141.9,352.1 L1144.1,353.1 L1146.3,354.2 L1148.6,355.3 L1150.8,356.5 L1152.9,357.7 L1155.1,359.0 L1157.2,360.2 L1159.3,361.6 L1161.3,363.0 L1163.3,364.4 L1165.3,365.8 L1167.2,367.3 L1169.1,368.9 L1170.9,370.5 L1172.6,372.1 L1174.4,373.8 L1176.0,375.5 L1177.6,377.2 L1179.2,379.0 L1180.6,380.9 L1182.0,382.7 L1183.4,384.6 L1184.7,386.6 L1185.9,388.5 L1187.1,390.5 L1188.2,392.6 L1189.2,394.7 L1190.2,396.8 L1191.1,398.9 L1192.0,401.1 L1192.8,403.2 L1193.5,405.5 L1194.2,407.7 L1194.8,410.0 L1195.4,412.3 L1196.0,414.6 L1196.5,416.9 L1196.9,419.2 L1197.3,421.6 L1197.7,424.0 L1198.0,426.4 L1198.2,428.8 L1198.5,431.2 L1198.7,433.7 L1198.9,436.1 L1199.0,438.6 L1199.1,441.1 L1199.2,443.5 L1199.2,446.0 L1199.2,448.5 L1199.1,451.0 L1199.1,453.4 L1199.0,455.9 L1198.8,458.4 L1198.6,460.8 L1198.4,463.3 L1198.1,465.7 L1197.8,468.2 L1197.5,470.6 L1197.1,473.0 L1196.6,475.4 L1196.1,477.7 L1195.5,480.1 L1194.9,482.4 L1194.2,484.6 L1193.5,486.9 L1192.7,489.1 L1191.8,491.3 L1190.9,493.5 L1189.9,495.6 L1188.8,497.6 L1187.6,499.7 L1186.4,501.7 L1185.1,503.6 L1183.8,505.5 L1182.3,507.3 L1180.8,509.1 L1179.3,510.9 L1177.6,512.5 L1175.9,514.2 L1174.2,515.8 L1172.3,517.3 L1170.5,518.8 L1168.5,520.2 L1166.5,521.5 L1164.5,522.8 L1162.4,524.1 L1160.2,525.3 L1158.1,526.4 L1155.8,527.5 L1153.6,528.6 L1151.3,529.6 L1149.0,530.5 L1146.7,531.4 L1144.4,532.3 L1142.0,533.1 L1139.6,533.9 L1137.3,534.7 L1134.9,535.4 L1132.5,536.1 L1130.1,536.7 L1127.8,537.4 L1125.4,538.0 L1123.0,538.6 L1120.7,539.1 L1118.3,539.7 L1116.0,540.2 L1113.7,540.7 L1111.3,541.2 L1109.0,541.7 L1106.7,542.1 L1104.5,542.6 L1102.2,543.0 L1099.9,543.5 L1097.7,543.9 L1095.4,544.4 L1093.2,544.8 L1090.9,545.2 L1088.7,545.6 L1086.4,546.0 L1084.2,546.4 L1081.9,546.8 L1079.7,547.2 L1077.4,547.5 L1075.1,547.9 L1072.8,548.2 L1070.6,548.6 L1068.3,548.9 L1065.9,549.2 L1063.6,549.5 L1061.3,549.7 L1058.9,550.0 L1056.5,550.2 L1054.2,550.4 L1051.8,550.6 L1049.4,550.8 L1046.9,551.0 L1044.5,551.1 L1042.1,551.2 L1039.6,551.3 L1037.1,551.3 L1034.7,551.3 L1032.2,551.3 L1029.7,551.3 L1027.2,551.3 L1024.7,551.2 L1022.2,551.1 L1019.7,551.0 L1017.2,550.8 L1014.7,550.7 L1012.3,550.5 L1009.8,550.3 L1007.3,550.1 L1004.9,549.8 L1002.4,549.6 L1000.0,549.3 L997.5,549.0 L995.1,548.7 L992.7,548.4 L990.3,548.0 L987.9,547.7 L985.6,547.3 L983.2,546.9 L980.8,546.5 L978.5,546.1 L976.2,545.7 L973.9,545.2 L971.6,544.7 L969.3,544.3 L967.0,543.8 L964.7,543.2 L962.4,542.7 L960.2,542.1 L957.9,541.5 L955.7,540.9 L953.4,540.3 L951.2,539.6 L949.0,538.9 L946.8,538.1 L944.6,537.4 L942.4,536.5 L940.2,535.7 L938.1,534.8 L935.9,533.8 L933.8,532.8 L931.7,531.8 L929.6,530.7 L927.5,529.5 L925.5,528.3 L923.4,527.0 L921.5,525.7 L919.5,524.3 L917.6,522.9 L915.7,521.4 L913.8,519.9 L912.0,518.3 L910.2,516.6 L908.5,514.9 L906.8,513.1 L905.1,511.3 L903.6,509.4 L902.0,507.5 L900.6,505.5 L899.2,503.5 L897.8,501.5 L896.6,499.4 L895.3,497.2 L894.2,495.0 L893.1,492.8 L892.1,490.6 L891.1,488.3 L890.3,486.0 L889.5,483.7 L888.7,481.3 L888.1,479.0 L887.5,476.6 L887.0,474.2 L886.5,471.8 L886.1,469.4 L885.8,467.0 L885.6,464.6 L885.4,462.2 L885.3,459.8 L885.2,457.4 L885.2,455.0 L885.3,452.6 L885.4,450.2 L885.6,447.9 L885.9,445.5 L886.2,443.2 L886.6,440.8 L887.0,438.5 L887.4,436.2 L888.0,433.9 L888.5,431.6 L889.2,429.4 L889.8,427.1 L890.6,424.9 L891.3,422.7 L892.1,420.5 L893.0,418.3 L893.9,416.1 L894.9,413.9 L895.8,411.8 L896.9,409.7 L898.0,407.6 L899.1,405.5 L900.2,403.4 L901.4,401.3 L902.7,399.2 L904.0,397.2 L905.3,395.2 L906.6,393.2 L908.0,391.2 L909.5,389.3 L911.0,387.3 L912.5,385.4 L914.0,383.5 L915.6,381.7 L917.2,379.8 L918.9,378.0 L920.5,376.2 L922.3,374.5 L924.0,372.8 L925.8,371.1 L927.6,369.4 L929.4,367.8 L931.3,366.3 L933.2,364.7 L935.1,363.3 L937.0,361.8 L939.0,360.4 L940.9,359.0 L942.9,357.7 L945.0,356.4 L947.0,355.2 L949.0,354.0 L951.1,352.9 L953.2,351.8 L955.3,350.8 L957.4,349.8 L959.6,348.8 L961.7,347.9 L963.9,347.0 L966.1,346.2 L968.3,345.4 L970.5,344.7 L972.7,344.0 L975.0,343.3 L977.2,342.7 L979.5,342.1 L981.8,341.5 L984.1,341.0 L986.4,340.5 L988.7,340.1 L991.0,339.6 L993.3,339.2 L995.7,338.8 L998.1,338.5 L1000.4,338.2 L1002.8,337.9 L1005.2,337.6 L1007.6,337.3 L1010.1,337.1 L1012.5,336.8 L1014.9,336.6 L1017.3,336.4 L1019.8,336.3 L1022.2,336.1 L1024.7,336.0 L1027.2,335.8 L1029.6,335.7 L1032.1,335.6 L1034.5,335.5Z" fill="#BDEEFB" stroke="#000" stroke-width="4.30"/>
<g fill="none" stroke="#111" stroke-linecap="round" stroke-linejoin="round"><path id="b5_0" stroke-width="2.56" d="M983.6,398.3 L983.0,397.5 L982.5,396.7 L981.9,395.9 L981.4,395.0 L980.8,394.2 L980.3,393.6 L979.7,393.2 L979.1,393.0 L978.5,393.1 L977.8,393.3 L977.1,393.8 L976.4,394.4 L975.7,395.1 L975.0,395.8 L974.5,396.6 L974.1,397.4 L973.8,398.4 L973.5,399.5 L973.4,400.7 L973.4,402.0 L973.5,403.3 L973.6,404.6 L973.8,405.9 L974.1,407.1 L974.4,408.1 L974.9,409.2 L975.4,410.2 L976.0,411.1 L976.7,412.1 L977.3,413.1 L978.0,414.0 L978.6,415.0 L979.2,416.0 L979.9,416.9 L980.7,417.9 L981.4,418.8 L982.1,419.8 L982.7,420.8 L983.2,421.8 L983.6,422.9 L983.9,424.2 L984.0,425.6 L984.1,427.0 L984.1,428.5 L984.0,429.9 L983.8,431.3 L983.5,432.5 L983.0,433.5 L982.6,434.2 L982.0,434.8 L981.4,435.5 L980.7,436.0 L980.0,436.5 L979.3,436.8 L978.6,437.0 L978.0,437.0 L977.4,436.8 L976.8,436.4 L976.3,435.7 L975.7,435.0 L975.2,434.1 L974.6,433.3 L974.1,432.5 L973.5,431.7 M1010.2,398.3 L1009.6,397.5 L1009.1,396.7 L1008.5,395.9 L1008.0,395.0 L1007.4,394.3 L1006.8,393.6 L1006.2,393.2 L1005.6,393.0 L1004.8,393.0 L1003.9,393.4 L1003.0,393.9 L1002.1,394.6 L1001.2,395.4 L1000.3,396.3 L999.6,397.3 L998.9,398.3 L998.2,399.8 L997.6,401.7 L997.1,403.7 L996.8,405.9 L996.5,408.2 L996.4,410.5 L996.3,412.8 L996.3,415.0 L996.3,417.3 L996.3,419.7 L996.5,422.1 L996.7,424.6 L997.1,426.9 L997.6,429.1 L998.2,431.0 L998.9,432.6 L999.5,433.5 L1000.2,434.3 L1000.9,435.1 L1001.7,435.8 L1002.6,436.3 L1003.4,436.7 L1004.2,437.0 L1004.9,437.0 L1005.6,436.8 L1006.3,436.4 L1006.9,435.7 L1007.6,435.0 L1008.3,434.1 L1008.9,433.3 L1009.6,432.5 L1010.2,431.7 M1023.4,393.9 L1023.4,437.0 M1023.4,393.9 L1032.6,393.0 M1023.4,415.0 L1030.9,415.0 M1023.4,436.6 L1032.6,436.1 M1046.2,437.0 L1046.2,393.0 M1060.8,437.0 L1060.8,393.0 M1074.9,399.6 L1074.9,437.0 M1101.5,398.3 L1100.9,397.5 L1100.3,396.7 L1099.8,395.9 L1099.2,395.0 L1098.6,394.3 L1098.1,393.6 L1097.4,393.2 L1096.8,393.0 L1096.0,393.0 L1095.2,393.4 L1094.3,393.9 L1093.3,394.6 L1092.4,395.4 L1091.6,396.3 L1090.8,397.3 L1090.2,398.3 L1089.4,399.8 L1088.8,401.7 L1088.3,403.7 L1088.0,405.9 L1087.8,408.2 L1087.6,410.5 L1087.5,412.8 L1087.5,415.0 L1087.5,417.3 L1087.6,419.7 L1087.7,422.1 L1088.0,424.6 L1088.3,426.9 L1088.8,429.1 L1089.4,431.0 L1090.2,432.6 L1090.7,433.5 L1091.4,434.3 L1092.2,435.1 L1093.0,435.8 L1093.8,436.3 L1094.6,436.7 L1095.4,437.0 L1096.1,437.0 L1096.8,436.8 L1097.5,436.4 L1098.2,435.7 L1098.8,435.0 L1099.5,434.1 L1100.1,433.3 L1100.8,432.5 L1101.5,431.7"/><path stroke-width="2.95" d="M1046.2,393.0 L1047.1,395.6 L1047.9,398.2 L1048.8,400.9 L1049.6,403.5 L1050.5,406.1 L1051.4,408.8 L1052.2,411.4 L1053.1,414.1 L1054.1,416.9 L1055.0,419.8 L1056.0,422.6 L1056.9,425.5 L1057.9,428.4 L1058.9,431.3 L1059.9,434.2 L1060.8,437.0"/>
<use href="#b5_0" x="1.32"/>
<use href="#b5_0" x="2.64"/>
<use href="#b5_0" x="3.96"/>
</g>
<g fill="none" stroke="#111" stroke-linecap="round" stroke-linejoin="round"><path id="b5_1" stroke-width="2.57" d="M972.7,449.6 L972.7,493.7 M972.7,450.5 L973.9,450.5 L975.2,450.5 L976.5,450.5 L977.7,450.4 L979.0,450.4 L980.1,450.6 L981.2,450.9 L982.1,451.3 L982.8,452.1 L983.5,453.0 L984.1,454.0 L984.7,455.2 L985.1,456.5 L985.4,457.7 L985.6,459.0 L985.6,460.2 L985.6,461.5 L985.3,463.0 L984.9,464.5 L984.4,466.0 L983.7,467.4 L983.0,468.7 L982.2,469.9 L981.3,470.8 L980.5,471.3 L979.6,471.7 L978.7,471.9 L977.6,472.1 L976.6,472.2 L975.5,472.2 L974.5,472.4 L973.4,472.5 M977.7,472.5 L987.1,493.7 M1005.1,449.6 L1005.7,450.1 L1006.4,450.6 L1007.0,451.0 L1007.7,451.5 L1008.3,452.0 L1008.9,452.6 L1009.5,453.2 L1009.9,454.0 L1010.6,455.6 L1011.0,457.5 L1011.3,459.7 L1011.5,462.0 L1011.6,464.5 L1011.7,466.9 L1011.7,469.4 L1011.7,471.6 L1011.7,473.9 L1011.7,476.4 L1011.6,478.8 L1011.5,481.3 L1011.3,483.6 L1011.0,485.8 L1010.6,487.7 L1009.9,489.3 L1009.5,490.1 L1008.9,490.9 L1008.3,491.7 L1007.7,492.4 L1007.0,492.9 L1006.4,493.3 L1005.7,493.6 L1005.1,493.7 L1004.4,493.6 L1003.8,493.3 L1003.1,492.9 L1002.5,492.4 L1001.8,491.7 L1001.2,490.9 L1000.7,490.1 L1000.2,489.3 L999.6,487.7 L999.2,485.8 L998.8,483.6 L998.6,481.3 L998.5,478.8 L998.5,476.4 L998.5,473.9 L998.5,471.6 L998.5,469.4 L998.5,466.9 L998.5,464.5 L998.6,462.0 L998.8,459.7 L999.2,457.5 L999.6,455.6 L1000.2,454.0 L1000.7,453.2 L1001.2,452.6 L1001.8,452.0 L1002.5,451.5 L1003.1,451.0 L1003.8,450.6 L1004.4,450.1 L1005.1,449.6 M1024.3,449.6 L1024.2,453.0 L1024.1,456.4 L1024.0,459.9 L1023.9,463.3 L1023.8,466.7 L1023.8,470.0 L1023.8,473.2 L1024.0,476.1 L1024.1,478.1 L1024.2,480.2 L1024.4,482.1 L1024.6,484.0 L1024.8,485.8 L1025.1,487.5 L1025.5,488.9 L1026.1,490.2 L1026.4,490.8 L1026.8,491.5 L1027.3,492.1 L1027.7,492.6 L1028.2,493.0 L1028.7,493.4 L1029.2,493.6 L1029.6,493.7 L1030.2,493.7 L1030.7,493.4 L1031.3,493.1 L1031.9,492.7 L1032.4,492.1 L1032.9,491.5 L1033.4,490.9 L1033.8,490.2 L1034.4,488.9 L1034.8,487.5 L1035.0,485.8 L1035.2,484.1 L1035.3,482.1 L1035.4,480.2 L1035.5,478.1 L1035.6,476.1 L1035.8,473.2 L1035.8,470.0 L1035.8,466.7 L1035.8,463.3 L1035.8,459.9 L1035.7,456.4 L1035.7,453.0 L1035.6,449.6 M1047.6,450.5 L1063.4,449.6 M1055.5,450.0 L1055.5,493.7 M1075.9,450.5 L1075.9,493.7 M1075.9,450.5 L1084.5,449.6 M1075.9,471.6 L1083.0,471.6 M1075.9,493.3 L1084.5,492.8 M1105.9,454.9 L1105.4,454.2 L1104.9,453.3 L1104.4,452.5 L1103.9,451.6 L1103.3,450.8 L1102.8,450.2 L1102.3,449.8 L1101.7,449.6 L1101.1,449.7 L1100.5,449.9 L1099.8,450.4 L1099.1,451.0 L1098.5,451.7 L1097.9,452.4 L1097.4,453.2 L1097.0,454.0 L1096.6,455.0 L1096.4,456.1 L1096.3,457.4 L1096.3,458.6 L1096.4,460.0 L1096.5,461.3 L1096.7,462.5 L1097.0,463.7 L1097.3,464.8 L1097.7,465.8 L1098.2,466.8 L1098.8,467.8 L1099.4,468.7 L1100.0,469.7 L1100.6,470.7 L1101.2,471.6 L1101.8,472.6 L1102.5,473.6 L1103.1,474.6 L1103.8,475.5 L1104.5,476.5 L1105.1,477.5 L1105.6,478.5 L1105.9,479.6 L1106.2,480.9 L1106.4,482.2 L1106.4,483.7 L1106.4,485.2 L1106.3,486.6 L1106.1,488.0 L1105.8,489.2 L1105.4,490.2 L1105.0,490.9 L1104.5,491.5 L1103.9,492.1 L1103.2,492.7 L1102.5,493.2 L1101.9,493.5 L1101.2,493.7 L1100.7,493.7 L1100.1,493.5 L1099.5,493.1 L1099.0,492.4 L1098.5,491.7 L1098.0,490.8 L1097.5,490.0 L1097.0,489.1 L1096.4,488.4"/><path stroke-width="2.95" d=""/>
<use href="#b5_1" x="1.32"/>
<use href="#b5_1" x="2.65"/>
<use href="#b5_1" x="3.97"/>
</g>
<path d="M418.3,518.1 L421.1,515.9 L424.1,513.9 L427.2,512.1 L430.5,510.5 L433.7,508.9 L437.0,507.4 L440.3,505.9 L443.4,504.2 L446.5,502.5 L449.4,500.6 L452.3,498.6 L455.1,496.7 L458.0,494.8 L460.9,492.9 L463.9,491.1 L466.8,489.3 L469.8,487.6 L472.7,485.9 L475.7,484.2 L478.7,482.6 L481.8,481.1 L484.8,479.6 L487.9,478.1 L491.0,476.7 L494.1,475.4 L497.3,474.1 L500.5,472.8 L503.7,471.6 L506.9,470.5 L510.2,469.4 L513.5,468.3 L516.8,467.3 L520.1,466.3 L523.5,465.4 L526.8,464.5 L530.2,463.7 L533.6,462.9 L537.1,462.2 L540.5,461.4 L544.0,460.8 L547.4,460.1 L550.9,459.5 L554.4,458.9 L557.9,458.4 L561.3,457.9 L564.8,457.4 L568.3,456.9 L571.8,456.5 L575.3,456.0 L578.8,455.6 L582.3,455.3 L585.7,454.9 L589.2,454.6 L592.7,454.3 L596.1,454.1 L599.6,453.8 L603.0,453.6 L606.4,453.5 L609.9,453.3 L613.3,453.2 L616.7,453.1 L620.2,453.0 L623.6,453.0 L627.0,453.0 L630.4,453.0 L633.9,453.1 L637.3,453.2 L640.7,453.4 L644.1,453.6 L647.6,453.8 L651.0,454.0 L654.4,454.3 L657.9,454.7 L661.3,455.1 L664.7,455.5 L668.2,455.9 L671.6,456.4 L675.1,457.0 L678.5,457.6 L681.9,458.2 L685.4,458.8 L688.8,459.5 L692.2,460.3 L695.6,461.0 L699.1,461.9 L702.5,462.7 L705.9,463.6 L709.2,464.6 L712.6,465.5 L715.9,466.6 L719.3,467.6 L722.6,468.7 L725.9,469.9 L729.1,471.1 L732.4,472.3 L735.6,473.6 L738.8,475.0 L742.0,476.4 L745.1,477.8 L748.3,479.3 L751.3,480.8 L754.4,482.4 L757.4,484.1 L760.4,485.8 L763.4,487.5 L766.3,489.4 L769.2,491.2 L772.1,493.2 L774.9,495.2 L777.7,497.2 L780.4,499.3 L783.1,501.5 L785.8,503.7 L788.4,506.0 L791.0,508.3 L793.5,510.7 L796.0,513.1 L798.4,515.7 L800.7,518.2 L803.1,520.8 L805.3,523.5 L807.5,526.2 L809.6,528.9 L811.7,531.7 L813.7,534.6 L815.7,537.5 L817.6,540.4 L819.4,543.4 L821.1,546.4 L822.8,549.4 L824.4,552.5 L825.9,555.6 L827.4,558.8 L828.8,562.0 L830.1,565.2 L831.3,568.4 L832.4,571.7 L833.5,574.9 L834.5,578.3 L835.4,581.6 L836.3,584.9 L837.0,588.3 L837.7,591.7 L838.3,595.1 L838.8,598.6 L839.3,602.0 L839.7,605.4 L839.9,608.9 L840.2,612.4 L840.3,615.9 L840.3,619.4 L840.3,622.9 L840.2,626.3 L840.0,629.8 L839.7,633.3 L839.4,636.8 L839.0,640.3 L838.4,643.7 L837.8,647.2 L837.1,650.6 L836.3,654.0 L835.5,657.3 L834.5,660.7 L833.4,664.0 L832.3,667.3 L831.1,670.5 L829.7,673.7 L828.3,676.8 L826.8,679.9 L825.1,682.9 L823.4,685.9 L821.6,688.8 L819.7,691.6 L817.7,694.4 L815.6,697.1 L813.4,699.7 L811.2,702.3 L808.8,704.8 L806.4,707.2 L803.8,709.6 L801.2,711.9 L798.5,714.1 L795.8,716.2 L793.0,718.3 L790.1,720.3 L787.1,722.2 L784.1,724.0 L781.1,725.8 L778.0,727.5 L774.9,729.2 L771.7,730.7 L768.5,732.3 L765.2,733.7 L762.0,735.1 L758.7,736.5 L755.4,737.8 L752.1,739.0 L748.8,740.2 L745.4,741.3 L742.1,742.4 L738.8,743.4 L735.4,744.4 L732.1,745.4 L728.7,746.3 L725.4,747.1 L722.0,748.0 L718.7,748.7 L715.4,749.5 L712.0,750.2 L708.7,750.8 L705.3,751.4 L702.0,752.0 L698.7,752.5 L695.3,753.0 L692.0,753.5 L688.6,753.9 L685.2,754.3 L681.8,754.6 L678.4,754.9 L675.0,755.2 L671.6,755.5 L668.2,755.7 L664.7,755.8 L661.3,756.0 L657.8,756.1 L654.3,756.2 L650.8,756.3 L647.3,756.3 L643.8,756.4 L640.2,756.4 L636.7,756.4 L633.1,756.4 L629.6,756.4 L626.0,756.3 L622.4,756.3 L618.9,756.3 L615.3,756.3 L611.8,756.2 L608.2,756.2 L604.6,756.2 L601.1,756.2 L597.6,756.1 L594.1,756.1 L590.6,756.1 L587.1,756.1 L583.6,756.2 L580.1,756.2 L576.7,756.2 L573.2,756.2 L569.8,756.3 L566.4,756.3 L563.0,756.3 L559.6,756.3 L556.2,756.3 L552.8,756.3 L549.5,756.3 L546.1,756.3 L542.7,756.2 L539.4,756.1 L536.0,756.0 L532.6,755.8 L529.2,755.6 L525.9,755.4 L522.5,755.1 L519.1,754.8 L515.7,754.5 L512.3,754.0 L508.9,753.6 L505.4,753.0 L502.0,752.5 L498.6,751.8 L495.1,751.1 L491.7,750.3 L488.2,749.5 L484.8,748.6 L481.4,747.6 L478.0,746.6 L474.6,745.5 L471.2,744.3 L467.8,743.1 L464.5,741.8 L461.1,740.5 L457.9,739.0 L454.6,737.6 L451.4,736.0 L448.3,734.4 L445.1,732.7 L442.1,731.0 L439.1,729.2 L436.1,727.3 L433.3,725.4 L430.4,723.4 L427.7,721.4 L425.0,719.3 L422.4,717.1 L419.8,714.9 L417.3,712.6 L414.9,710.3 L412.6,707.9 L410.3,705.4 L408.1,702.9 L406.0,700.3 L404.0,697.6 L402.0,694.9 L400.1,692.1 L398.2,689.3 L396.4,686.4 L394.7,683.4 L393.1,680.4 L391.5,677.4 L390.0,674.2 L388.5,671.0 L387.1,667.8 L385.8,664.5 L384.6,661.2 L383.4,657.8 L382.2,654.4 L381.2,651.0 L380.2,647.5 L379.3,644.0 L378.5,640.4 L377.7,636.9 L377.0,633.3 L376.5,629.8 L375.9,626.2 L375.5,622.6 L375.2,619.0 L375.0,615.5 L374.9,611.9 L374.8,608.4 L374.9,604.9 L375.1,601.4 L375.4,598.0 L375.8,594.6 L376.3,591.2 L376.9,587.9 L377.7,584.6 L378.5,581.4 L379.5,578.2 L380.6,575.1 L381.8,572.0 L383.1,568.9 L384.5,565.9 L386.0,563.0 L387.7,560.1 L389.4,557.3 L391.2,554.5 L393.1,551.7 L395.1,549.0 L397.2,546.4 L399.4,543.8 L401.6,541.2 L403.9,538.7 L406.3,536.2 L408.7,533.7 L411.2,531.3 L413.7,528.9 L416.3,526.6 L418.9,524.2Z" fill="url(#cg)"/>
<path d="M418.3,518.1 L421.1,515.9 L424.1,513.9 L427.2,512.1 L430.5,510.5 L433.7,508.9 L437.0,507.4 L440.3,505.9 L443.4,504.2 L446.5,502.5 L449.4,500.6 L452.3,498.6 L455.1,496.7 L458.0,494.8 L460.9,492.9 L463.9,491.1 L466.8,489.3 L469.8,487.6 L472.7,485.9 L475.7,484.2 L478.7,482.6 L481.8,481.1 L484.8,479.6 L487.9,478.1 L491.0,476.7 L494.1,475.4 L497.3,474.1 L500.5,472.8 L503.7,471.6 L506.9,470.5 L510.2,469.4 L513.5,468.3 L516.8,467.3 L520.1,466.3 L523.5,465.4 L526.8,464.5 L530.2,463.7 L533.6,462.9 L537.1,462.2 L540.5,461.4 L544.0,460.8 L547.4,460.1 L550.9,459.5 L554.4,458.9 L557.9,458.4 L561.3,457.9 L564.8,457.4 L568.3,456.9 L571.8,456.5 L575.3,456.0 L578.8,455.6 L582.3,455.3 L585.7,454.9 L589.2,454.6 L592.7,454.3 L596.1,454.1 L599.6,453.8 L603.0,453.6 L606.4,453.5 L609.9,453.3 L613.3,453.2 L616.7,453.1 L620.2,453.0 L623.6,453.0 L627.0,453.0 L630.4,453.0 L633.9,453.1 L637.3,453.2 L640.7,453.4 L644.1,453.6 L647.6,453.8 L651.0,454.0 L654.4,454.3 L657.9,454.7 L661.3,455.1 L664.7,455.5 L668.2,455.9 L671.6,456.4 L675.1,457.0 L678.5,457.6 L681.9,458.2 L685.4,458.8 L688.8,459.5 L692.2,460.3 L695.6,461.0 L699.1,461.9 L702.5,462.7 L705.9,463.6 L709.2,464.6 L712.6,465.5 L715.9,466.6 L719.3,467.6 L722.6,468.7 L725.9,469.9 L729.1,471.1 L732.4,472.3 L735.6,473.6 L738.8,475.0 L742.0,476.4 L745.1,477.8 L748.3,479.3 L751.3,480.8 L754.4,482.4 L757.4,484.1 L760.4,485.8 L763.4,487.5 L766.3,489.4 L769.2,491.2 L772.1,493.2 L774.9,495.2 L777.7,497.2 L780.4,499.3 L783.1,501.5 L785.8,503.7 L788.4,506.0 L791.0,508.3 L793.5,510.7 L796.0,513.1 L798.4,515.7 L800.7,518.2 L803.1,520.8 L805.3,523.5 L807.5,526.2 L809.6,528.9 L811.7,531.7 L813.7,534.6 L815.7,537.5 L817.6,540.4 L819.4,543.4 L821.1,546.4 L822.8,549.4 L824.4,552.5 L825.9,555.6 L827.4,558.8 L828.8,562.0 L830.1,565.2 L831.3,568.4 L832.4,571.7 L833.5,574.9 L834.5,578.3 L835.4,581.6 L836.3,584.9 L837.0,588.3 L837.7,591.7 L838.3,595.1 L838.8,598.6 L839.3,602.0 L839.7,605.4 L839.9,608.9 L840.2,612.4 L840.3,615.9 L840.3,619.4 L840.3,622.9 L840.2,626.3 L840.0,629.8 L839.7,633.3 L839.4,636.8 L839.0,640.3 L838.4,643.7 L837.8,647.2 L837.1,650.6 L836.3,654.0 L835.5,657.3 L834.5,660.7 L833.4,664.0 L832.3,667.3 L831.1,670.5 L829.7,673.7 L828.3,676.8 L826.8,679.9 L825.1,682.9 L823.4,685.9 L821.6,688.8 L819.7,691.6 L817.7,694.4 L815.6,697.1 L813.4,699.7 L811.2,702.3 L808.8,704.8 L806.4,707.2 L803.8,709.6 L801.2,711.9 L798.5,714.1 L795.8,716.2 L793.0,718.3 L790.1,720.3 L787.1,722.2 L784.1,724.0 L781.1,725.8 L778.0,727.5 L774.9,729.2 L771.7,730.7 L768.5,732.3 L765.2,733.7 L762.0,735.1 L758.7,736.5 L755.4,737.8 L752.1,739.0 L748.8,740.2 L745.4,741.3 L742.1,742.4 L738.8,743.4 L735.4,744.4 L732.1,745.4 L728.7,746.3 L725.4,747.1 L722.0,748.0 L718.7,748.7 L715.4,749.5 L712.0,750.2 L708.7,750.8 L705.3,751.4 L702.0,752.0 L698.7,752.5 L695.3,753.0 L692.0,753.5 L688.6,753.9 L685.2,754.3 L681.8,754.6 L678.4,754.9 L675.0,755.2 L671.6,755.5 L668.2,755.7 L664.7,755.8 L661.3,756.0 L657.8,756.1 L654.3,756.2 L650.8,756.3 L647.3,756.3 L643.8,756.4 L640.2,756.4 L636.7,756.4 L633.1,756.4 L629.6,756.4 L626.0,756.3 L622.4,756.3 L618.9,756.3 L615.3,756.3 L611.8,756.2 L608.2,756.2 L604.6,756.2 L601.1,756.2 L597.6,756.1 L594.1,756.1 L590.6,756.1 L587.1,756.1 L583.6,756.2 L580.1,756.2 L576.7,756.2 L573.2,756.2 L569.8,756.3 L566.4,756.3 L563.0,756.3 L559.6,756.3 L556.2,756.3 L552.8,756.3 L549.5,756.3 L546.1,756.3 L542.7,756.2 L539.4,756.1 L536.0,756.0 L532.6,755.8 L529.2,755.6 L525.9,755.4 L522.5,755.1 L519.1,754.8 L515.7,754.5 L512.3,754.0 L508.9,753.6 L505.4,753.0 L502.0,752.5 L498.6,751.8 L495.1,751.1 L491.7,750.3 L488.2,749.5 L484.8,748.6 L481.4,747.6 L478.0,746.6 L474.6,745.5 L471.2,744.3 L467.8,743.1 L464.5,741.8 L461.1,740.5 L457.9,739.0 L454.6,737.6 L451.4,736.0 L448.3,734.4 L445.1,732.7 L442.1,731.0 L439.1,729.2 L436.1,727.3 L433.3,725.4 L430.4,723.4 L427.7,721.4 L425.0,719.3 L422.4,717.1 L419.8,714.9 L417.3,712.6 L414.9,710.3 L412.6,707.9 L410.3,705.4 L408.1,702.9 L406.0,700.3 L404.0,697.6 L402.0,694.9 L400.1,692.1 L398.2,689.3 L396.4,686.4 L394.7,683.4 L393.1,680.4 L391.5,677.4 L390.0,674.2 L388.5,671.0 L387.1,667.8 L385.8,664.5 L384.6,661.2 L383.4,657.8 L382.2,654.4 L381.2,651.0 L380.2,647.5 L379.3,644.0 L378.5,640.4 L377.7,636.9 L377.0,633.3 L376.5,629.8 L375.9,626.2 L375.5,622.6 L375.2,619.0 L375.0,615.5 L374.9,611.9 L374.8,608.4 L374.9,604.9 L375.1,601.4 L375.4,598.0 L375.8,594.6 L376.3,591.2 L376.9,587.9 L377.7,584.6 L378.5,581.4 L379.5,578.2 L380.6,575.1 L381.8,572.0 L383.1,568.9 L384.5,565.9 L386.0,563.0 L387.7,560.1 L389.4,557.3 L391.2,554.5 L393.1,551.7 L395.1,549.0 L397.2,546.4 L399.4,543.8 L401.6,541.2 L403.9,538.7 L406.3,536.2 L408.7,533.7 L411.2,531.3 L413.7,528.9 L416.3,526.6 L418.9,524.2" fill="none" stroke="#000" stroke-width="8.00" stroke-linecap="round" stroke-linejoin="round"/>
<g fill="none" stroke="#111" stroke-linecap="round" stroke-linejoin="round"><path id="b6_0" stroke-width="4.15" d="M527.5,507.1 L527.5,585.9 M527.5,508.7 L529.5,508.7 L531.5,508.5 L533.6,508.4 L535.6,508.2 L537.6,508.2 L539.5,508.3 L541.2,508.7 L542.7,509.4 L544.0,510.6 L545.2,512.1 L546.2,513.9 L547.1,516.0 L547.9,518.1 L548.4,520.3 L548.8,522.4 L549.0,524.4 L548.9,526.6 L548.6,529.0 L548.0,531.5 L547.3,533.9 L546.4,536.3 L545.3,538.4 L544.0,540.3 L542.7,541.8 L541.3,542.7 L539.7,543.4 L538.0,543.8 L536.2,544.1 L534.3,544.2 L532.4,544.4 L530.6,544.6 L528.8,544.9 M528.8,544.9 L531.1,545.4 L533.4,545.8 L535.9,546.1 L538.3,546.5 L540.6,547.0 L542.8,547.6 L544.8,548.5 L546.4,549.7 L547.9,551.2 L549.2,553.1 L550.3,555.3 L551.2,557.6 L551.9,560.0 L552.4,562.4 L552.7,564.8 L552.8,567.0 L552.5,569.2 L552.1,571.5 L551.4,573.9 L550.5,576.2 L549.4,578.4 L548.1,580.4 L546.7,582.2 L545.2,583.6 L543.5,584.5 L541.5,585.1 L539.3,585.5 L537.0,585.6 L534.6,585.7 L532.2,585.7 L529.8,585.7 L527.5,585.9 M577.8,518.9 L577.8,585.9 M605.3,507.1 L605.3,585.9 M612.9,542.6 L630.5,585.9 M656.8,508.7 L656.8,585.9 M656.8,508.7 L675.0,507.1 M656.8,546.5 L671.8,546.5 M656.8,585.1 L675.0,584.3"/><path stroke-width="4.77" d="M629.3,508.7 L606.6,550.4"/>
<use href="#b6_0" x="2.07"/>
<use href="#b6_0" x="4.15"/>
<use href="#b6_0" x="6.22"/>
</g>
<g fill="none" stroke="#111" stroke-linecap="round" stroke-linejoin="round"><path id="b6_1" stroke-width="4.48" d="M452.2,604.3 L480.0,602.6 M466.1,603.5 L466.1,687.8 M511.7,602.6 L512.8,603.6 L513.9,604.6 L515.1,605.4 L516.3,606.3 L517.4,607.3 L518.5,608.4 L519.4,609.7 L520.2,611.2 L521.3,614.2 L522.1,617.9 L522.7,622.1 L523.0,626.6 L523.2,631.3 L523.3,636.1 L523.3,640.8 L523.3,645.2 L523.3,649.6 L523.3,654.3 L523.2,659.1 L523.0,663.8 L522.7,668.3 L522.1,672.5 L521.3,676.2 L520.2,679.2 L519.4,680.8 L518.5,682.4 L517.4,683.8 L516.3,685.1 L515.1,686.2 L513.9,687.0 L512.8,687.6 L511.7,687.8 L510.6,687.6 L509.4,687.0 L508.3,686.2 L507.1,685.1 L506.0,683.8 L504.9,682.4 L504.0,680.8 L503.1,679.2 L502.0,676.2 L501.2,672.5 L500.7,668.3 L500.3,663.8 L500.2,659.1 L500.1,654.3 L500.1,649.6 L500.1,645.2 L500.1,640.8 L500.1,636.1 L500.2,631.3 L500.3,626.6 L500.7,622.1 L501.2,617.9 L502.0,614.2 L503.1,611.2 L504.0,609.7 L504.9,608.4 L506.0,607.3 L507.1,606.3 L508.3,605.4 L509.4,604.6 L510.6,603.6 L511.7,602.6 M545.4,602.6 L545.3,609.1 L545.2,615.8 L545.0,622.5 L544.8,629.2 L544.6,635.7 L544.6,642.1 L544.7,648.1 L544.9,653.7 L545.1,657.7 L545.4,661.6 L545.6,665.4 L546.0,669.1 L546.4,672.6 L547.0,675.7 L547.7,678.5 L548.6,681.0 L549.2,682.2 L549.9,683.4 L550.7,684.6 L551.5,685.6 L552.4,686.5 L553.2,687.1 L554.1,687.6 L554.9,687.8 L555.8,687.6 L556.8,687.2 L557.8,686.6 L558.8,685.7 L559.8,684.7 L560.7,683.5 L561.6,682.2 L562.3,681.0 L563.2,678.6 L563.9,675.7 L564.4,672.6 L564.7,669.1 L564.9,665.4 L565.1,661.6 L565.3,657.7 L565.4,653.7 L565.7,648.1 L565.8,642.1 L565.8,635.7 L565.8,629.2 L565.7,622.5 L565.6,615.8 L565.5,609.1 L565.4,602.6 M589.1,602.6 L589.1,687.8 M589.1,604.3 L591.2,604.5 L593.4,604.4 L595.7,604.4 L597.9,604.3 L600.1,604.4 L602.1,604.6 L603.9,605.2 L605.5,606.0 L606.9,607.4 L608.2,609.2 L609.3,611.2 L610.2,613.5 L610.9,615.9 L611.4,618.3 L611.7,620.8 L611.8,623.1 L611.7,625.7 L611.3,628.5 L610.6,631.4 L609.7,634.3 L608.5,637.1 L607.2,639.6 L605.8,641.8 L604.3,643.5 L602.8,644.5 L601.3,645.2 L599.6,645.6 L597.7,645.9 L595.9,646.1 L594.0,646.3 L592.1,646.6 L590.4,646.9 M597.9,646.9 L614.4,687.8 M635.2,615.4 L635.2,687.8 M658.6,687.8 L658.6,602.6 M682.8,687.8 L682.8,602.6 M731.3,611.2 L730.1,610.0 L728.9,608.6 L727.8,607.2 L726.6,605.8 L725.5,604.5 L724.3,603.5 L723.1,602.9 L721.9,602.6 L720.4,603.0 L718.9,603.8 L717.2,605.0 L715.6,606.6 L714.1,608.4 L712.6,610.4 L711.3,612.5 L710.1,614.6 L708.8,617.7 L707.8,621.4 L707.0,625.3 L706.4,629.6 L705.9,634.0 L705.6,638.4 L705.5,642.7 L705.5,646.9 L705.5,651.1 L705.6,655.5 L705.9,660.1 L706.3,664.5 L706.9,668.8 L707.8,672.8 L708.8,676.3 L710.1,679.2 L711.2,680.9 L712.4,682.5 L713.7,683.9 L715.1,685.2 L716.5,686.2 L717.9,687.1 L719.3,687.6 L720.7,687.8 L722.1,687.6 L723.5,687.0 L725.0,686.2 L726.5,685.1 L727.9,683.8 L729.2,682.3 L730.3,680.8 L731.3,679.2 L732.1,677.0 L732.6,674.3 L732.8,671.4 L732.8,668.2 L732.6,665.0 L732.5,661.7 L732.4,658.5 L732.4,655.4 M724.2,653.7 L734.8,653.7"/><path stroke-width="5.15" d="M658.6,602.6 L660.0,607.7 L661.4,612.8 L662.9,617.9 L664.3,623.0 L665.7,628.1 L667.2,633.2 L668.6,638.3 L670.1,643.5 L671.6,648.9 L673.2,654.4 L674.8,660.0 L676.4,665.5 L678.0,671.1 L679.6,676.7 L681.2,682.2 L682.8,687.8"/>
<use href="#b6_1" x="2.24"/>
<use href="#b6_1" x="4.48"/>
<use href="#b6_1" x="6.72"/>
</g>
<path d="M56.0,662.1 L58.3,661.1 L60.5,660.2 L62.8,659.3 L65.1,658.6 L67.4,657.8 L69.7,657.2 L72.1,656.5 L74.4,656.0 L76.7,655.4 L79.1,654.9 L81.4,654.4 L83.8,654.0 L86.1,653.5 L88.4,653.1 L90.7,652.7 L93.0,652.2 L95.3,651.8 L97.6,651.4 L99.9,650.9 L102.1,650.4 L104.3,650.0 L106.6,649.4 L108.8,648.9 L111.0,648.4 L113.2,647.8 L115.3,647.2 L117.5,646.7 L119.7,646.1 L122.0,645.6 L124.2,645.1 L126.4,644.7 L128.7,644.3 L131.0,643.9 L133.2,643.6 L135.5,643.3 L137.9,643.0 L140.2,642.8 L142.5,642.6 L144.9,642.4 L147.3,642.3 L149.7,642.2 L152.1,642.1 L154.5,642.1 L156.9,642.1 L159.3,642.1 L161.7,642.2 L164.2,642.3 L166.6,642.4 L169.0,642.5 L171.5,642.7 L173.9,642.9 L176.3,643.2 L178.7,643.4 L181.2,643.7 L183.6,644.0 L186.0,644.4 L188.3,644.7 L190.7,645.1 L193.0,645.5 L195.4,646.0 L197.7,646.4 L200.0,646.9 L202.3,647.4 L204.6,648.0 L206.8,648.6 L209.0,649.2 L211.2,649.8 L213.4,650.5 L215.6,651.2 L217.7,652.0 L219.8,652.8 L221.9,653.6 L224.0,654.5 L226.1,655.4 L228.1,656.4 L230.1,657.4 L232.1,658.5 L234.1,659.6 L236.0,660.7 L238.0,662.0 L239.9,663.2 L241.8,664.5 L243.6,665.9 L245.5,667.3 L247.3,668.8 L249.1,670.3 L250.9,671.9 L252.6,673.5 L254.3,675.1 L256.0,676.8 L257.7,678.6 L259.4,680.4 L261.0,682.2 L262.6,684.1 L264.1,686.0 L265.6,687.9 L267.1,689.8 L268.6,691.8 L270.0,693.9 L271.4,695.9 L272.7,698.0 L274.0,700.0 L275.3,702.1 L276.5,704.2 L277.7,706.4 L278.8,708.5 L279.9,710.6 L280.9,712.8 L281.9,714.9 L282.9,717.1 L283.8,719.3 L284.7,721.4 L285.5,723.6 L286.3,725.8 L287.0,728.0 L287.7,730.1 L288.4,732.3 L289.0,734.5 L289.5,736.7 L290.0,738.9 L290.5,741.1 L291.0,743.3 L291.4,745.5 L291.7,747.7 L292.0,750.0 L292.3,752.2 L292.5,754.5 L292.7,756.7 L292.9,759.0 L293.0,761.3 L293.1,763.6 L293.1,765.9 L293.1,768.2 L293.1,770.5 L293.0,772.9 L292.9,775.2 L292.8,777.6 L292.6,780.0 L292.4,782.4 L292.1,784.8 L291.8,787.2 L291.4,789.6 L291.0,791.9 L290.6,794.3 L290.1,796.7 L289.6,799.1 L289.0,801.5 L288.3,803.8 L287.7,806.2 L286.9,808.5 L286.1,810.8 L285.3,813.0 L284.4,815.3 L283.5,817.5 L282.5,819.7 L281.4,821.8 L280.3,823.9 L279.1,825.9 L277.9,828.0 L276.6,829.9 L275.3,831.8 L273.9,833.7 L272.5,835.5 L271.0,837.3 L269.4,839.0 L267.8,840.6 L266.2,842.2 L264.5,843.8 L262.7,845.3 L261.0,846.7 L259.1,848.1 L257.2,849.5 L255.3,850.7 L253.4,852.0 L251.4,853.2 L249.4,854.3 L247.3,855.4 L245.2,856.5 L243.1,857.5 L241.0,858.5 L238.8,859.4 L236.7,860.3 L234.4,861.2 L232.2,862.0 L230.0,862.8 L227.7,863.6 L225.5,864.3 L223.2,865.0 L220.9,865.7 L218.6,866.4 L216.3,867.0 L214.0,867.6 L211.7,868.2 L209.4,868.8 L207.1,869.3 L204.7,869.8 L202.4,870.3 L200.1,870.8 L197.8,871.3 L195.4,871.7 L193.1,872.1 L190.8,872.5 L188.4,872.9 L186.1,873.2 L183.7,873.5 L181.4,873.8 L179.1,874.1 L176.7,874.3 L174.4,874.5 L172.1,874.7 L169.7,874.9 L167.4,875.0 L165.0,875.1 L162.7,875.2 L160.4,875.3 L158.0,875.3 L155.7,875.4 L153.4,875.4 L151.0,875.3 L148.7,875.3 L146.4,875.2 L144.0,875.1 L141.7,875.0 L139.4,874.9 L137.0,874.8 L134.7,874.6 L132.4,874.5 L130.1,874.3 L127.8,874.1 L125.4,873.9 L123.1,873.7 L120.8,873.4 L118.5,873.2 L116.2,872.9 L113.9,872.7 L111.6,872.4 L109.3,872.1 L107.0,871.8 L104.7,871.5 L102.4,871.1 L100.1,870.8 L97.8,870.4 L95.5,870.1 L93.2,869.7 L90.9,869.2 L88.6,868.8 L86.3,868.3 L84.0,867.8 L81.7,867.3 L79.4,866.7 L77.2,866.1 L74.9,865.5 L72.6,864.9 L70.4,864.2 L68.1,863.4 L65.9,862.6 L63.6,861.8 L61.4,860.9 L59.2,860.0 L57.0,859.0 L54.9,858.0 L52.7,856.9 L50.6,855.8 L48.5,854.6 L46.4,853.4 L44.4,852.1 L42.4,850.7 L40.4,849.3 L38.5,847.9 L36.6,846.4 L34.7,844.9 L32.9,843.3 L31.2,841.6 L29.5,840.0 L27.8,838.2 L26.2,836.5 L24.7,834.7 L23.2,832.8 L21.7,830.9 L20.4,829.0 L19.0,827.1 L17.8,825.1 L16.6,823.1 L15.4,821.0 L14.3,819.0 L13.3,816.9 L12.4,814.8 L11.5,812.7 L10.6,810.5 L9.8,808.4 L9.1,806.2 L8.4,804.0 L7.8,801.8 L7.2,799.6 L6.7,797.4 L6.2,795.1 L5.7,792.9 L5.3,790.6 L5.0,788.3 L4.7,786.0 L4.4,783.7 L4.1,781.4 L3.9,779.1 L3.7,776.7 L3.6,774.4 L3.5,772.0 L3.4,769.7 L3.3,767.3 L3.3,764.9 L3.3,762.5 L3.3,760.1 L3.4,757.7 L3.5,755.3 L3.6,752.9 L3.7,750.5 L3.9,748.0 L4.1,745.6 L4.3,743.2 L4.6,740.8 L4.9,738.4 L5.2,736.0 L5.6,733.6 L6.0,731.2 L6.5,728.8 L7.0,726.5 L7.5,724.1 L8.2,721.8 L8.8,719.6 L9.5,717.3 L10.3,715.1 L11.1,712.9 L12.0,710.8 L13.0,708.6 L14.0,706.6 L15.0,704.5 L16.2,702.6 L17.4,700.6 L18.6,698.7 L19.9,696.9 L21.3,695.1 L22.7,693.3 L24.2,691.6 L25.8,690.0 L27.4,688.4 L29.1,686.8 L30.8,685.3 L32.6,683.9 L34.4,682.5 L36.3,681.1 L38.2,679.8 L40.1,678.5 L42.1,677.3 L44.1,676.0 L46.2,674.9 L48.3,673.7 L50.4,672.6 L52.5,671.5 L54.6,670.5 L56.8,669.5 L58.9,668.4 L61.1,667.5 L63.3,666.5 L65.5,665.5 L67.7,664.6 L69.9,663.7 L72.1,662.8Z" fill="#FEC4FA"/>
<path d="M56.0,662.1 L58.3,661.1 L60.5,660.2 L62.8,659.3 L65.1,658.6 L67.4,657.8 L69.7,657.2 L72.1,656.5 L74.4,656.0 L76.7,655.4 L79.1,654.9 L81.4,654.4 L83.8,654.0 L86.1,653.5 L88.4,653.1 L90.7,652.7 L93.0,652.2 L95.3,651.8 L97.6,651.4 L99.9,650.9 L102.1,650.4 L104.3,650.0 L106.6,649.4 L108.8,648.9 L111.0,648.4 L113.2,647.8 L115.3,647.2 L117.5,646.7 L119.7,646.1 L122.0,645.6 L124.2,645.1 L126.4,644.7 L128.7,644.3 L131.0,643.9 L133.2,643.6 L135.5,643.3 L137.9,643.0 L140.2,642.8 L142.5,642.6 L144.9,642.4 L147.3,642.3 L149.7,642.2 L152.1,642.1 L154.5,642.1 L156.9,642.1 L159.3,642.1 L161.7,642.2 L164.2,642.3 L166.6,642.4 L169.0,642.5 L171.5,642.7 L173.9,642.9 L176.3,643.2 L178.7,643.4 L181.2,643.7 L183.6,644.0 L186.0,644.4 L188.3,644.7 L190.7,645.1 L193.0,645.5 L195.4,646.0 L197.7,646.4 L200.0,646.9 L202.3,647.4 L204.6,648.0 L206.8,648.6 L209.0,649.2 L211.2,649.8 L213.4,650.5 L215.6,651.2 L217.7,652.0 L219.8,652.8 L221.9,653.6 L224.0,654.5 L226.1,655.4 L228.1,656.4 L230.1,657.4 L232.1,658.5 L234.1,659.6 L236.0,660.7 L238.0,662.0 L239.9,663.2 L241.8,664.5 L243.6,665.9 L245.5,667.3 L247.3,668.8 L249.1,670.3 L250.9,671.9 L252.6,673.5 L254.3,675.1 L256.0,676.8 L257.7,678.6 L259.4,680.4 L261.0,682.2 L262.6,684.1 L264.1,686.0 L265.6,687.9 L267.1,689.8 L268.6,691.8 L270.0,693.9 L271.4,695.9 L272.7,698.0 L274.0,700.0 L275.3,702.1 L276.5,704.2 L277.7,706.4 L278.8,708.5 L279.9,710.6 L280.9,712.8 L281.9,714.9 L282.9,717.1 L283.8,719.3 L284.7,721.4 L285.5,723.6 L286.3,725.8 L287.0,728.0 L287.7,730.1 L288.4,732.3 L289.0,734.5 L289.5,736.7 L290.0,738.9 L290.5,741.1 L291.0,743.3 L291.4,745.5 L291.7,747.7 L292.0,750.0 L292.3,752.2 L292.5,754.5 L292.7,756.7 L292.9,759.0 L293.0,761.3 L293.1,763.6 L293.1,765.9 L293.1,768.2 L293.1,770.5 L293.0,772.9 L292.9,775.2 L292.8,777.6 L292.6,780.0 L292.4,782.4 L292.1,784.8 L291.8,787.2 L291.4,789.6 L291.0,791.9 L290.6,794.3 L290.1,796.7 L289.6,799.1 L289.0,801.5 L288.3,803.8 L287.7,806.2 L286.9,808.5 L286.1,810.8 L285.3,813.0 L284.4,815.3 L283.5,817.5 L282.5,819.7 L281.4,821.8 L280.3,823.9 L279.1,825.9 L277.9,828.0 L276.6,829.9 L275.3,831.8 L273.9,833.7 L272.5,835.5 L271.0,837.3 L269.4,839.0 L267.8,840.6 L266.2,842.2 L264.5,843.8 L262.7,845.3 L261.0,846.7 L259.1,848.1 L257.2,849.5 L255.3,850.7 L253.4,852.0 L251.4,853.2 L249.4,854.3 L247.3,855.4 L245.2,856.5 L243.1,857.5 L241.0,858.5 L238.8,859.4 L236.7,860.3 L234.4,861.2 L232.2,862.0 L230.0,862.8 L227.7,863.6 L225.5,864.3 L223.2,865.0 L220.9,865.7 L218.6,866.4 L216.3,867.0 L214.0,867.6 L211.7,868.2 L209.4,868.8 L207.1,869.3 L204.7,869.8 L202.4,870.3 L200.1,870.8 L197.8,871.3 L195.4,871.7 L193.1,872.1 L190.8,872.5 L188.4,872.9 L186.1,873.2 L183.7,873.5 L181.4,873.8 L179.1,874.1 L176.7,874.3 L174.4,874.5 L172.1,874.7 L169.7,874.9 L167.4,875.0 L165.0,875.1 L162.7,875.2 L160.4,875.3 L158.0,875.3 L155.7,875.4 L153.4,875.4 L151.0,875.3 L148.7,875.3 L146.4,875.2 L144.0,875.1 L141.7,875.0 L139.4,874.9 L137.0,874.8 L134.7,874.6 L132.4,874.5 L130.1,874.3 L127.8,874.1 L125.4,873.9 L123.1,873.7 L120.8,873.4 L118.5,873.2 L116.2,872.9 L113.9,872.7 L111.6,872.4 L109.3,872.1 L107.0,871.8 L104.7,871.5 L102.4,871.1 L100.1,870.8 L97.8,870.4 L95.5,870.1 L93.2,869.7 L90.9,869.2 L88.6,868.8 L86.3,868.3 L84.0,867.8 L81.7,867.3 L79.4,866.7 L77.2,866.1 L74.9,865.5 L72.6,864.9 L70.4,864.2 L68.1,863.4 L65.9,862.6 L63.6,861.8 L61.4,860.9 L59.2,860.0 L57.0,859.0 L54.9,858.0 L52.7,856.9 L50.6,855.8 L48.5,854.6 L46.4,853.4 L44.4,852.1 L42.4,850.7 L40.4,849.3 L38.5,847.9 L36.6,846.4 L34.7,844.9 L32.9,843.3 L31.2,841.6 L29.5,840.0 L27.8,838.2 L26.2,836.5 L24.7,834.7 L23.2,832.8 L21.7,830.9 L20.4,829.0 L19.0,827.1 L17.8,825.1 L16.6,823.1 L15.4,821.0 L14.3,819.0 L13.3,816.9 L12.4,814.8 L11.5,812.7 L10.6,810.5 L9.8,808.4 L9.1,806.2 L8.4,804.0 L7.8,801.8 L7.2,799.6 L6.7,797.4 L6.2,795.1 L5.7,792.9 L5.3,790.6 L5.0,788.3 L4.7,786.0 L4.4,783.7 L4.1,781.4 L3.9,779.1 L3.7,776.7 L3.6,774.4 L3.5,772.0 L3.4,769.7 L3.3,767.3 L3.3,764.9 L3.3,762.5 L3.3,760.1 L3.4,757.7 L3.5,755.3 L3.6,752.9 L3.7,750.5 L3.9,748.0 L4.1,745.6 L4.3,743.2 L4.6,740.8 L4.9,738.4 L5.2,736.0 L5.6,733.6 L6.0,731.2 L6.5,728.8 L7.0,726.5 L7.5,724.1 L8.2,721.8 L8.8,719.6 L9.5,717.3 L10.3,715.1 L11.1,712.9 L12.0,710.8 L13.0,708.6 L14.0,706.6 L15.0,704.5 L16.2,702.6 L17.4,700.6 L18.6,698.7 L19.9,696.9 L21.3,695.1 L22.7,693.3 L24.2,691.6 L25.8,690.0 L27.4,688.4 L29.1,686.8 L30.8,685.3 L32.6,683.9 L34.4,682.5 L36.3,681.1 L38.2,679.8 L40.1,678.5 L42.1,677.3 L44.1,676.0 L46.2,674.9 L48.3,673.7 L50.4,672.6 L52.5,671.5 L54.6,670.5 L56.8,669.5 L58.9,668.4 L61.1,667.5 L63.3,666.5 L65.5,665.5 L67.7,664.6 L69.9,663.7 L72.1,662.8" fill="none" stroke="#000" stroke-width="4.30" stroke-linecap="round" stroke-linejoin="round"/>
<g fill="none" stroke="#111" stroke-linecap="round" stroke-linejoin="round"><path id="b7_0" stroke-width="2.48" d="M117.1,711.3 L116.6,710.6 L116.1,709.8 L115.6,709.0 L115.1,708.2 L114.6,707.5 L114.0,706.8 L113.5,706.4 L112.9,706.2 L112.4,706.3 L111.7,706.6 L111.1,707.0 L110.4,707.6 L109.7,708.3 L109.2,709.0 L108.7,709.7 L108.3,710.5 L107.9,711.4 L107.7,712.5 L107.6,713.7 L107.6,715.0 L107.7,716.2 L107.8,717.5 L108.0,718.7 L108.3,719.8 L108.6,720.9 L109.0,721.9 L109.5,722.8 L110.1,723.8 L110.7,724.7 L111.3,725.6 L111.9,726.6 L112.4,727.5 L113.0,728.4 L113.7,729.4 L114.4,730.3 L115.1,731.2 L115.7,732.2 L116.3,733.1 L116.8,734.1 L117.1,735.2 L117.4,736.4 L117.5,737.7 L117.6,739.1 L117.6,740.5 L117.5,741.9 L117.3,743.2 L117.0,744.4 L116.6,745.4 L116.2,746.0 L115.7,746.7 L115.1,747.3 L114.4,747.8 L113.8,748.2 L113.1,748.6 L112.5,748.7 L111.9,748.8 L111.4,748.6 L110.8,748.1 L110.3,747.5 L109.8,746.8 L109.3,746.0 L108.8,745.1 L108.3,744.4 L107.8,743.7 M129.9,707.1 L129.9,748.8 M129.9,707.1 L138.4,706.2 M129.9,727.5 L136.9,727.5 M129.9,748.3 L138.4,747.9 M150.7,706.2 L150.7,747.9 M150.7,747.9 L159.2,747.5 M171.5,707.1 L171.5,748.8 M171.5,707.1 L179.9,706.2 M171.5,728.4 L178.4,728.4"/><path stroke-width="2.85" d=""/>
<use href="#b7_0" x="1.28"/>
<use href="#b7_0" x="2.55"/>
<use href="#b7_0" x="3.83"/>
</g>
<g fill="none" stroke="#111" stroke-linecap="round" stroke-linejoin="round"><path id="b7_1" stroke-width="2.56" d="M52.9,768.3 L52.4,767.5 L51.9,766.7 L51.4,765.8 L50.8,765.0 L50.3,764.2 L49.8,763.6 L49.3,763.2 L48.7,763.0 L48.1,763.1 L47.5,763.3 L46.8,763.8 L46.1,764.4 L45.5,765.1 L44.9,765.8 L44.4,766.6 L44.0,767.4 L43.7,768.4 L43.5,769.5 L43.4,770.7 L43.4,772.0 L43.4,773.3 L43.6,774.6 L43.8,775.9 L44.0,777.1 L44.3,778.1 L44.8,779.2 L45.3,780.2 L45.8,781.1 L46.4,782.1 L47.0,783.1 L47.6,784.0 L48.2,785.0 L48.8,786.0 L49.5,786.9 L50.1,787.9 L50.8,788.9 L51.5,789.8 L52.1,790.8 L52.5,791.8 L52.9,792.9 L53.1,794.2 L53.3,795.6 L53.4,797.0 L53.4,798.5 L53.3,799.9 L53.1,801.3 L52.8,802.5 L52.4,803.5 L52.0,804.2 L51.4,804.8 L50.8,805.4 L50.2,806.0 L49.5,806.5 L48.9,806.8 L48.3,807.0 L47.7,807.0 L47.1,806.8 L46.6,806.4 L46.0,805.7 L45.5,805.0 L45.0,804.1 L44.5,803.3 L44.0,802.5 L43.5,801.7 M65.9,763.0 L65.8,766.3 L65.7,769.8 L65.6,773.3 L65.5,776.7 L65.5,780.1 L65.4,783.4 L65.5,786.5 L65.6,789.4 L65.7,791.5 L65.9,793.5 L66.0,795.5 L66.2,797.4 L66.5,799.2 L66.8,800.8 L67.2,802.3 L67.7,803.5 L68.0,804.2 L68.4,804.8 L68.9,805.4 L69.3,805.9 L69.8,806.4 L70.3,806.7 L70.8,806.9 L71.2,807.0 L71.8,807.0 L72.3,806.7 L72.9,806.4 L73.4,806.0 L74.0,805.4 L74.5,804.8 L75.0,804.2 L75.4,803.5 L75.9,802.3 L76.3,800.8 L76.6,799.2 L76.8,797.4 L76.9,795.5 L77.0,793.5 L77.1,791.4 L77.2,789.4 L77.3,786.5 L77.4,783.4 L77.4,780.1 L77.3,776.7 L77.3,773.3 L77.2,769.8 L77.2,766.3 L77.2,763.0 M90.1,763.0 L90.1,807.0 M90.1,763.9 L91.0,763.9 L91.9,763.9 L92.8,763.9 L93.7,763.9 L94.6,764.0 L95.4,764.1 L96.2,764.3 L96.8,764.7 L97.5,765.5 L98.1,766.4 L98.6,767.5 L99.1,768.8 L99.4,770.1 L99.7,771.4 L99.9,772.7 L99.9,774.0 L99.9,775.4 L99.8,776.9 L99.5,778.5 L99.2,780.0 L98.7,781.5 L98.2,782.9 L97.6,784.1 L96.8,785.0 L96.2,785.5 L95.5,785.8 L94.7,786.1 L93.8,786.2 L92.9,786.4 L92.1,786.5 L91.2,786.6 L90.4,786.8 M112.3,763.0 L112.3,807.0 M112.3,763.9 L113.1,763.9 L114.0,763.9 L115.0,763.9 L115.9,763.9 L116.8,764.0 L117.6,764.1 L118.3,764.3 L119.0,764.7 L119.7,765.5 L120.3,766.4 L120.8,767.5 L121.3,768.8 L121.6,770.1 L121.9,771.4 L122.0,772.7 L122.1,774.0 L122.1,775.4 L121.9,776.9 L121.7,778.5 L121.4,780.0 L120.9,781.5 L120.4,782.9 L119.7,784.1 L119.0,785.0 L118.4,785.5 L117.6,785.8 L116.8,786.1 L116.0,786.2 L115.1,786.4 L114.2,786.5 L113.4,786.6 L112.5,786.8 M139.9,763.0 L140.6,763.5 L141.2,764.0 L141.9,764.4 L142.5,764.9 L143.2,765.4 L143.8,765.9 L144.3,766.6 L144.8,767.4 L145.4,769.0 L145.8,770.9 L146.1,773.0 L146.3,775.4 L146.4,777.8 L146.5,780.3 L146.5,782.7 L146.5,785.0 L146.5,787.3 L146.5,789.7 L146.4,792.2 L146.3,794.6 L146.1,797.0 L145.8,799.1 L145.4,801.0 L144.8,802.6 L144.3,803.5 L143.8,804.3 L143.2,805.0 L142.5,805.7 L141.9,806.2 L141.2,806.6 L140.6,806.9 L139.9,807.0 L139.3,806.9 L138.7,806.6 L138.0,806.2 L137.3,805.7 L136.7,805.0 L136.1,804.3 L135.6,803.5 L135.1,802.6 L134.5,801.0 L134.1,799.1 L133.8,797.0 L133.6,794.6 L133.5,792.2 L133.4,789.7 L133.4,787.3 L133.4,785.0 L133.4,782.7 L133.4,780.3 L133.5,777.8 L133.6,775.4 L133.8,773.0 L134.1,770.9 L134.5,769.0 L135.1,767.4 L135.6,766.6 L136.1,765.9 L136.7,765.4 L137.3,764.9 L138.0,764.4 L138.7,764.0 L139.3,763.5 L139.9,763.0 M159.2,763.0 L159.2,807.0 M159.2,763.9 L160.4,763.9 L161.6,763.9 L162.9,763.9 L164.2,763.8 L165.4,763.8 L166.5,764.0 L167.6,764.3 L168.4,764.7 L169.2,765.5 L169.9,766.4 L170.5,767.4 L171.0,768.6 L171.4,769.8 L171.7,771.1 L171.9,772.4 L172.0,773.6 L171.9,774.9 L171.7,776.3 L171.3,777.8 L170.7,779.4 L170.1,780.8 L169.4,782.1 L168.6,783.2 L167.7,784.1 L166.9,784.6 L166.0,785.0 L165.1,785.3 L164.1,785.4 L163.0,785.5 L161.9,785.6 L160.9,785.7 L159.9,785.9 M164.2,785.9 L173.4,807.0 M184.7,763.9 L200.4,763.0 M192.5,763.4 L192.5,807.0 M212.7,763.9 L212.7,807.0 M212.7,763.9 L221.2,763.0 M212.7,785.0 L219.7,785.0 M212.7,806.6 L221.2,806.1 M233.8,763.0 L233.8,807.0 M233.8,763.0 L234.8,763.4 L235.8,763.7 L236.9,764.0 L237.9,764.3 L238.9,764.7 L239.9,765.1 L240.8,765.7 L241.6,766.5 L242.7,768.1 L243.6,770.0 L244.4,772.3 L245.1,774.8 L245.7,777.4 L246.1,780.0 L246.3,782.6 L246.5,785.0 L246.4,787.4 L246.3,790.0 L245.9,792.6 L245.5,795.2 L244.9,797.7 L244.2,800.0 L243.3,801.9 L242.2,803.5 L241.4,804.3 L240.4,804.9 L239.4,805.4 L238.3,805.7 L237.1,806.0 L236.0,806.3 L234.8,806.6 L233.8,807.0"/><path stroke-width="2.95" d=""/>
<use href="#b7_1" x="1.32"/>
<use href="#b7_1" x="2.64"/>
<use href="#b7_1" x="3.96"/>
</g>
<path d="M960.0,656.9 L962.6,656.5 L965.1,655.9 L967.6,655.2 L970.1,654.4 L972.6,653.6 L975.1,652.7 L977.5,651.7 L980.0,650.6 L982.4,649.6 L984.9,648.5 L987.3,647.4 L989.8,646.4 L992.2,645.3 L994.6,644.4 L997.1,643.5 L999.5,642.7 L1002.0,641.9 L1004.5,641.3 L1007.0,640.8 L1009.5,640.3 L1012.0,639.9 L1014.6,639.5 L1017.1,639.1 L1019.6,638.7 L1022.1,638.3 L1024.6,638.0 L1027.2,637.7 L1029.7,637.4 L1032.2,637.1 L1034.8,636.8 L1037.3,636.6 L1039.8,636.4 L1042.4,636.3 L1044.9,636.2 L1047.5,636.1 L1050.1,636.1 L1052.6,636.0 L1055.2,636.1 L1057.8,636.2 L1060.4,636.3 L1062.9,636.4 L1065.5,636.6 L1068.1,636.9 L1070.7,637.2 L1073.3,637.5 L1075.9,637.9 L1078.4,638.3 L1081.0,638.7 L1083.6,639.2 L1086.1,639.8 L1088.7,640.4 L1091.2,641.0 L1093.8,641.7 L1096.3,642.4 L1098.8,643.1 L1101.3,643.9 L1103.8,644.7 L1106.2,645.6 L1108.7,646.5 L1111.1,647.4 L1113.5,648.4 L1115.9,649.4 L1118.2,650.5 L1120.6,651.6 L1122.9,652.7 L1125.2,653.8 L1127.5,655.0 L1129.7,656.2 L1131.9,657.5 L1134.1,658.8 L1136.3,660.1 L1138.4,661.5 L1140.5,662.9 L1142.6,664.3 L1144.7,665.8 L1146.7,667.3 L1148.7,668.9 L1150.7,670.4 L1152.7,672.1 L1154.6,673.7 L1156.5,675.4 L1158.4,677.1 L1160.2,678.9 L1162.0,680.7 L1163.8,682.5 L1165.5,684.4 L1167.3,686.3 L1169.0,688.3 L1170.6,690.3 L1172.2,692.3 L1173.8,694.4 L1175.4,696.5 L1176.9,698.6 L1178.4,700.7 L1179.8,702.9 L1181.2,705.2 L1182.5,707.4 L1183.8,709.7 L1185.1,712.0 L1186.3,714.4 L1187.4,716.7 L1188.5,719.1 L1189.6,721.5 L1190.6,724.0 L1191.5,726.4 L1192.3,728.9 L1193.1,731.4 L1193.8,733.9 L1194.5,736.4 L1195.1,738.9 L1195.6,741.5 L1196.0,744.0 L1196.4,746.5 L1196.7,749.1 L1196.9,751.7 L1197.0,754.2 L1197.0,756.8 L1197.0,759.3 L1196.9,761.9 L1196.7,764.4 L1196.4,766.9 L1196.0,769.4 L1195.6,771.9 L1195.1,774.4 L1194.5,776.9 L1193.8,779.4 L1193.0,781.8 L1192.2,784.2 L1191.2,786.6 L1190.2,789.0 L1189.2,791.3 L1188.0,793.6 L1186.8,795.9 L1185.5,798.1 L1184.2,800.4 L1182.8,802.5 L1181.3,804.7 L1179.8,806.8 L1178.2,808.9 L1176.6,810.9 L1174.9,812.9 L1173.1,814.9 L1171.3,816.8 L1169.5,818.6 L1167.6,820.5 L1165.7,822.2 L1163.8,824.0 L1161.8,825.7 L1159.7,827.3 L1157.7,828.9 L1155.6,830.5 L1153.4,832.0 L1151.3,833.4 L1149.1,834.8 L1146.9,836.2 L1144.7,837.5 L1142.4,838.8 L1140.2,840.0 L1137.9,841.2 L1135.6,842.3 L1133.3,843.4 L1130.9,844.4 L1128.6,845.4 L1126.2,846.4 L1123.8,847.3 L1121.4,848.2 L1119.0,849.1 L1116.6,849.9 L1114.1,850.7 L1111.7,851.4 L1109.2,852.1 L1106.8,852.8 L1104.3,853.4 L1101.8,854.0 L1099.3,854.6 L1096.8,855.2 L1094.3,855.7 L1091.8,856.2 L1089.3,856.7 L1086.7,857.2 L1084.2,857.6 L1081.7,858.1 L1079.1,858.5 L1076.6,858.9 L1074.0,859.2 L1071.4,859.6 L1068.9,859.9 L1066.3,860.2 L1063.8,860.5 L1061.2,860.8 L1058.6,861.0 L1056.0,861.3 L1053.5,861.5 L1050.9,861.7 L1048.3,861.9 L1045.7,862.0 L1043.2,862.2 L1040.6,862.3 L1038.0,862.4 L1035.4,862.5 L1032.8,862.6 L1030.3,862.7 L1027.7,862.7 L1025.1,862.7 L1022.6,862.7 L1020.0,862.7 L1017.4,862.6 L1014.8,862.6 L1012.3,862.5 L1009.7,862.4 L1007.1,862.3 L1004.6,862.1 L1002.0,861.9 L999.4,861.7 L996.9,861.5 L994.3,861.3 L991.8,861.0 L989.2,860.7 L986.6,860.4 L984.1,860.1 L981.5,859.8 L979.0,859.4 L976.4,859.0 L973.9,858.6 L971.4,858.2 L968.8,857.7 L966.3,857.2 L963.8,856.7 L961.2,856.2 L958.7,855.7 L956.2,855.1 L953.7,854.6 L951.2,854.0 L948.7,853.3 L946.2,852.7 L943.7,852.0 L941.2,851.3 L938.8,850.6 L936.3,849.8 L933.9,849.1 L931.4,848.3 L929.0,847.4 L926.6,846.6 L924.2,845.7 L921.8,844.8 L919.4,843.8 L917.1,842.8 L914.7,841.8 L912.4,840.8 L910.1,839.7 L907.8,838.5 L905.5,837.4 L903.2,836.1 L900.9,834.9 L898.7,833.6 L896.5,832.3 L894.3,830.9 L892.2,829.5 L890.0,828.0 L887.9,826.5 L885.8,825.0 L883.8,823.4 L881.8,821.7 L879.8,820.0 L877.8,818.3 L875.9,816.5 L874.0,814.7 L872.2,812.9 L870.4,811.0 L868.6,809.0 L866.9,807.0 L865.2,805.0 L863.6,803.0 L862.1,800.9 L860.6,798.7 L859.1,796.6 L857.7,794.4 L856.4,792.1 L855.1,789.8 L853.9,787.6 L852.8,785.2 L851.7,782.9 L850.7,780.5 L849.8,778.1 L849.0,775.7 L848.2,773.2 L847.5,770.8 L846.9,768.3 L846.4,765.8 L845.9,763.3 L845.5,760.8 L845.2,758.3 L845.0,755.8 L844.9,753.2 L844.9,750.7 L844.9,748.1 L845.0,745.6 L845.2,743.0 L845.5,740.5 L845.9,738.0 L846.3,735.4 L846.8,732.9 L847.4,730.4 L848.1,727.9 L848.8,725.4 L849.7,722.9 L850.6,720.5 L851.5,718.0 L852.6,715.6 L853.7,713.2 L854.8,710.9 L856.1,708.5 L857.4,706.2 L858.7,704.0 L860.1,701.7 L861.6,699.5 L863.1,697.3 L864.7,695.2 L866.3,693.1 L868.0,691.1 L869.7,689.1 L871.4,687.1 L873.2,685.2 L875.1,683.4 L877.0,681.6 L878.9,679.8 L880.9,678.1 L882.8,676.5 L884.9,674.9 L886.9,673.4 L889.0,671.9 L891.2,670.5 L893.3,669.1 L895.5,667.8 L897.7,666.6 L899.9,665.4 L902.2,664.3 L904.5,663.2 L906.8,662.2 L909.1,661.2 L911.4,660.2 L913.8,659.4 L916.2,658.5 L918.6,657.7 L921.0,657.0 L923.5,656.3 L925.9,655.6 L928.4,655.0 L930.9,654.3 L933.4,653.8 L935.9,653.2 L938.4,652.7 L940.9,652.2 L943.4,651.7 L946.0,651.2 L948.5,650.8 L951.0,650.3 L953.6,649.9 L956.2,649.5Z" fill="#CCE1A3"/>
<path d="M960.0,656.9 L962.6,656.5 L965.1,655.9 L967.6,655.2 L970.1,654.4 L972.6,653.6 L975.1,652.7 L977.5,651.7 L980.0,650.6 L982.4,649.6 L984.9,648.5 L987.3,647.4 L989.8,646.4 L992.2,645.3 L994.6,644.4 L997.1,643.5 L999.5,642.7 L1002.0,641.9 L1004.5,641.3 L1007.0,640.8 L1009.5,640.3 L1012.0,639.9 L1014.6,639.5 L1017.1,639.1 L1019.6,638.7 L1022.1,638.3 L1024.6,638.0 L1027.2,637.7 L1029.7,637.4 L1032.2,637.1 L1034.8,636.8 L1037.3,636.6 L1039.8,636.4 L1042.4,636.3 L1044.9,636.2 L1047.5,636.1 L1050.1,636.1 L1052.6,636.0 L1055.2,636.1 L1057.8,636.2 L1060.4,636.3 L1062.9,636.4 L1065.5,636.6 L1068.1,636.9 L1070.7,637.2 L1073.3,637.5 L1075.9,637.9 L1078.4,638.3 L1081.0,638.7 L1083.6,639.2 L1086.1,639.8 L1088.7,640.4 L1091.2,641.0 L1093.8,641.7 L1096.3,642.4 L1098.8,643.1 L1101.3,643.9 L1103.8,644.7 L1106.2,645.6 L1108.7,646.5 L1111.1,647.4 L1113.5,648.4 L1115.9,649.4 L1118.2,650.5 L1120.6,651.6 L1122.9,652.7 L1125.2,653.8 L1127.5,655.0 L1129.7,656.2 L1131.9,657.5 L1134.1,658.8 L1136.3,660.1 L1138.4,661.5 L1140.5,662.9 L1142.6,664.3 L1144.7,665.8 L1146.7,667.3 L1148.7,668.9 L1150.7,670.4 L1152.7,672.1 L1154.6,673.7 L1156.5,675.4 L1158.4,677.1 L1160.2,678.9 L1162.0,680.7 L1163.8,682.5 L1165.5,684.4 L1167.3,686.3 L1169.0,688.3 L1170.6,690.3 L1172.2,692.3 L1173.8,694.4 L1175.4,696.5 L1176.9,698.6 L1178.4,700.7 L1179.8,702.9 L1181.2,705.2 L1182.5,707.4 L1183.8,709.7 L1185.1,712.0 L1186.3,714.4 L1187.4,716.7 L1188.5,719.1 L1189.6,721.5 L1190.6,724.0 L1191.5,726.4 L1192.3,728.9 L1193.1,731.4 L1193.8,733.9 L1194.5,736.4 L1195.1,738.9 L1195.6,741.5 L1196.0,744.0 L1196.4,746.5 L1196.7,749.1 L1196.9,751.7 L1197.0,754.2 L1197.0,756.8 L1197.0,759.3 L1196.9,761.9 L1196.7,764.4 L1196.4,766.9 L1196.0,769.4 L1195.6,771.9 L1195.1,774.4 L1194.5,776.9 L1193.8,779.4 L1193.0,781.8 L1192.2,784.2 L1191.2,786.6 L1190.2,789.0 L1189.2,791.3 L1188.0,793.6 L1186.8,795.9 L1185.5,798.1 L1184.2,800.4 L1182.8,802.5 L1181.3,804.7 L1179.8,806.8 L1178.2,808.9 L1176.6,810.9 L1174.9,812.9 L1173.1,814.9 L1171.3,816.8 L1169.5,818.6 L1167.6,820.5 L1165.7,822.2 L1163.8,824.0 L1161.8,825.7 L1159.7,827.3 L1157.7,828.9 L1155.6,830.5 L1153.4,832.0 L1151.3,833.4 L1149.1,834.8 L1146.9,836.2 L1144.7,837.5 L1142.4,838.8 L1140.2,840.0 L1137.9,841.2 L1135.6,842.3 L1133.3,843.4 L1130.9,844.4 L1128.6,845.4 L1126.2,846.4 L1123.8,847.3 L1121.4,848.2 L1119.0,849.1 L1116.6,849.9 L1114.1,850.7 L1111.7,851.4 L1109.2,852.1 L1106.8,852.8 L1104.3,853.4 L1101.8,854.0 L1099.3,854.6 L1096.8,855.2 L1094.3,855.7 L1091.8,856.2 L1089.3,856.7 L1086.7,857.2 L1084.2,857.6 L1081.7,858.1 L1079.1,858.5 L1076.6,858.9 L1074.0,859.2 L1071.4,859.6 L1068.9,859.9 L1066.3,860.2 L1063.8,860.5 L1061.2,860.8 L1058.6,861.0 L1056.0,861.3 L1053.5,861.5 L1050.9,861.7 L1048.3,861.9 L1045.7,862.0 L1043.2,862.2 L1040.6,862.3 L1038.0,862.4 L1035.4,862.5 L1032.8,862.6 L1030.3,862.7 L1027.7,862.7 L1025.1,862.7 L1022.6,862.7 L1020.0,862.7 L1017.4,862.6 L1014.8,862.6 L1012.3,862.5 L1009.7,862.4 L1007.1,862.3 L1004.6,862.1 L1002.0,861.9 L999.4,861.7 L996.9,861.5 L994.3,861.3 L991.8,861.0 L989.2,860.7 L986.6,860.4 L984.1,860.1 L981.5,859.8 L979.0,859.4 L976.4,859.0 L973.9,858.6 L971.4,858.2 L968.8,857.7 L966.3,857.2 L963.8,856.7 L961.2,856.2 L958.7,855.7 L956.2,855.1 L953.7,854.6 L951.2,854.0 L948.7,853.3 L946.2,852.7 L943.7,852.0 L941.2,851.3 L938.8,850.6 L936.3,849.8 L933.9,849.1 L931.4,848.3 L929.0,847.4 L926.6,846.6 L924.2,845.7 L921.8,844.8 L919.4,843.8 L917.1,842.8 L914.7,841.8 L912.4,840.8 L910.1,839.7 L907.8,838.5 L905.5,837.4 L903.2,836.1 L900.9,834.9 L898.7,833.6 L896.5,832.3 L894.3,830.9 L892.2,829.5 L890.0,828.0 L887.9,826.5 L885.8,825.0 L883.8,823.4 L881.8,821.7 L879.8,820.0 L877.8,818.3 L875.9,816.5 L874.0,814.7 L872.2,812.9 L870.4,811.0 L868.6,809.0 L866.9,807.0 L865.2,805.0 L863.6,803.0 L862.1,800.9 L860.6,798.7 L859.1,796.6 L857.7,794.4 L856.4,792.1 L855.1,789.8 L853.9,787.6 L852.8,785.2 L851.7,782.9 L850.7,780.5 L849.8,778.1 L849.0,775.7 L848.2,773.2 L847.5,770.8 L846.9,768.3 L846.4,765.8 L845.9,763.3 L845.5,760.8 L845.2,758.3 L845.0,755.8 L844.9,753.2 L844.9,750.7 L844.9,748.1 L845.0,745.6 L845.2,743.0 L845.5,740.5 L845.9,738.0 L846.3,735.4 L846.8,732.9 L847.4,730.4 L848.1,727.9 L848.8,725.4 L849.7,722.9 L850.6,720.5 L851.5,718.0 L852.6,715.6 L853.7,713.2 L854.8,710.9 L856.1,708.5 L857.4,706.2 L858.7,704.0 L860.1,701.7 L861.6,699.5 L863.1,697.3 L864.7,695.2 L866.3,693.1 L868.0,691.1 L869.7,689.1 L871.4,687.1 L873.2,685.2 L875.1,683.4 L877.0,681.6 L878.9,679.8 L880.9,678.1 L882.8,676.5 L884.9,674.9 L886.9,673.4 L889.0,671.9 L891.2,670.5 L893.3,669.1 L895.5,667.8 L897.7,666.6 L899.9,665.4 L902.2,664.3 L904.5,663.2 L906.8,662.2 L909.1,661.2 L911.4,660.2 L913.8,659.4 L916.2,658.5 L918.6,657.7 L921.0,657.0 L923.5,656.3 L925.9,655.6 L928.4,655.0 L930.9,654.3 L933.4,653.8 L935.9,653.2 L938.4,652.7 L940.9,652.2 L943.4,651.7 L946.0,651.2 L948.5,650.8 L951.0,650.3 L953.6,649.9 L956.2,649.5" fill="none" stroke="#000" stroke-width="4.30" stroke-linecap="round" stroke-linejoin="round"/>
<g fill="none" stroke="#111" stroke-linecap="round" stroke-linejoin="round"><path id="b8_0" stroke-width="2.57" d="M950.4,704.9 L949.9,704.2 L949.4,703.3 L948.9,702.5 L948.4,701.6 L947.9,700.9 L947.4,700.2 L946.9,699.8 L946.3,699.6 L945.6,699.7 L944.8,700.0 L944.0,700.5 L943.2,701.2 L942.4,702.0 L941.6,702.9 L940.9,703.9 L940.4,704.9 L939.7,706.5 L939.1,708.3 L938.7,710.4 L938.4,712.6 L938.2,714.9 L938.1,717.2 L938.0,719.5 L938.0,721.6 L938.0,723.9 L938.1,726.3 L938.2,728.8 L938.4,731.3 L938.7,733.6 L939.1,735.8 L939.7,737.7 L940.4,739.3 L940.9,740.2 L941.5,741.0 L942.2,741.7 L942.9,742.4 L943.6,743.0 L944.3,743.4 L945.0,743.7 L945.7,743.7 L946.3,743.5 L946.9,743.1 L947.5,742.4 L948.1,741.7 L948.7,740.8 L949.3,740.0 L949.8,739.1 L950.4,738.4 M962.4,699.6 L962.3,703.0 L962.2,706.4 L962.1,709.9 L962.0,713.3 L961.9,716.7 L961.9,720.0 L961.9,723.2 L962.1,726.1 L962.2,728.1 L962.3,730.1 L962.5,732.1 L962.6,734.0 L962.9,735.8 L963.2,737.5 L963.6,738.9 L964.1,740.2 L964.4,740.8 L964.8,741.5 L965.2,742.1 L965.6,742.6 L966.1,743.0 L966.5,743.4 L967.0,743.6 L967.4,743.7 L967.9,743.7 L968.5,743.4 L969.0,743.1 L969.5,742.7 L970.1,742.1 L970.6,741.5 L971.0,740.9 L971.4,740.2 L971.9,738.9 L972.3,737.5 L972.5,735.8 L972.7,734.1 L972.8,732.1 L972.9,730.2 L973.0,728.1 L973.1,726.1 L973.2,723.2 L973.3,720.0 L973.3,716.7 L973.3,713.3 L973.2,709.9 L973.2,706.4 L973.1,703.0 L973.1,699.6 M985.5,699.6 L985.5,742.8 M985.5,742.8 L993.6,742.4 M1004.4,700.5 L1019.3,699.6 M1011.9,700.0 L1011.9,743.7 M1031.2,699.6 L1031.2,703.0 L1031.1,706.4 L1031.0,709.9 L1030.9,713.3 L1030.8,716.7 L1030.8,720.0 L1030.8,723.2 L1031.0,726.1 L1031.1,728.1 L1031.2,730.1 L1031.4,732.1 L1031.5,734.0 L1031.8,735.8 L1032.1,737.5 L1032.4,738.9 L1032.9,740.2 L1033.3,740.8 L1033.7,741.5 L1034.1,742.1 L1034.5,742.6 L1035.0,743.0 L1035.4,743.4 L1035.9,743.6 L1036.3,743.7 L1036.8,743.7 L1037.3,743.4 L1037.9,743.1 L1038.4,742.7 L1039.0,742.1 L1039.5,741.5 L1039.9,740.9 L1040.3,740.2 L1040.8,738.9 L1041.2,737.5 L1041.4,735.8 L1041.6,734.1 L1041.7,732.1 L1041.8,730.2 L1041.9,728.1 L1042.0,726.1 L1042.1,723.2 L1042.2,720.0 L1042.2,716.7 L1042.2,713.3 L1042.1,709.9 L1042.1,706.4 L1042.0,703.0 L1042.0,699.6 M1054.7,699.6 L1054.7,743.7 M1054.7,700.5 L1055.8,700.5 L1057.0,700.5 L1058.3,700.5 L1059.5,700.4 L1060.6,700.5 L1061.7,700.6 L1062.7,700.9 L1063.5,701.3 L1064.3,702.1 L1065.0,703.0 L1065.5,704.0 L1066.0,705.2 L1066.4,706.5 L1066.7,707.7 L1066.9,709.0 L1066.9,710.2 L1066.8,711.5 L1066.6,713.0 L1066.2,714.5 L1065.7,716.0 L1065.1,717.4 L1064.5,718.7 L1063.7,719.9 L1062.9,720.8 L1062.1,721.3 L1061.2,721.6 L1060.3,721.9 L1059.4,722.0 L1058.4,722.1 L1057.3,722.2 L1056.3,722.4 L1055.4,722.5 M1059.5,722.5 L1068.3,743.7 M1085.3,699.6 L1091.5,743.7 M1082.1,728.7 L1089.0,728.7 M1103.3,699.6 L1103.3,742.8 M1103.3,742.8 L1111.4,742.4"/><path stroke-width="2.95" d="M1079.1,743.7 L1085.3,699.6"/>
<use href="#b8_0" x="1.32"/>
<use href="#b8_0" x="2.65"/>
<use href="#b8_0" x="3.97"/>
</g>
<g fill="none" stroke="#111" stroke-linecap="round" stroke-linejoin="round"><path id="b8_1" stroke-width="2.56" d="M900.6,758.9 L900.6,802.0 M900.6,758.9 L909.3,758.0 M900.6,780.0 L907.8,780.0 M900.6,801.6 L909.3,801.1 M920.8,758.0 L934.9,802.0 M947.4,758.0 L947.4,802.0 M947.4,758.9 L948.3,758.9 L949.2,758.9 L950.1,758.9 L951.1,758.9 L952.0,759.0 L952.8,759.1 L953.6,759.3 L954.2,759.7 L954.9,760.5 L955.6,761.4 L956.1,762.5 L956.5,763.8 L956.9,765.1 L957.1,766.4 L957.3,767.7 L957.4,769.0 L957.4,770.4 L957.2,771.9 L957.0,773.5 L956.6,775.0 L956.2,776.5 L955.6,777.9 L955.0,779.1 L954.2,780.0 L953.6,780.5 L952.9,780.9 L952.0,781.1 L951.2,781.2 L950.3,781.4 L949.4,781.5 L948.5,781.6 L947.7,781.8 M970.0,758.0 L970.0,801.1 M970.0,801.1 L978.6,800.7 M996.7,758.0 L997.3,758.5 L998.0,759.0 L998.6,759.4 L999.3,759.9 L999.9,760.4 L1000.6,760.9 L1001.1,761.6 L1001.6,762.4 L1002.2,764.0 L1002.6,765.9 L1002.9,768.0 L1003.1,770.4 L1003.2,772.8 L1003.3,775.3 L1003.3,777.7 L1003.3,780.0 L1003.3,782.3 L1003.3,784.7 L1003.2,787.2 L1003.1,789.6 L1002.9,792.0 L1002.6,794.1 L1002.2,796.0 L1001.6,797.6 L1001.1,798.5 L1000.6,799.3 L999.9,800.0 L999.3,800.7 L998.6,801.2 L998.0,801.6 L997.3,801.9 L996.7,802.0 L996.0,801.9 L995.4,801.6 L994.7,801.2 L994.0,800.7 L993.4,800.0 L992.8,799.3 L992.3,798.5 L991.8,797.6 L991.2,796.0 L990.7,794.1 L990.4,792.0 L990.2,789.6 L990.1,787.2 L990.1,784.7 L990.1,782.3 L990.1,780.0 L990.1,777.7 L990.1,775.3 L990.1,772.8 L990.2,770.4 L990.4,768.0 L990.7,765.9 L991.2,764.0 L991.8,762.4 L992.3,761.6 L992.8,760.9 L993.4,760.4 L994.0,759.9 L994.7,759.4 L995.4,759.0 L996.0,758.5 L996.7,758.0 M1016.2,758.0 L1016.2,802.0 M1016.2,758.9 L1017.4,758.9 L1018.7,758.9 L1020.0,758.8 L1021.3,758.8 L1022.5,758.8 L1023.7,759.0 L1024.7,759.3 L1025.6,759.7 L1026.4,760.5 L1027.1,761.4 L1027.7,762.4 L1028.2,763.6 L1028.6,764.8 L1029.0,766.1 L1029.2,767.4 L1029.2,768.6 L1029.1,769.9 L1028.9,771.3 L1028.5,772.8 L1027.9,774.3 L1027.3,775.8 L1026.6,777.1 L1025.7,778.2 L1024.9,779.1 L1024.1,779.7 L1023.2,780.0 L1022.2,780.3 L1021.2,780.4 L1020.1,780.5 L1019.0,780.6 L1018.0,780.7 L1016.9,780.9 M1021.3,780.9 L1030.7,802.0 M1048.8,758.0 L1055.4,802.0 M1045.3,787.0 L1052.7,787.0 M1066.9,758.9 L1082.7,758.0 M1074.8,758.4 L1074.8,802.0 M1094.7,764.6 L1094.7,802.0 M1113.2,758.0 L1113.8,758.5 L1114.5,759.0 L1115.2,759.4 L1115.8,759.9 L1116.5,760.4 L1117.1,760.9 L1117.6,761.6 L1118.1,762.4 L1118.7,764.0 L1119.1,765.9 L1119.5,768.0 L1119.7,770.4 L1119.8,772.8 L1119.8,775.3 L1119.8,777.7 L1119.8,780.0 L1119.8,782.3 L1119.8,784.7 L1119.8,787.2 L1119.7,789.6 L1119.5,792.0 L1119.1,794.1 L1118.7,796.0 L1118.1,797.6 L1117.6,798.5 L1117.1,799.3 L1116.5,800.0 L1115.8,800.7 L1115.2,801.2 L1114.5,801.6 L1113.8,801.9 L1113.2,802.0 L1112.6,801.9 L1111.9,801.6 L1111.2,801.2 L1110.6,800.7 L1109.9,800.0 L1109.3,799.3 L1108.8,798.5 L1108.3,797.6 L1107.7,796.0 L1107.2,794.1 L1106.9,792.0 L1106.7,789.6 L1106.6,787.2 L1106.6,784.7 L1106.6,782.3 L1106.6,780.0 L1106.6,777.7 L1106.6,775.3 L1106.6,772.8 L1106.7,770.4 L1106.9,768.0 L1107.2,765.9 L1107.7,764.0 L1108.3,762.4 L1108.8,761.6 L1109.3,760.9 L1109.9,760.4 L1110.6,759.9 L1111.2,759.4 L1111.9,759.0 L1112.6,758.5 L1113.2,758.0 M1132.7,802.0 L1132.7,758.0 M1146.6,802.0 L1146.6,758.0"/><path stroke-width="2.95" d="M934.9,758.0 L920.8,802.0 M1042.1,802.0 L1048.8,758.0 M1132.7,758.0 L1133.6,760.6 L1134.4,763.2 L1135.2,765.9 L1136.0,768.5 L1136.8,771.1 L1137.6,773.8 L1138.5,776.4 L1139.3,779.1 L1140.2,781.9 L1141.1,784.8 L1142.0,787.6 L1142.9,790.5 L1143.8,793.4 L1144.8,796.3 L1145.7,799.2 L1146.6,802.0"/>
<use href="#b8_1" x="1.32"/>
<use href="#b8_1" x="2.64"/>
<use href="#b8_1" x="3.96"/>
</g>
<path d="M236.7,956.0 L239.3,955.9 L241.9,955.9 L244.4,955.9 L247.0,955.9 L249.6,955.9 L252.2,956.0 L254.8,956.1 L257.3,956.2 L259.9,956.3 L262.5,956.4 L265.1,956.6 L267.6,956.8 L270.2,957.0 L272.8,957.2 L275.3,957.4 L277.9,957.7 L280.4,958.0 L283.0,958.3 L285.5,958.6 L288.1,959.0 L290.6,959.4 L293.1,959.8 L295.7,960.2 L298.2,960.6 L300.7,961.1 L303.2,961.6 L305.8,962.2 L308.3,962.7 L310.8,963.3 L313.3,963.9 L315.8,964.6 L318.2,965.2 L320.7,966.0 L323.2,966.7 L325.6,967.5 L328.1,968.3 L330.5,969.2 L332.9,970.1 L335.4,971.0 L337.8,972.0 L340.1,973.0 L342.5,974.0 L344.9,975.1 L347.2,976.3 L349.5,977.5 L351.8,978.7 L354.0,980.0 L356.3,981.3 L358.5,982.7 L360.6,984.1 L362.8,985.6 L364.9,987.1 L366.9,988.7 L368.9,990.3 L370.9,991.9 L372.9,993.6 L374.7,995.4 L376.6,997.2 L378.4,999.1 L380.1,1001.0 L381.8,1002.9 L383.4,1004.9 L385.0,1007.0 L386.5,1009.1 L388.0,1011.2 L389.4,1013.3 L390.7,1015.6 L392.0,1017.8 L393.1,1020.1 L394.3,1022.4 L395.3,1024.7 L396.3,1027.1 L397.3,1029.5 L398.1,1032.0 L398.9,1034.4 L399.6,1036.9 L400.3,1039.4 L400.9,1041.9 L401.4,1044.5 L401.8,1047.0 L402.2,1049.6 L402.5,1052.2 L402.8,1054.8 L403.0,1057.4 L403.1,1060.0 L403.2,1062.6 L403.1,1065.2 L403.1,1067.8 L402.9,1070.4 L402.8,1073.0 L402.5,1075.6 L402.2,1078.2 L401.8,1080.8 L401.4,1083.3 L400.9,1085.9 L400.4,1088.4 L399.8,1091.0 L399.2,1093.5 L398.5,1096.0 L397.7,1098.4 L396.9,1100.9 L396.1,1103.3 L395.1,1105.7 L394.2,1108.1 L393.2,1110.5 L392.1,1112.8 L391.0,1115.1 L389.8,1117.4 L388.6,1119.7 L387.4,1121.9 L386.1,1124.1 L384.7,1126.3 L383.3,1128.4 L381.8,1130.5 L380.3,1132.6 L378.8,1134.6 L377.2,1136.6 L375.5,1138.6 L373.8,1140.5 L372.1,1142.4 L370.3,1144.3 L368.5,1146.1 L366.6,1147.9 L364.7,1149.6 L362.7,1151.3 L360.7,1152.9 L358.7,1154.6 L356.6,1156.1 L354.5,1157.7 L352.4,1159.1 L350.2,1160.6 L348.0,1162.0 L345.8,1163.4 L343.5,1164.7 L341.2,1165.9 L338.9,1167.2 L336.6,1168.4 L334.3,1169.5 L331.9,1170.6 L329.5,1171.6 L327.1,1172.7 L324.7,1173.6 L322.2,1174.6 L319.8,1175.5 L317.3,1176.3 L314.9,1177.1 L312.4,1177.9 L309.9,1178.6 L307.4,1179.3 L305.0,1180.0 L302.5,1180.6 L300.0,1181.2 L297.5,1181.8 L295.0,1182.3 L292.4,1182.8 L289.9,1183.3 L287.4,1183.8 L284.9,1184.2 L282.4,1184.6 L279.9,1185.0 L277.3,1185.3 L274.8,1185.6 L272.3,1186.0 L269.8,1186.2 L267.2,1186.5 L264.7,1186.8 L262.2,1187.0 L259.6,1187.2 L257.1,1187.4 L254.5,1187.6 L251.9,1187.7 L249.4,1187.9 L246.8,1188.0 L244.2,1188.1 L241.7,1188.2 L239.1,1188.3 L236.5,1188.3 L233.9,1188.4 L231.3,1188.4 L228.7,1188.4 L226.1,1188.4 L223.5,1188.4 L220.9,1188.4 L218.3,1188.3 L215.7,1188.2 L213.1,1188.1 L210.5,1188.0 L207.9,1187.9 L205.4,1187.7 L202.8,1187.5 L200.2,1187.3 L197.6,1187.1 L195.0,1186.9 L192.4,1186.6 L189.9,1186.3 L187.3,1186.0 L184.7,1185.6 L182.2,1185.3 L179.6,1184.9 L177.1,1184.5 L174.6,1184.0 L172.1,1183.6 L169.6,1183.1 L167.0,1182.6 L164.6,1182.0 L162.1,1181.5 L159.6,1180.9 L157.1,1180.2 L154.7,1179.6 L152.2,1178.9 L149.8,1178.2 L147.3,1177.5 L144.9,1176.7 L142.4,1176.0 L140.0,1175.1 L137.6,1174.3 L135.2,1173.4 L132.8,1172.5 L130.4,1171.6 L128.0,1170.6 L125.7,1169.6 L123.3,1168.6 L120.9,1167.6 L118.6,1166.5 L116.3,1165.3 L113.9,1164.2 L111.6,1163.0 L109.3,1161.7 L107.1,1160.4 L104.8,1159.1 L102.6,1157.8 L100.4,1156.4 L98.2,1154.9 L96.0,1153.4 L93.9,1151.9 L91.8,1150.3 L89.7,1148.7 L87.7,1147.1 L85.7,1145.4 L83.8,1143.6 L81.9,1141.8 L80.0,1140.0 L78.2,1138.1 L76.5,1136.1 L74.8,1134.2 L73.2,1132.1 L71.6,1130.1 L70.1,1128.0 L68.7,1125.8 L67.3,1123.6 L66.0,1121.4 L64.8,1119.1 L63.7,1116.8 L62.6,1114.5 L61.6,1112.1 L60.8,1109.7 L59.9,1107.2 L59.2,1104.8 L58.6,1102.3 L58.0,1099.8 L57.5,1097.2 L57.1,1094.7 L56.8,1092.1 L56.6,1089.6 L56.5,1087.0 L56.4,1084.4 L56.5,1081.8 L56.6,1079.2 L56.8,1076.6 L57.1,1074.0 L57.4,1071.4 L57.9,1068.9 L58.4,1066.3 L59.0,1063.8 L59.6,1061.2 L60.4,1058.7 L61.2,1056.3 L62.1,1053.8 L63.0,1051.4 L64.0,1049.0 L65.1,1046.6 L66.2,1044.2 L67.4,1041.9 L68.6,1039.6 L69.9,1037.3 L71.2,1035.1 L72.6,1032.9 L74.1,1030.8 L75.6,1028.7 L77.1,1026.6 L78.7,1024.5 L80.3,1022.5 L81.9,1020.6 L83.6,1018.6 L85.4,1016.7 L87.1,1014.8 L88.9,1013.0 L90.8,1011.2 L92.6,1009.5 L94.5,1007.7 L96.4,1006.0 L98.4,1004.4 L100.4,1002.7 L102.4,1001.1 L104.4,999.6 L106.5,998.0 L108.5,996.5 L110.6,995.1 L112.8,993.6 L114.9,992.2 L117.1,990.8 L119.2,989.4 L121.4,988.1 L123.7,986.8 L125.9,985.5 L128.2,984.3 L130.4,983.0 L132.7,981.8 L135.0,980.7 L137.3,979.5 L139.6,978.4 L142.0,977.3 L144.3,976.2 L146.7,975.2 L149.1,974.2 L151.4,973.2 L153.8,972.3 L156.2,971.3 L158.7,970.4 L161.1,969.5 L163.5,968.7 L165.9,967.9 L168.4,967.1 L170.9,966.3 L173.3,965.6 L175.8,964.9 L178.3,964.2 L180.7,963.5 L183.2,962.9 L185.7,962.3 L188.2,961.7 L190.7,961.2 L193.3,960.7 L195.8,960.2 L198.3,959.7 L200.8,959.3 L203.4,958.9 L205.9,958.5 L208.5,958.2 L211.0,957.8 L213.6,957.5 L216.1,957.3 L218.7,957.0 L221.3,956.8 L223.8,956.6 L226.4,956.4 L229.0,956.3 L231.5,956.2 L234.1,956.1Z" fill="#8FE6FD" stroke="#000" stroke-width="4.30"/>
<g fill="none" stroke="#111" stroke-linecap="round" stroke-linejoin="round"><path id="b9_0" stroke-width="2.48" d="M129.5,1082.1 L133.3,1039.5 M133.3,1039.5 L142.7,1067.6 M152.1,1039.5 L155.8,1082.1 M173.8,1039.5 L174.4,1040.0 L175.1,1040.5 L175.7,1040.9 L176.4,1041.4 L177.0,1041.8 L177.6,1042.4 L178.2,1043.0 L178.6,1043.8 L179.2,1045.3 L179.7,1047.2 L180.0,1049.3 L180.2,1051.5 L180.3,1053.9 L180.3,1056.3 L180.3,1058.6 L180.3,1060.8 L180.3,1063.0 L180.3,1065.3 L180.3,1067.7 L180.2,1070.1 L180.0,1072.3 L179.7,1074.4 L179.2,1076.3 L178.6,1077.8 L178.2,1078.6 L177.6,1079.4 L177.0,1080.1 L176.4,1080.8 L175.7,1081.3 L175.1,1081.7 L174.4,1082.0 L173.8,1082.1 L173.1,1082.0 L172.5,1081.7 L171.8,1081.3 L171.2,1080.8 L170.5,1080.1 L169.9,1079.4 L169.4,1078.6 L168.9,1077.8 L168.3,1076.3 L167.9,1074.4 L167.6,1072.3 L167.4,1070.1 L167.3,1067.7 L167.2,1065.3 L167.2,1063.0 L167.2,1060.8 L167.2,1058.6 L167.2,1056.3 L167.3,1053.9 L167.4,1051.5 L167.6,1049.3 L167.9,1047.2 L168.3,1045.3 L168.9,1043.8 L169.4,1043.0 L169.9,1042.4 L170.5,1041.8 L171.2,1041.4 L171.8,1040.9 L172.5,1040.5 L173.1,1040.0 L173.8,1039.5 M193.0,1039.5 L193.0,1082.1 M193.0,1039.5 L194.0,1039.9 L195.0,1040.2 L196.1,1040.5 L197.1,1040.8 L198.2,1041.1 L199.2,1041.6 L200.1,1042.2 L200.9,1042.9 L201.9,1044.4 L202.9,1046.3 L203.7,1048.5 L204.4,1050.9 L204.9,1053.4 L205.4,1056.0 L205.6,1058.5 L205.7,1060.8 L205.7,1063.1 L205.5,1065.6 L205.2,1068.2 L204.8,1070.7 L204.2,1073.1 L203.4,1075.3 L202.5,1077.2 L201.5,1078.7 L200.6,1079.5 L199.7,1080.0 L198.6,1080.5 L197.5,1080.8 L196.4,1081.1 L195.2,1081.4 L194.0,1081.7 L193.0,1082.1 M218.2,1040.4 L218.2,1082.1 M218.2,1040.4 L226.8,1039.5 M218.2,1060.8 L225.3,1060.8 M218.2,1081.6 L226.8,1081.2 M239.6,1039.5 L239.6,1082.1 M239.6,1040.4 L240.8,1040.4 L242.1,1040.4 L243.3,1040.4 L244.6,1040.3 L245.8,1040.4 L247.0,1040.5 L248.0,1040.8 L248.9,1041.2 L249.7,1041.9 L250.4,1042.8 L251.0,1043.8 L251.5,1045.0 L251.9,1046.2 L252.2,1047.4 L252.4,1048.6 L252.5,1049.7 L252.4,1051.0 L252.2,1052.4 L251.7,1053.9 L251.2,1055.3 L250.6,1056.7 L249.8,1058.0 L249.0,1059.1 L248.2,1059.9 L247.4,1060.5 L246.5,1060.8 L245.5,1061.1 L244.5,1061.2 L243.4,1061.3 L242.4,1061.4 L241.3,1061.5 L240.3,1061.7 M244.6,1061.7 L253.9,1082.1 M271.9,1039.5 L278.5,1082.1 M268.5,1067.6 L275.8,1067.6 M289.8,1040.4 L305.6,1039.5 M297.7,1040.0 L297.7,1082.1 M318.0,1040.4 L318.0,1082.1 M318.0,1040.4 L326.6,1039.5 M318.0,1060.8 L325.1,1060.8 M318.0,1081.6 L326.6,1081.2"/><path stroke-width="2.85" d="M142.7,1067.6 L152.1,1039.5 M265.3,1082.1 L271.9,1039.5"/>
<use href="#b9_0" x="1.28"/>
<use href="#b9_0" x="2.55"/>
<use href="#b9_0" x="3.83"/>
</g>
<g fill="none" stroke="#111" stroke-linecap="round" stroke-linejoin="round"><path id="b9_1" stroke-width="2.39" d="M187.3,1099.5 L187.3,1140.5 M187.3,1100.3 L188.2,1100.4 L189.1,1100.4 L190.1,1100.3 L191.0,1100.3 L191.9,1100.4 L192.8,1100.5 L193.6,1100.7 L194.3,1101.1 L195.0,1101.8 L195.6,1102.7 L196.1,1103.7 L196.6,1104.9 L197.0,1106.1 L197.3,1107.3 L197.5,1108.6 L197.5,1109.7 L197.5,1111.0 L197.4,1112.5 L197.1,1113.9 L196.7,1115.4 L196.2,1116.8 L195.7,1118.1 L195.0,1119.1 L194.3,1120.0 L193.6,1120.5 L192.9,1120.8 L192.0,1121.0 L191.1,1121.2 L190.2,1121.3 L189.3,1121.4 L188.4,1121.5 L187.5,1121.6 M216.1,1099.5 L222.9,1140.5 M212.6,1126.6 L220.2,1126.6 M248.3,1104.4 L247.8,1103.7 L247.2,1103.0 L246.7,1102.2 L246.2,1101.4 L245.6,1100.7 L245.0,1100.1 L244.4,1099.7 L243.8,1099.5 L243.0,1099.6 L242.2,1099.8 L241.3,1100.3 L240.4,1100.9 L239.5,1101.7 L238.7,1102.6 L238.0,1103.5 L237.3,1104.4 L236.6,1105.9 L236.0,1107.6 L235.6,1109.5 L235.2,1111.5 L235.0,1113.7 L234.9,1115.8 L234.8,1118.0 L234.7,1120.0 L234.8,1122.1 L234.8,1124.4 L235.0,1126.7 L235.2,1128.9 L235.6,1131.1 L236.0,1133.2 L236.6,1134.9 L237.3,1136.4 L237.9,1137.2 L238.6,1138.0 L239.3,1138.7 L240.1,1139.3 L240.9,1139.9 L241.7,1140.2 L242.4,1140.5 L243.2,1140.5 L243.8,1140.3 L244.5,1139.9 L245.2,1139.3 L245.8,1138.6 L246.4,1137.8 L247.1,1137.0 L247.7,1136.3 L248.3,1135.6 M261.2,1100.3 L261.2,1140.5 M261.2,1100.3 L270.1,1099.5 M261.2,1120.0 L268.5,1120.0 M261.2,1140.1 L270.1,1139.7"/><path stroke-width="2.75" d="M209.3,1140.5 L216.1,1099.5"/>
<use href="#b9_1" x="1.23"/>
<use href="#b9_1" x="2.46"/>
<use href="#b9_1" x="3.69"/>
</g>
<path d="M467.9,922.9 L470.3,921.6 L472.8,920.5 L475.3,919.5 L477.9,918.6 L480.4,917.8 L483.0,917.1 L485.7,916.4 L488.3,915.7 L490.9,915.1 L493.5,914.5 L496.1,913.9 L498.7,913.3 L501.3,912.7 L503.8,912.0 L506.4,911.2 L508.8,910.4 L511.3,909.5 L513.7,908.6 L516.0,907.5 L518.4,906.5 L520.7,905.4 L523.1,904.4 L525.4,903.3 L527.8,902.3 L530.1,901.3 L532.5,900.3 L534.9,899.3 L537.3,898.4 L539.7,897.5 L542.2,896.7 L544.6,895.8 L547.1,895.0 L549.6,894.3 L552.1,893.6 L554.6,892.9 L557.1,892.3 L559.7,891.7 L562.3,891.2 L564.9,890.7 L567.5,890.3 L570.1,889.9 L572.8,889.6 L575.5,889.3 L578.2,889.0 L580.9,888.8 L583.6,888.6 L586.3,888.5 L589.0,888.4 L591.8,888.4 L594.5,888.3 L597.2,888.3 L600.0,888.4 L602.7,888.4 L605.4,888.5 L608.2,888.5 L610.9,888.6 L613.6,888.7 L616.3,888.8 L619.0,889.0 L621.7,889.1 L624.4,889.2 L627.0,889.3 L629.7,889.4 L632.3,889.5 L635.0,889.6 L637.6,889.7 L640.2,889.8 L642.8,889.8 L645.4,889.9 L647.9,890.0 L650.5,890.0 L653.1,890.1 L655.6,890.2 L658.2,890.2 L660.7,890.3 L663.3,890.4 L665.8,890.5 L668.3,890.6 L670.9,890.7 L673.4,890.9 L676.0,891.1 L678.5,891.3 L681.1,891.6 L683.6,891.9 L686.2,892.2 L688.7,892.6 L691.3,893.0 L693.8,893.5 L696.3,894.1 L698.9,894.7 L701.4,895.4 L703.9,896.1 L706.5,896.9 L709.0,897.8 L711.4,898.7 L713.9,899.8 L716.4,900.9 L718.8,902.0 L721.2,903.3 L723.5,904.6 L725.9,905.9 L728.2,907.4 L730.4,908.9 L732.6,910.5 L734.8,912.1 L737.0,913.8 L739.0,915.6 L741.1,917.4 L743.0,919.3 L744.9,921.2 L746.8,923.2 L748.6,925.2 L750.3,927.3 L752.0,929.4 L753.6,931.5 L755.2,933.7 L756.7,935.9 L758.1,938.2 L759.5,940.4 L760.8,942.7 L762.1,945.0 L763.2,947.3 L764.4,949.7 L765.5,952.1 L766.5,954.4 L767.4,956.8 L768.3,959.2 L769.2,961.7 L770.0,964.1 L770.8,966.6 L771.5,969.0 L772.2,971.5 L772.8,974.0 L773.4,976.5 L774.0,979.0 L774.5,981.6 L774.9,984.1 L775.4,986.7 L775.7,989.2 L776.1,991.8 L776.4,994.4 L776.7,997.0 L776.9,999.6 L777.1,1002.3 L777.2,1004.9 L777.3,1007.6 L777.4,1010.2 L777.4,1012.9 L777.3,1015.6 L777.2,1018.3 L777.1,1020.9 L776.9,1023.6 L776.6,1026.3 L776.3,1028.9 L775.9,1031.6 L775.4,1034.2 L774.9,1036.9 L774.3,1039.5 L773.7,1042.0 L772.9,1044.6 L772.1,1047.1 L771.2,1049.6 L770.3,1052.1 L769.2,1054.5 L768.1,1056.9 L766.9,1059.3 L765.7,1061.6 L764.3,1063.8 L762.9,1066.0 L761.4,1068.2 L759.8,1070.3 L758.2,1072.3 L756.5,1074.3 L754.7,1076.2 L752.9,1078.1 L750.9,1079.9 L749.0,1081.6 L747.0,1083.3 L744.9,1084.9 L742.7,1086.5 L740.6,1087.9 L738.3,1089.4 L736.1,1090.8 L733.8,1092.1 L731.4,1093.3 L729.0,1094.5 L726.6,1095.7 L724.2,1096.8 L721.8,1097.8 L719.3,1098.9 L716.8,1099.8 L714.3,1100.7 L711.8,1101.6 L709.3,1102.4 L706.8,1103.2 L704.2,1104.0 L701.7,1104.7 L699.2,1105.4 L696.6,1106.1 L694.1,1106.7 L691.5,1107.3 L689.0,1107.9 L686.4,1108.4 L683.9,1109.0 L681.3,1109.5 L678.8,1109.9 L676.2,1110.4 L673.7,1110.9 L671.1,1111.3 L668.6,1111.7 L666.0,1112.1 L663.4,1112.5 L660.8,1112.8 L658.3,1113.1 L655.7,1113.5 L653.1,1113.8 L650.5,1114.1 L647.9,1114.3 L645.3,1114.6 L642.7,1114.8 L640.1,1115.1 L637.4,1115.3 L634.8,1115.5 L632.1,1115.7 L629.5,1115.8 L626.8,1116.0 L624.2,1116.1 L621.5,1116.3 L618.8,1116.4 L616.2,1116.5 L613.5,1116.5 L610.8,1116.6 L608.1,1116.7 L605.5,1116.7 L602.8,1116.7 L600.1,1116.8 L597.4,1116.8 L594.8,1116.7 L592.1,1116.7 L589.5,1116.7 L586.8,1116.6 L584.2,1116.5 L581.5,1116.5 L578.9,1116.3 L576.3,1116.2 L573.6,1116.1 L571.0,1115.9 L568.4,1115.8 L565.8,1115.6 L563.3,1115.3 L560.7,1115.1 L558.1,1114.8 L555.5,1114.6 L553.0,1114.3 L550.4,1113.9 L547.9,1113.6 L545.3,1113.2 L542.8,1112.7 L540.2,1112.3 L537.7,1111.8 L535.2,1111.3 L532.7,1110.8 L530.1,1110.2 L527.6,1109.6 L525.1,1108.9 L522.6,1108.2 L520.1,1107.5 L517.6,1106.7 L515.1,1105.9 L512.6,1105.1 L510.1,1104.2 L507.7,1103.3 L505.2,1102.3 L502.7,1101.3 L500.3,1100.3 L497.8,1099.2 L495.4,1098.1 L493.0,1097.0 L490.6,1095.8 L488.2,1094.6 L485.9,1093.3 L483.6,1092.0 L481.3,1090.7 L479.0,1089.3 L476.7,1087.9 L474.5,1086.5 L472.3,1085.0 L470.1,1083.5 L468.0,1082.0 L465.9,1080.4 L463.8,1078.8 L461.8,1077.1 L459.8,1075.4 L457.8,1073.7 L455.9,1071.9 L454.1,1070.1 L452.3,1068.3 L450.5,1066.4 L448.7,1064.5 L447.1,1062.6 L445.4,1060.6 L443.9,1058.5 L442.3,1056.5 L440.8,1054.3 L439.4,1052.2 L438.0,1050.0 L436.7,1047.7 L435.5,1045.5 L434.3,1043.1 L433.1,1040.8 L432.0,1038.4 L431.0,1035.9 L430.0,1033.5 L429.1,1030.9 L428.3,1028.4 L427.5,1025.8 L426.8,1023.2 L426.2,1020.6 L425.6,1017.9 L425.2,1015.2 L424.7,1012.6 L424.4,1009.8 L424.2,1007.1 L424.0,1004.4 L423.9,1001.7 L423.9,998.9 L423.9,996.2 L424.1,993.5 L424.3,990.8 L424.7,988.1 L425.1,985.4 L425.6,982.8 L426.2,980.2 L426.9,977.6 L427.7,975.1 L428.5,972.6 L429.5,970.2 L430.5,967.8 L431.7,965.4 L432.9,963.1 L434.2,960.9 L435.6,958.7 L437.0,956.6 L438.6,954.5 L440.2,952.5 L441.9,950.6 L443.7,948.7 L445.5,946.9 L447.4,945.1 L449.3,943.4 L451.3,941.8 L453.4,940.2 L455.5,938.6 L457.6,937.1 L459.8,935.7 L462.0,934.3 L464.3,932.9 L466.6,931.6 L468.9,930.3 L471.2,929.0 L473.5,927.8 L475.9,926.6Z" fill="#EDFB98"/>
<path d="M467.9,922.9 L470.3,921.6 L472.8,920.5 L475.3,919.5 L477.9,918.6 L480.4,917.8 L483.0,917.1 L485.7,916.4 L488.3,915.7 L490.9,915.1 L493.5,914.5 L496.1,913.9 L498.7,913.3 L501.3,912.7 L503.8,912.0 L506.4,911.2 L508.8,910.4 L511.3,909.5 L513.7,908.6 L516.0,907.5 L518.4,906.5 L520.7,905.4 L523.1,904.4 L525.4,903.3 L527.8,902.3 L530.1,901.3 L532.5,900.3 L534.9,899.3 L537.3,898.4 L539.7,897.5 L542.2,896.7 L544.6,895.8 L547.1,895.0 L549.6,894.3 L552.1,893.6 L554.6,892.9 L557.1,892.3 L559.7,891.7 L562.3,891.2 L564.9,890.7 L567.5,890.3 L570.1,889.9 L572.8,889.6 L575.5,889.3 L578.2,889.0 L580.9,888.8 L583.6,888.6 L586.3,888.5 L589.0,888.4 L591.8,888.4 L594.5,888.3 L597.2,888.3 L600.0,888.4 L602.7,888.4 L605.4,888.5 L608.2,888.5 L610.9,888.6 L613.6,888.7 L616.3,888.8 L619.0,889.0 L621.7,889.1 L624.4,889.2 L627.0,889.3 L629.7,889.4 L632.3,889.5 L635.0,889.6 L637.6,889.7 L640.2,889.8 L642.8,889.8 L645.4,889.9 L647.9,890.0 L650.5,890.0 L653.1,890.1 L655.6,890.2 L658.2,890.2 L660.7,890.3 L663.3,890.4 L665.8,890.5 L668.3,890.6 L670.9,890.7 L673.4,890.9 L676.0,891.1 L678.5,891.3 L681.1,891.6 L683.6,891.9 L686.2,892.2 L688.7,892.6 L691.3,893.0 L693.8,893.5 L696.3,894.1 L698.9,894.7 L701.4,895.4 L703.9,896.1 L706.5,896.9 L709.0,897.8 L711.4,898.7 L713.9,899.8 L716.4,900.9 L718.8,902.0 L721.2,903.3 L723.5,904.6 L725.9,905.9 L728.2,907.4 L730.4,908.9 L732.6,910.5 L734.8,912.1 L737.0,913.8 L739.0,915.6 L741.1,917.4 L743.0,919.3 L744.9,921.2 L746.8,923.2 L748.6,925.2 L750.3,927.3 L752.0,929.4 L753.6,931.5 L755.2,933.7 L756.7,935.9 L758.1,938.2 L759.5,940.4 L760.8,942.7 L762.1,945.0 L763.2,947.3 L764.4,949.7 L765.5,952.1 L766.5,954.4 L767.4,956.8 L768.3,959.2 L769.2,961.7 L770.0,964.1 L770.8,966.6 L771.5,969.0 L772.2,971.5 L772.8,974.0 L773.4,976.5 L774.0,979.0 L774.5,981.6 L774.9,984.1 L775.4,986.7 L775.7,989.2 L776.1,991.8 L776.4,994.4 L776.7,997.0 L776.9,999.6 L777.1,1002.3 L777.2,1004.9 L777.3,1007.6 L777.4,1010.2 L777.4,1012.9 L777.3,1015.6 L777.2,1018.3 L777.1,1020.9 L776.9,1023.6 L776.6,1026.3 L776.3,1028.9 L775.9,1031.6 L775.4,1034.2 L774.9,1036.9 L774.3,1039.5 L773.7,1042.0 L772.9,1044.6 L772.1,1047.1 L771.2,1049.6 L770.3,1052.1 L769.2,1054.5 L768.1,1056.9 L766.9,1059.3 L765.7,1061.6 L764.3,1063.8 L762.9,1066.0 L761.4,1068.2 L759.8,1070.3 L758.2,1072.3 L756.5,1074.3 L754.7,1076.2 L752.9,1078.1 L750.9,1079.9 L749.0,1081.6 L747.0,1083.3 L744.9,1084.9 L742.7,1086.5 L740.6,1087.9 L738.3,1089.4 L736.1,1090.8 L733.8,1092.1 L731.4,1093.3 L729.0,1094.5 L726.6,1095.7 L724.2,1096.8 L721.8,1097.8 L719.3,1098.9 L716.8,1099.8 L714.3,1100.7 L711.8,1101.6 L709.3,1102.4 L706.8,1103.2 L704.2,1104.0 L701.7,1104.7 L699.2,1105.4 L696.6,1106.1 L694.1,1106.7 L691.5,1107.3 L689.0,1107.9 L686.4,1108.4 L683.9,1109.0 L681.3,1109.5 L678.8,1109.9 L676.2,1110.4 L673.7,1110.9 L671.1,1111.3 L668.6,1111.7 L666.0,1112.1 L663.4,1112.5 L660.8,1112.8 L658.3,1113.1 L655.7,1113.5 L653.1,1113.8 L650.5,1114.1 L647.9,1114.3 L645.3,1114.6 L642.7,1114.8 L640.1,1115.1 L637.4,1115.3 L634.8,1115.5 L632.1,1115.7 L629.5,1115.8 L626.8,1116.0 L624.2,1116.1 L621.5,1116.3 L618.8,1116.4 L616.2,1116.5 L613.5,1116.5 L610.8,1116.6 L608.1,1116.7 L605.5,1116.7 L602.8,1116.7 L600.1,1116.8 L597.4,1116.8 L594.8,1116.7 L592.1,1116.7 L589.5,1116.7 L586.8,1116.6 L584.2,1116.5 L581.5,1116.5 L578.9,1116.3 L576.3,1116.2 L573.6,1116.1 L571.0,1115.9 L568.4,1115.8 L565.8,1115.6 L563.3,1115.3 L560.7,1115.1 L558.1,1114.8 L555.5,1114.6 L553.0,1114.3 L550.4,1113.9 L547.9,1113.6 L545.3,1113.2 L542.8,1112.7 L540.2,1112.3 L537.7,1111.8 L535.2,1111.3 L532.7,1110.8 L530.1,1110.2 L527.6,1109.6 L525.1,1108.9 L522.6,1108.2 L520.1,1107.5 L517.6,1106.7 L515.1,1105.9 L512.6,1105.1 L510.1,1104.2 L507.7,1103.3 L505.2,1102.3 L502.7,1101.3 L500.3,1100.3 L497.8,1099.2 L495.4,1098.1 L493.0,1097.0 L490.6,1095.8 L488.2,1094.6 L485.9,1093.3 L483.6,1092.0 L481.3,1090.7 L479.0,1089.3 L476.7,1087.9 L474.5,1086.5 L472.3,1085.0 L470.1,1083.5 L468.0,1082.0 L465.9,1080.4 L463.8,1078.8 L461.8,1077.1 L459.8,1075.4 L457.8,1073.7 L455.9,1071.9 L454.1,1070.1 L452.3,1068.3 L450.5,1066.4 L448.7,1064.5 L447.1,1062.6 L445.4,1060.6 L443.9,1058.5 L442.3,1056.5 L440.8,1054.3 L439.4,1052.2 L438.0,1050.0 L436.7,1047.7 L435.5,1045.5 L434.3,1043.1 L433.1,1040.8 L432.0,1038.4 L431.0,1035.9 L430.0,1033.5 L429.1,1030.9 L428.3,1028.4 L427.5,1025.8 L426.8,1023.2 L426.2,1020.6 L425.6,1017.9 L425.2,1015.2 L424.7,1012.6 L424.4,1009.8 L424.2,1007.1 L424.0,1004.4 L423.9,1001.7 L423.9,998.9 L423.9,996.2 L424.1,993.5 L424.3,990.8 L424.7,988.1 L425.1,985.4 L425.6,982.8 L426.2,980.2 L426.9,977.6 L427.7,975.1 L428.5,972.6 L429.5,970.2 L430.5,967.8 L431.7,965.4 L432.9,963.1 L434.2,960.9 L435.6,958.7 L437.0,956.6 L438.6,954.5 L440.2,952.5 L441.9,950.6 L443.7,948.7 L445.5,946.9 L447.4,945.1 L449.3,943.4 L451.3,941.8 L453.4,940.2 L455.5,938.6 L457.6,937.1 L459.8,935.7 L462.0,934.3 L464.3,932.9 L466.6,931.6 L468.9,930.3 L471.2,929.0 L473.5,927.8 L475.9,926.6" fill="none" stroke="#000" stroke-width="4.30" stroke-linecap="round" stroke-linejoin="round"/>
<g fill="none" stroke="#111" stroke-linecap="round" stroke-linejoin="round"><path id="b10_0" stroke-width="2.57" d="M491.6,966.6 L491.1,965.9 L490.5,965.0 L490.0,964.2 L489.5,963.3 L488.9,962.5 L488.4,961.9 L487.8,961.5 L487.3,961.3 L486.7,961.4 L486.0,961.6 L485.3,962.1 L484.6,962.7 L483.9,963.4 L483.3,964.1 L482.8,964.9 L482.4,965.7 L482.0,966.7 L481.8,967.8 L481.7,969.1 L481.7,970.3 L481.8,971.7 L481.9,973.0 L482.1,974.2 L482.4,975.4 L482.7,976.5 L483.1,977.5 L483.7,978.5 L484.3,979.5 L484.9,980.4 L485.5,981.4 L486.1,982.4 L486.7,983.4 L487.3,984.3 L488.0,985.3 L488.8,986.3 L489.5,987.2 L490.1,988.2 L490.8,989.2 L491.3,990.2 L491.6,991.3 L491.9,992.6 L492.1,993.9 L492.2,995.4 L492.1,996.9 L492.0,998.3 L491.8,999.7 L491.5,1000.9 L491.1,1001.9 L490.6,1002.6 L490.1,1003.2 L489.5,1003.9 L488.8,1004.4 L488.1,1004.9 L487.4,1005.2 L486.8,1005.4 L486.2,1005.4 L485.6,1005.2 L485.0,1004.7 L484.5,1004.1 L483.9,1003.4 L483.4,1002.5 L482.9,1001.7 L482.4,1000.8 L481.8,1000.1 M505.2,961.3 L505.1,964.7 L505.0,968.1 L504.9,971.6 L504.8,975.0 L504.7,978.4 L504.7,981.7 L504.7,984.9 L504.9,987.8 L505.0,989.8 L505.2,991.9 L505.3,993.8 L505.5,995.7 L505.8,997.5 L506.1,999.2 L506.5,1000.6 L507.0,1001.9 L507.4,1002.5 L507.8,1003.2 L508.3,1003.8 L508.8,1004.3 L509.3,1004.7 L509.8,1005.1 L510.3,1005.3 L510.8,1005.4 L511.3,1005.4 L511.9,1005.1 L512.5,1004.8 L513.0,1004.4 L513.6,1003.8 L514.2,1003.2 L514.7,1002.6 L515.1,1001.9 L515.6,1000.6 L516.0,999.2 L516.3,997.6 L516.5,995.8 L516.6,993.8 L516.7,991.9 L516.8,989.8 L516.9,987.8 L517.1,984.9 L517.1,981.7 L517.2,978.4 L517.1,975.0 L517.1,971.6 L517.0,968.1 L517.0,964.7 L516.9,961.3 M539.7,966.6 L539.1,965.9 L538.6,965.0 L538.1,964.2 L537.5,963.3 L537.0,962.5 L536.5,961.9 L535.9,961.5 L535.3,961.3 L534.7,961.4 L534.0,961.6 L533.3,962.1 L532.6,962.7 L532.0,963.4 L531.4,964.1 L530.8,964.9 L530.4,965.7 L530.1,966.7 L529.9,967.8 L529.8,969.1 L529.7,970.3 L529.8,971.7 L530.0,973.0 L530.2,974.2 L530.4,975.4 L530.8,976.5 L531.2,977.5 L531.7,978.5 L532.3,979.5 L532.9,980.4 L533.6,981.4 L534.2,982.4 L534.8,983.4 L535.4,984.3 L536.1,985.3 L536.8,986.3 L537.5,987.2 L538.2,988.2 L538.8,989.2 L539.3,990.2 L539.7,991.3 L539.9,992.6 L540.1,993.9 L540.2,995.4 L540.2,996.9 L540.1,998.3 L539.9,999.7 L539.6,1000.9 L539.1,1001.9 L538.7,1002.6 L538.2,1003.2 L537.5,1003.9 L536.9,1004.4 L536.2,1004.9 L535.5,1005.2 L534.8,1005.4 L534.2,1005.4 L533.7,1005.2 L533.1,1004.7 L532.5,1004.1 L532.0,1003.4 L531.5,1002.5 L531.0,1001.7 L530.4,1000.8 L529.9,1000.1 M552.0,962.2 L568.3,961.3 M560.2,961.7 L560.2,1005.4 M586.9,961.3 L593.7,1005.4 M583.4,990.4 L591.0,990.4 M606.0,967.9 L606.0,1005.4 M619.7,1005.4 L619.7,961.3 M633.9,1005.4 L633.9,961.3 M654.0,961.3 L660.8,1005.4 M650.5,990.4 L658.1,990.4 M673.9,961.3 L673.9,1005.4 M673.9,962.2 L674.8,962.2 L675.8,962.1 L676.8,962.0 L677.8,962.0 L678.8,961.9 L679.7,962.0 L680.6,962.2 L681.3,962.6 L682.0,963.3 L682.6,964.1 L683.1,965.1 L683.5,966.2 L683.9,967.4 L684.1,968.7 L684.3,969.9 L684.4,971.0 L684.3,972.2 L684.2,973.6 L683.9,974.9 L683.6,976.3 L683.1,977.6 L682.6,978.8 L682.0,979.9 L681.3,980.7 L680.6,981.2 L679.8,981.5 L679.0,981.8 L678.1,981.9 L677.2,982.1 L676.3,982.2 L675.3,982.3 L674.5,982.5 M674.5,982.5 L675.6,982.8 L676.8,983.0 L678.0,983.2 L679.1,983.4 L680.3,983.7 L681.4,984.0 L682.3,984.5 L683.1,985.1 L683.9,986.0 L684.5,987.1 L685.0,988.3 L685.5,989.5 L685.8,990.9 L686.1,992.3 L686.2,993.6 L686.2,994.8 L686.1,996.1 L685.9,997.4 L685.6,998.7 L685.1,1000.0 L684.6,1001.2 L684.0,1002.4 L683.3,1003.3 L682.5,1004.1 L681.7,1004.6 L680.7,1004.9 L679.6,1005.1 L678.5,1005.2 L677.3,1005.2 L676.1,1005.3 L675.0,1005.3 L673.9,1005.4 M699.1,961.3 L699.1,1004.5 M699.1,1004.5 L708.0,1004.1 M720.8,962.2 L720.8,1005.4 M720.8,962.2 L729.7,961.3 M720.8,983.4 L728.2,983.4 M720.8,1005.0 L729.7,1004.5"/><path stroke-width="2.95" d="M580.1,1005.4 L586.9,961.3 M619.7,961.3 L620.5,963.9 L621.4,966.6 L622.2,969.2 L623.1,971.8 L623.9,974.5 L624.7,977.1 L625.6,979.8 L626.5,982.5 L627.4,985.3 L628.3,988.1 L629.2,991.0 L630.2,993.9 L631.1,996.8 L632.1,999.7 L633.0,1002.5 L633.9,1005.4 M647.2,1005.4 L654.0,961.3"/>
<use href="#b10_0" x="1.32"/>
<use href="#b10_0" x="2.65"/>
<use href="#b10_0" x="3.97"/>
</g>
<g fill="none" stroke="#111" stroke-linecap="round" stroke-linejoin="round"><path id="b10_1" stroke-width="2.57" d="M507.8,1019.6 L514.3,1063.7 M504.4,1048.7 L511.7,1048.7 M526.7,1019.6 L526.7,1063.7 M526.7,1019.6 L527.7,1020.0 L528.7,1020.3 L529.8,1020.6 L530.8,1020.9 L531.9,1021.3 L532.8,1021.7 L533.7,1022.3 L534.5,1023.1 L535.6,1024.7 L536.5,1026.6 L537.3,1028.9 L538.0,1031.4 L538.6,1034.0 L539.0,1036.6 L539.2,1039.2 L539.3,1041.7 L539.3,1044.1 L539.1,1046.7 L538.8,1049.3 L538.4,1051.9 L537.8,1054.4 L537.0,1056.7 L536.2,1058.6 L535.1,1060.2 L534.3,1061.0 L533.3,1061.6 L532.3,1062.1 L531.2,1062.4 L530.1,1062.7 L528.9,1063.0 L527.8,1063.3 L526.7,1063.7 M550.6,1019.6 L557.5,1063.7 M576.7,1020.5 L576.7,1063.7 M576.7,1020.5 L585.2,1019.6 M576.7,1041.7 L583.7,1041.7 M576.7,1063.3 L585.2,1062.8 M597.8,1063.7 L597.8,1019.6 M611.4,1063.7 L611.4,1019.6 M624.1,1020.5 L639.7,1019.6 M631.9,1020.0 L631.9,1063.7 M652.1,1019.6 L652.0,1023.0 L651.9,1026.4 L651.8,1029.9 L651.7,1033.3 L651.6,1036.7 L651.6,1040.0 L651.7,1043.2 L651.8,1046.1 L651.9,1048.1 L652.1,1050.2 L652.2,1052.1 L652.4,1054.0 L652.6,1055.8 L652.9,1057.5 L653.3,1058.9 L653.9,1060.2 L654.2,1060.8 L654.6,1061.5 L655.0,1062.1 L655.5,1062.6 L656.0,1063.0 L656.4,1063.4 L656.9,1063.6 L657.4,1063.7 L657.9,1063.7 L658.4,1063.4 L659.0,1063.1 L659.6,1062.7 L660.1,1062.1 L660.6,1061.5 L661.1,1060.9 L661.5,1060.2 L662.0,1058.9 L662.4,1057.5 L662.7,1055.8 L662.9,1054.1 L663.0,1052.1 L663.1,1050.2 L663.2,1048.1 L663.3,1046.1 L663.4,1043.2 L663.5,1040.0 L663.5,1036.7 L663.5,1033.3 L663.4,1029.9 L663.4,1026.4 L663.3,1023.0 L663.3,1019.6 M676.5,1019.6 L676.5,1063.7 M676.5,1020.5 L677.7,1020.5 L679.0,1020.5 L680.2,1020.5 L681.5,1020.4 L682.7,1020.4 L683.8,1020.6 L684.9,1020.9 L685.7,1021.3 L686.5,1022.1 L687.2,1023.0 L687.8,1024.0 L688.3,1025.2 L688.7,1026.5 L689.0,1027.7 L689.2,1029.0 L689.3,1030.2 L689.2,1031.5 L688.9,1033.0 L688.5,1034.5 L688.0,1036.0 L687.4,1037.4 L686.7,1038.7 L685.9,1039.9 L685.0,1040.8 L684.2,1041.3 L683.4,1041.7 L682.4,1041.9 L681.4,1042.1 L680.3,1042.2 L679.3,1042.2 L678.2,1042.4 L677.2,1042.5 M681.5,1042.5 L690.7,1063.7 M702.9,1020.5 L702.9,1063.7 M702.9,1020.5 L711.4,1019.6 M702.9,1041.7 L709.9,1041.7 M702.9,1063.3 L711.4,1062.8"/><path stroke-width="2.95" d="M501.3,1063.7 L507.8,1019.6 M557.5,1063.7 L564.4,1019.6 M597.8,1019.6 L598.6,1022.2 L599.4,1024.9 L600.2,1027.5 L601.0,1030.1 L601.8,1032.8 L602.6,1035.4 L603.5,1038.1 L604.3,1040.8 L605.1,1043.6 L606.0,1046.4 L606.9,1049.3 L607.8,1052.2 L608.7,1055.1 L609.6,1058.0 L610.5,1060.8 L611.4,1063.7"/>
<use href="#b10_1" x="1.32"/>
<use href="#b10_1" x="2.65"/>
<use href="#b10_1" x="3.97"/>
</g>
<path d="M856.0,1019.3 L858.1,1018.2 L860.2,1017.1 L862.3,1016.0 L864.5,1014.8 L866.7,1013.7 L868.9,1012.5 L871.2,1011.4 L873.4,1010.2 L875.7,1009.0 L878.0,1007.8 L880.3,1006.7 L882.6,1005.5 L884.9,1004.3 L887.3,1003.1 L889.6,1002.0 L892.0,1000.8 L894.4,999.7 L896.7,998.6 L899.1,997.5 L901.5,996.5 L903.9,995.4 L906.3,994.5 L908.7,993.5 L911.1,992.6 L913.6,991.8 L916.0,990.9 L918.4,990.2 L920.9,989.4 L923.4,988.7 L925.8,988.0 L928.2,987.2 L930.7,986.5 L933.1,985.8 L935.6,985.1 L938.1,984.4 L940.5,983.8 L943.0,983.1 L945.4,982.5 L947.9,981.8 L950.4,981.2 L952.9,980.6 L955.4,980.1 L957.8,979.5 L960.3,979.0 L962.9,978.5 L965.4,978.1 L967.9,977.6 L970.4,977.2 L973.0,976.8 L975.5,976.4 L978.1,976.1 L980.6,975.8 L983.2,975.5 L985.7,975.2 L988.3,975.0 L990.9,974.7 L993.5,974.5 L996.1,974.4 L998.7,974.2 L1001.2,974.1 L1003.8,973.9 L1006.4,973.8 L1009.0,973.8 L1011.6,973.7 L1014.2,973.6 L1016.8,973.6 L1019.4,973.6 L1022.0,973.6 L1024.6,973.6 L1027.1,973.6 L1029.7,973.7 L1032.3,973.7 L1034.9,973.8 L1037.4,973.9 L1040.0,974.0 L1042.6,974.1 L1045.1,974.3 L1047.7,974.4 L1050.2,974.6 L1052.8,974.8 L1055.3,975.1 L1057.9,975.3 L1060.4,975.6 L1062.9,976.0 L1065.5,976.3 L1068.0,976.7 L1070.5,977.1 L1073.0,977.6 L1075.5,978.1 L1078.0,978.6 L1080.5,979.2 L1083.0,979.8 L1085.4,980.5 L1087.9,981.2 L1090.4,982.0 L1092.8,982.8 L1095.2,983.6 L1097.6,984.6 L1100.0,985.5 L1102.4,986.5 L1104.8,987.6 L1107.1,988.7 L1109.4,989.9 L1111.7,991.1 L1114.0,992.4 L1116.2,993.7 L1118.5,995.1 L1120.6,996.5 L1122.8,998.0 L1124.9,999.5 L1127.0,1001.1 L1129.1,1002.7 L1131.1,1004.3 L1133.1,1006.1 L1135.0,1007.8 L1136.9,1009.6 L1138.7,1011.4 L1140.5,1013.3 L1142.3,1015.2 L1144.0,1017.2 L1145.7,1019.1 L1147.3,1021.2 L1148.8,1023.2 L1150.3,1025.3 L1151.8,1027.4 L1153.2,1029.6 L1154.5,1031.8 L1155.8,1034.0 L1157.0,1036.2 L1158.2,1038.5 L1159.3,1040.8 L1160.4,1043.1 L1161.3,1045.5 L1162.3,1047.9 L1163.1,1050.3 L1163.9,1052.7 L1164.7,1055.1 L1165.4,1057.6 L1166.0,1060.1 L1166.5,1062.6 L1167.0,1065.1 L1167.4,1067.7 L1167.8,1070.2 L1168.0,1072.8 L1168.3,1075.4 L1168.4,1077.9 L1168.5,1080.5 L1168.5,1083.1 L1168.4,1085.7 L1168.2,1088.3 L1168.0,1090.9 L1167.7,1093.5 L1167.4,1096.1 L1166.9,1098.7 L1166.4,1101.2 L1165.8,1103.8 L1165.2,1106.3 L1164.5,1108.8 L1163.7,1111.3 L1162.8,1113.7 L1161.8,1116.2 L1160.8,1118.6 L1159.7,1120.9 L1158.6,1123.2 L1157.3,1125.5 L1156.0,1127.7 L1154.6,1129.9 L1153.2,1132.1 L1151.7,1134.2 L1150.1,1136.2 L1148.5,1138.2 L1146.8,1140.2 L1145.1,1142.1 L1143.3,1143.9 L1141.5,1145.7 L1139.6,1147.4 L1137.6,1149.1 L1135.6,1150.7 L1133.6,1152.3 L1131.5,1153.8 L1129.4,1155.3 L1127.2,1156.7 L1125.0,1158.1 L1122.8,1159.4 L1120.6,1160.7 L1118.3,1161.9 L1116.0,1163.1 L1113.7,1164.2 L1111.3,1165.3 L1109.0,1166.4 L1106.6,1167.4 L1104.2,1168.4 L1101.8,1169.3 L1099.4,1170.2 L1096.9,1171.1 L1094.5,1172.0 L1092.1,1172.8 L1089.6,1173.6 L1087.1,1174.4 L1084.7,1175.1 L1082.2,1175.9 L1079.7,1176.6 L1077.3,1177.2 L1074.8,1177.9 L1072.3,1178.5 L1069.8,1179.2 L1067.3,1179.7 L1064.8,1180.3 L1062.3,1180.9 L1059.8,1181.4 L1057.3,1181.9 L1054.8,1182.4 L1052.3,1182.9 L1049.8,1183.4 L1047.3,1183.8 L1044.8,1184.2 L1042.2,1184.6 L1039.7,1185.0 L1037.2,1185.4 L1034.6,1185.7 L1032.1,1186.0 L1029.5,1186.3 L1027.0,1186.6 L1024.4,1186.8 L1021.8,1187.0 L1019.3,1187.3 L1016.7,1187.4 L1014.1,1187.6 L1011.5,1187.8 L1008.9,1187.9 L1006.3,1188.0 L1003.8,1188.1 L1001.2,1188.2 L998.6,1188.2 L996.0,1188.2 L993.4,1188.3 L990.8,1188.3 L988.2,1188.3 L985.6,1188.2 L983.0,1188.2 L980.5,1188.2 L977.9,1188.1 L975.3,1188.0 L972.7,1187.9 L970.2,1187.8 L967.6,1187.7 L965.0,1187.6 L962.5,1187.5 L959.9,1187.3 L957.4,1187.2 L954.8,1187.0 L952.3,1186.8 L949.7,1186.6 L947.2,1186.4 L944.7,1186.2 L942.1,1186.0 L939.6,1185.7 L937.1,1185.4 L934.5,1185.2 L932.0,1184.9 L929.5,1184.5 L927.0,1184.2 L924.4,1183.8 L921.9,1183.4 L919.4,1183.0 L916.9,1182.5 L914.3,1182.1 L911.8,1181.6 L909.3,1181.0 L906.8,1180.5 L904.3,1179.9 L901.8,1179.2 L899.3,1178.6 L896.8,1177.9 L894.3,1177.1 L891.8,1176.3 L889.3,1175.5 L886.8,1174.7 L884.4,1173.8 L882.0,1172.8 L879.5,1171.8 L877.1,1170.8 L874.7,1169.8 L872.3,1168.7 L870.0,1167.5 L867.7,1166.3 L865.4,1165.1 L863.1,1163.8 L860.8,1162.5 L858.6,1161.1 L856.4,1159.7 L854.3,1158.3 L852.2,1156.8 L850.1,1155.3 L848.0,1153.7 L846.0,1152.1 L844.1,1150.4 L842.2,1148.7 L840.3,1147.0 L838.5,1145.2 L836.8,1143.3 L835.1,1141.5 L833.4,1139.5 L831.8,1137.6 L830.3,1135.6 L828.8,1133.5 L827.3,1131.4 L826.0,1129.3 L824.6,1127.1 L823.4,1124.9 L822.2,1122.7 L821.1,1120.4 L820.0,1118.0 L819.0,1115.7 L818.1,1113.3 L817.2,1110.8 L816.4,1108.3 L815.7,1105.8 L815.0,1103.3 L814.5,1100.7 L813.9,1098.2 L813.5,1095.6 L813.1,1092.9 L812.8,1090.3 L812.6,1087.6 L812.5,1085.0 L812.4,1082.3 L812.4,1079.6 L812.5,1077.0 L812.7,1074.3 L812.9,1071.7 L813.2,1069.0 L813.6,1066.4 L814.1,1063.8 L814.7,1061.2 L815.3,1058.7 L816.1,1056.2 L816.9,1053.7 L817.7,1051.3 L818.7,1048.9 L819.8,1046.5 L820.9,1044.2 L822.1,1042.0 L823.4,1039.8 L824.7,1037.7 L826.1,1035.6 L827.6,1033.6 L829.2,1031.7 L830.8,1029.8 L832.5,1027.9 L834.3,1026.2 L836.1,1024.5 L838.0,1022.9 L840.0,1021.3 L842.0,1019.8 L844.0,1018.3 L846.1,1017.0 L848.3,1015.6 L850.4,1014.4 L852.7,1013.1 L854.9,1012.0 L857.2,1010.8 L859.5,1009.8 L861.9,1008.7 L864.3,1007.7 L866.7,1006.8 L869.1,1005.8Z" fill="#B3FAA3"/>
<path d="M856.0,1019.3 L858.1,1018.2 L860.2,1017.1 L862.3,1016.0 L864.5,1014.8 L866.7,1013.7 L868.9,1012.5 L871.2,1011.4 L873.4,1010.2 L875.7,1009.0 L878.0,1007.8 L880.3,1006.7 L882.6,1005.5 L884.9,1004.3 L887.3,1003.1 L889.6,1002.0 L892.0,1000.8 L894.4,999.7 L896.7,998.6 L899.1,997.5 L901.5,996.5 L903.9,995.4 L906.3,994.5 L908.7,993.5 L911.1,992.6 L913.6,991.8 L916.0,990.9 L918.4,990.2 L920.9,989.4 L923.4,988.7 L925.8,988.0 L928.2,987.2 L930.7,986.5 L933.1,985.8 L935.6,985.1 L938.1,984.4 L940.5,983.8 L943.0,983.1 L945.4,982.5 L947.9,981.8 L950.4,981.2 L952.9,980.6 L955.4,980.1 L957.8,979.5 L960.3,979.0 L962.9,978.5 L965.4,978.1 L967.9,977.6 L970.4,977.2 L973.0,976.8 L975.5,976.4 L978.1,976.1 L980.6,975.8 L983.2,975.5 L985.7,975.2 L988.3,975.0 L990.9,974.7 L993.5,974.5 L996.1,974.4 L998.7,974.2 L1001.2,974.1 L1003.8,973.9 L1006.4,973.8 L1009.0,973.8 L1011.6,973.7 L1014.2,973.6 L1016.8,973.6 L1019.4,973.6 L1022.0,973.6 L1024.6,973.6 L1027.1,973.6 L1029.7,973.7 L1032.3,973.7 L1034.9,973.8 L1037.4,973.9 L1040.0,974.0 L1042.6,974.1 L1045.1,974.3 L1047.7,974.4 L1050.2,974.6 L1052.8,974.8 L1055.3,975.1 L1057.9,975.3 L1060.4,975.6 L1062.9,976.0 L1065.5,976.3 L1068.0,976.7 L1070.5,977.1 L1073.0,977.6 L1075.5,978.1 L1078.0,978.6 L1080.5,979.2 L1083.0,979.8 L1085.4,980.5 L1087.9,981.2 L1090.4,982.0 L1092.8,982.8 L1095.2,983.6 L1097.6,984.6 L1100.0,985.5 L1102.4,986.5 L1104.8,987.6 L1107.1,988.7 L1109.4,989.9 L1111.7,991.1 L1114.0,992.4 L1116.2,993.7 L1118.5,995.1 L1120.6,996.5 L1122.8,998.0 L1124.9,999.5 L1127.0,1001.1 L1129.1,1002.7 L1131.1,1004.3 L1133.1,1006.1 L1135.0,1007.8 L1136.9,1009.6 L1138.7,1011.4 L1140.5,1013.3 L1142.3,1015.2 L1144.0,1017.2 L1145.7,1019.1 L1147.3,1021.2 L1148.8,1023.2 L1150.3,1025.3 L1151.8,1027.4 L1153.2,1029.6 L1154.5,1031.8 L1155.8,1034.0 L1157.0,1036.2 L1158.2,1038.5 L1159.3,1040.8 L1160.4,1043.1 L1161.3,1045.5 L1162.3,1047.9 L1163.1,1050.3 L1163.9,1052.7 L1164.7,1055.1 L1165.4,1057.6 L1166.0,1060.1 L1166.5,1062.6 L1167.0,1065.1 L1167.4,1067.7 L1167.8,1070.2 L1168.0,1072.8 L1168.3,1075.4 L1168.4,1077.9 L1168.5,1080.5 L1168.5,1083.1 L1168.4,1085.7 L1168.2,1088.3 L1168.0,1090.9 L1167.7,1093.5 L1167.4,1096.1 L1166.9,1098.7 L1166.4,1101.2 L1165.8,1103.8 L1165.2,1106.3 L1164.5,1108.8 L1163.7,1111.3 L1162.8,1113.7 L1161.8,1116.2 L1160.8,1118.6 L1159.7,1120.9 L1158.6,1123.2 L1157.3,1125.5 L1156.0,1127.7 L1154.6,1129.9 L1153.2,1132.1 L1151.7,1134.2 L1150.1,1136.2 L1148.5,1138.2 L1146.8,1140.2 L1145.1,1142.1 L1143.3,1143.9 L1141.5,1145.7 L1139.6,1147.4 L1137.6,1149.1 L1135.6,1150.7 L1133.6,1152.3 L1131.5,1153.8 L1129.4,1155.3 L1127.2,1156.7 L1125.0,1158.1 L1122.8,1159.4 L1120.6,1160.7 L1118.3,1161.9 L1116.0,1163.1 L1113.7,1164.2 L1111.3,1165.3 L1109.0,1166.4 L1106.6,1167.4 L1104.2,1168.4 L1101.8,1169.3 L1099.4,1170.2 L1096.9,1171.1 L1094.5,1172.0 L1092.1,1172.8 L1089.6,1173.6 L1087.1,1174.4 L1084.7,1175.1 L1082.2,1175.9 L1079.7,1176.6 L1077.3,1177.2 L1074.8,1177.9 L1072.3,1178.5 L1069.8,1179.2 L1067.3,1179.7 L1064.8,1180.3 L1062.3,1180.9 L1059.8,1181.4 L1057.3,1181.9 L1054.8,1182.4 L1052.3,1182.9 L1049.8,1183.4 L1047.3,1183.8 L1044.8,1184.2 L1042.2,1184.6 L1039.7,1185.0 L1037.2,1185.4 L1034.6,1185.7 L1032.1,1186.0 L1029.5,1186.3 L1027.0,1186.6 L1024.4,1186.8 L1021.8,1187.0 L1019.3,1187.3 L1016.7,1187.4 L1014.1,1187.6 L1011.5,1187.8 L1008.9,1187.9 L1006.3,1188.0 L1003.8,1188.1 L1001.2,1188.2 L998.6,1188.2 L996.0,1188.2 L993.4,1188.3 L990.8,1188.3 L988.2,1188.3 L985.6,1188.2 L983.0,1188.2 L980.5,1188.2 L977.9,1188.1 L975.3,1188.0 L972.7,1187.9 L970.2,1187.8 L967.6,1187.7 L965.0,1187.6 L962.5,1187.5 L959.9,1187.3 L957.4,1187.2 L954.8,1187.0 L952.3,1186.8 L949.7,1186.6 L947.2,1186.4 L944.7,1186.2 L942.1,1186.0 L939.6,1185.7 L937.1,1185.4 L934.5,1185.2 L932.0,1184.9 L929.5,1184.5 L927.0,1184.2 L924.4,1183.8 L921.9,1183.4 L919.4,1183.0 L916.9,1182.5 L914.3,1182.1 L911.8,1181.6 L909.3,1181.0 L906.8,1180.5 L904.3,1179.9 L901.8,1179.2 L899.3,1178.6 L896.8,1177.9 L894.3,1177.1 L891.8,1176.3 L889.3,1175.5 L886.8,1174.7 L884.4,1173.8 L882.0,1172.8 L879.5,1171.8 L877.1,1170.8 L874.7,1169.8 L872.3,1168.7 L870.0,1167.5 L867.7,1166.3 L865.4,1165.1 L863.1,1163.8 L860.8,1162.5 L858.6,1161.1 L856.4,1159.7 L854.3,1158.3 L852.2,1156.8 L850.1,1155.3 L848.0,1153.7 L846.0,1152.1 L844.1,1150.4 L842.2,1148.7 L840.3,1147.0 L838.5,1145.2 L836.8,1143.3 L835.1,1141.5 L833.4,1139.5 L831.8,1137.6 L830.3,1135.6 L828.8,1133.5 L827.3,1131.4 L826.0,1129.3 L824.6,1127.1 L823.4,1124.9 L822.2,1122.7 L821.1,1120.4 L820.0,1118.0 L819.0,1115.7 L818.1,1113.3 L817.2,1110.8 L816.4,1108.3 L815.7,1105.8 L815.0,1103.3 L814.5,1100.7 L813.9,1098.2 L813.5,1095.6 L813.1,1092.9 L812.8,1090.3 L812.6,1087.6 L812.5,1085.0 L812.4,1082.3 L812.4,1079.6 L812.5,1077.0 L812.7,1074.3 L812.9,1071.7 L813.2,1069.0 L813.6,1066.4 L814.1,1063.8 L814.7,1061.2 L815.3,1058.7 L816.1,1056.2 L816.9,1053.7 L817.7,1051.3 L818.7,1048.9 L819.8,1046.5 L820.9,1044.2 L822.1,1042.0 L823.4,1039.8 L824.7,1037.7 L826.1,1035.6 L827.6,1033.6 L829.2,1031.7 L830.8,1029.8 L832.5,1027.9 L834.3,1026.2 L836.1,1024.5 L838.0,1022.9 L840.0,1021.3 L842.0,1019.8 L844.0,1018.3 L846.1,1017.0 L848.3,1015.6 L850.4,1014.4 L852.7,1013.1 L854.9,1012.0 L857.2,1010.8 L859.5,1009.8 L861.9,1008.7 L864.3,1007.7 L866.7,1006.8 L869.1,1005.8" fill="none" stroke="#000" stroke-width="4.30" stroke-linecap="round" stroke-linejoin="round"/>
<g fill="none" stroke="#111" stroke-linecap="round" stroke-linejoin="round"><path id="b11_0" stroke-width="2.57" d="M914.9,1036.6 L914.3,1035.9 L913.8,1035.0 L913.2,1034.2 L912.7,1033.3 L912.1,1032.6 L911.6,1031.9 L911.0,1031.5 L910.3,1031.3 L909.6,1031.4 L908.8,1031.7 L907.9,1032.2 L907.0,1032.9 L906.1,1033.7 L905.3,1034.6 L904.5,1035.6 L903.9,1036.6 L903.1,1038.2 L902.6,1040.0 L902.1,1042.1 L901.8,1044.3 L901.5,1046.6 L901.4,1048.9 L901.3,1051.2 L901.3,1053.3 L901.3,1055.6 L901.4,1058.0 L901.5,1060.5 L901.8,1063.0 L902.1,1065.3 L902.5,1067.5 L903.1,1069.4 L903.9,1071.0 L904.5,1071.9 L905.1,1072.7 L905.9,1073.5 L906.6,1074.1 L907.4,1074.7 L908.2,1075.1 L909.0,1075.4 L909.7,1075.4 L910.4,1075.2 L911.0,1074.8 L911.7,1074.1 L912.3,1073.4 L913.0,1072.5 L913.6,1071.7 L914.2,1070.8 L914.9,1070.1 M933.5,1031.3 L940.3,1075.4 M929.9,1060.4 L937.5,1060.4 M952.0,1075.4 L955.9,1031.3 M955.9,1031.3 L965.6,1060.4 M975.3,1031.3 L979.2,1075.4 M992.1,1031.3 L992.1,1075.4 M992.1,1032.2 L993.0,1032.2 L993.9,1032.2 L994.9,1032.2 L995.8,1032.2 L996.8,1032.2 L997.6,1032.4 L998.4,1032.6 L999.1,1033.0 L999.8,1033.8 L1000.4,1034.7 L1001.0,1035.8 L1001.4,1037.1 L1001.8,1038.4 L1002.1,1039.7 L1002.3,1041.1 L1002.3,1042.3 L1002.3,1043.7 L1002.2,1045.2 L1001.9,1046.8 L1001.5,1048.4 L1001.1,1049.9 L1000.5,1051.3 L999.9,1052.4 L999.1,1053.3 L998.4,1053.9 L997.7,1054.2 L996.9,1054.4 L996.0,1054.6 L995.1,1054.7 L994.1,1054.8 L993.2,1054.9 L992.4,1055.1 M1014.6,1037.9 L1014.6,1075.4 M1028.3,1075.4 L1028.3,1031.3 M1042.5,1075.4 L1042.5,1031.3 M1071.0,1035.7 L1070.3,1035.1 L1069.6,1034.4 L1068.9,1033.6 L1068.3,1032.9 L1067.6,1032.3 L1066.9,1031.7 L1066.2,1031.4 L1065.5,1031.3 L1064.6,1031.4 L1063.7,1031.9 L1062.7,1032.5 L1061.8,1033.3 L1060.9,1034.2 L1060.0,1035.3 L1059.2,1036.4 L1058.6,1037.5 L1057.8,1039.1 L1057.2,1041.0 L1056.8,1043.0 L1056.4,1045.2 L1056.1,1047.5 L1055.9,1049.8 L1055.9,1052.1 L1055.8,1054.2 L1055.9,1056.4 L1055.9,1058.7 L1056.1,1061.1 L1056.4,1063.4 L1056.7,1065.6 L1057.2,1067.7 L1057.8,1069.5 L1058.6,1071.0 L1059.2,1071.9 L1059.9,1072.7 L1060.6,1073.4 L1061.5,1074.1 L1062.3,1074.6 L1063.1,1075.1 L1064.0,1075.3 L1064.8,1075.4 L1065.6,1075.3 L1066.4,1075.0 L1067.3,1074.6 L1068.2,1074.1 L1069.0,1073.4 L1069.8,1072.6 L1070.4,1071.8 L1071.0,1071.0 L1071.5,1069.8 L1071.7,1068.4 L1071.8,1066.9 L1071.8,1065.3 L1071.8,1063.6 L1071.7,1061.9 L1071.6,1060.2 L1071.7,1058.6 M1066.8,1057.8 L1073.0,1057.8"/><path stroke-width="2.95" d="M926.7,1075.4 L933.5,1031.3 M965.6,1060.4 L975.3,1031.3 M1028.3,1031.3 L1029.2,1033.9 L1030.0,1036.6 L1030.8,1039.2 L1031.7,1041.8 L1032.5,1044.5 L1033.3,1047.1 L1034.2,1049.8 L1035.1,1052.5 L1036.0,1055.3 L1036.9,1058.1 L1037.8,1061.0 L1038.8,1063.9 L1039.7,1066.8 L1040.7,1069.7 L1041.6,1072.5 L1042.5,1075.4"/>
<use href="#b11_0" x="1.32"/>
<use href="#b11_0" x="2.65"/>
<use href="#b11_0" x="3.97"/>
</g>
<g fill="none" stroke="#111" stroke-linecap="round" stroke-linejoin="round"><path id="b11_1" stroke-width="2.57" d="M896.4,1091.3 L897.0,1091.8 L897.7,1092.3 L898.4,1092.7 L899.1,1093.2 L899.7,1093.7 L900.3,1094.3 L900.9,1094.9 L901.4,1095.7 L902.0,1097.3 L902.5,1099.2 L902.8,1101.4 L903.0,1103.7 L903.1,1106.2 L903.1,1108.6 L903.1,1111.1 L903.1,1113.3 L903.1,1115.6 L903.1,1118.1 L903.1,1120.5 L903.0,1123.0 L902.8,1125.3 L902.5,1127.5 L902.0,1129.4 L901.4,1131.0 L900.9,1131.8 L900.3,1132.7 L899.7,1133.4 L899.1,1134.1 L898.4,1134.6 L897.7,1135.0 L897.0,1135.3 L896.4,1135.4 L895.7,1135.3 L895.0,1135.0 L894.4,1134.6 L893.7,1134.1 L893.0,1133.4 L892.4,1132.7 L891.8,1131.8 L891.4,1131.0 L890.7,1129.4 L890.3,1127.5 L890.0,1125.3 L889.8,1123.0 L889.6,1120.5 L889.6,1118.1 L889.6,1115.6 L889.6,1113.3 L889.6,1111.1 L889.6,1108.6 L889.6,1106.2 L889.8,1103.7 L890.0,1101.4 L890.3,1099.2 L890.7,1097.3 L891.4,1095.7 L891.8,1094.9 L892.4,1094.3 L893.0,1093.7 L893.7,1093.2 L894.4,1092.7 L895.0,1092.3 L895.7,1091.8 L896.4,1091.3 M916.4,1091.3 L916.4,1135.4 M916.4,1092.2 L917.6,1092.2 L918.9,1092.2 L920.2,1092.1 L921.5,1092.1 L922.8,1092.1 L924.0,1092.3 L925.1,1092.6 L926.0,1093.0 L926.8,1093.8 L927.5,1094.7 L928.1,1095.7 L928.6,1096.9 L929.1,1098.2 L929.4,1099.4 L929.6,1100.7 L929.7,1101.9 L929.6,1103.2 L929.3,1104.7 L928.9,1106.2 L928.4,1107.7 L927.7,1109.1 L926.9,1110.4 L926.1,1111.6 L925.2,1112.5 L924.4,1113.0 L923.5,1113.4 L922.5,1113.6 L921.4,1113.8 L920.3,1113.9 L919.2,1113.9 L918.1,1114.1 L917.1,1114.2 M921.5,1114.2 L931.1,1135.4 M952.3,1091.3 L952.3,1135.4 M964.9,1091.3 L964.9,1135.4 M952.3,1114.2 L964.9,1113.3 M984.0,1091.3 L984.6,1091.8 L985.3,1092.3 L986.0,1092.7 L986.7,1093.2 L987.4,1093.7 L988.0,1094.3 L988.5,1094.9 L989.0,1095.7 L989.6,1097.3 L990.1,1099.2 L990.4,1101.4 L990.6,1103.7 L990.7,1106.2 L990.8,1108.6 L990.8,1111.1 L990.8,1113.3 L990.8,1115.6 L990.8,1118.1 L990.7,1120.5 L990.6,1123.0 L990.4,1125.3 L990.1,1127.5 L989.6,1129.4 L989.0,1131.0 L988.5,1131.8 L988.0,1132.7 L987.4,1133.4 L986.7,1134.1 L986.0,1134.6 L985.3,1135.0 L984.6,1135.3 L984.0,1135.4 L983.4,1135.3 L982.7,1135.0 L982.0,1134.6 L981.3,1134.1 L980.7,1133.4 L980.0,1132.7 L979.5,1131.8 L979.0,1131.0 L978.4,1129.4 L977.9,1127.5 L977.6,1125.3 L977.4,1123.0 L977.3,1120.5 L977.2,1118.1 L977.2,1115.6 L977.2,1113.3 L977.2,1111.1 L977.2,1108.6 L977.3,1106.2 L977.4,1103.7 L977.6,1101.4 L977.9,1099.2 L978.4,1097.3 L979.0,1095.7 L979.5,1094.9 L980.0,1094.3 L980.7,1093.7 L981.3,1093.2 L982.0,1092.7 L982.7,1092.3 L983.4,1091.8 L984.0,1091.3 M1002.5,1092.2 L1018.8,1091.3 M1010.7,1091.7 L1010.7,1135.4 M1031.6,1092.2 L1031.6,1135.4 M1031.6,1092.2 L1040.5,1091.3 M1031.6,1113.3 L1038.9,1113.3 M1031.6,1135.0 L1040.5,1134.5 M1053.3,1091.3 L1053.3,1134.5 M1053.3,1134.5 L1062.2,1134.1 M1084.2,1096.6 L1083.7,1095.9 L1083.1,1095.0 L1082.6,1094.2 L1082.1,1093.3 L1081.5,1092.5 L1081.0,1091.9 L1080.4,1091.5 L1079.9,1091.3 L1079.3,1091.4 L1078.6,1091.6 L1077.9,1092.1 L1077.2,1092.7 L1076.5,1093.4 L1075.9,1094.1 L1075.4,1094.9 L1075.0,1095.7 L1074.6,1096.7 L1074.4,1097.8 L1074.3,1099.1 L1074.3,1100.3 L1074.4,1101.7 L1074.5,1103.0 L1074.7,1104.2 L1075.0,1105.4 L1075.3,1106.5 L1075.8,1107.5 L1076.3,1108.5 L1076.9,1109.5 L1077.5,1110.4 L1078.1,1111.4 L1078.7,1112.4 L1079.3,1113.3 L1079.9,1114.3 L1080.6,1115.3 L1081.3,1116.3 L1082.1,1117.2 L1082.7,1118.2 L1083.3,1119.2 L1083.8,1120.2 L1084.2,1121.3 L1084.5,1122.6 L1084.6,1123.9 L1084.7,1125.4 L1084.7,1126.9 L1084.6,1128.3 L1084.4,1129.7 L1084.1,1130.9 L1083.7,1131.9 L1083.2,1132.6 L1082.7,1133.2 L1082.1,1133.9 L1081.4,1134.4 L1080.7,1134.9 L1080.0,1135.2 L1079.4,1135.4 L1078.8,1135.4 L1078.2,1135.2 L1077.6,1134.7 L1077.1,1134.1 L1076.6,1133.4 L1076.0,1132.5 L1075.5,1131.7 L1075.0,1130.8 L1074.4,1130.1"/><path stroke-width="2.95" d=""/>
<use href="#b11_1" x="1.32"/>
<use href="#b11_1" x="2.65"/>
<use href="#b11_1" x="3.97"/>
</g>
</svg></body></html>
